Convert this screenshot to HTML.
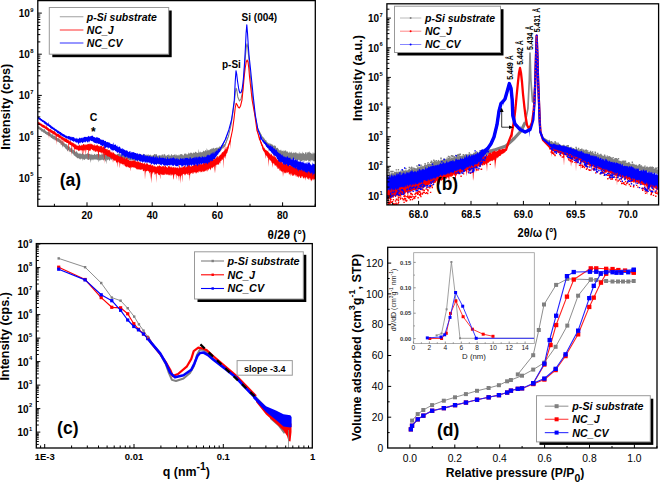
<!DOCTYPE html>
<html><head><meta charset="utf-8"><style>html,body{margin:0;padding:0;background:#fff;width:660px;height:482px;overflow:hidden}svg{display:block}text{font-family:"Liberation Sans",sans-serif}</style></head>
<body><svg width="660" height="482" viewBox="0 0 660 482">
<rect width="660" height="482" fill="#fff"/>
<clipPath id="ca"><rect x="37.8" y="0.6" width="277.5" height="205.70000000000002"/></clipPath>
<g clip-path="url(#ca)">
<polyline points="38.0,127.5 58.0,140.0 78.0,156.0 91.0,157.0 103.0,157.0 128.0,157.0 156.0,158.0 181.0,158.0 206.0,154.0 219.0,150.0 225.0,145.0 228.5,136.0 231.0,125.0 233.0,112.0 234.6,100.0 235.4,92.0 236.1,88.2 236.8,90.0 237.8,97.0 239.5,101.0 241.0,99.0 242.5,92.0 243.5,80.0 244.5,68.0 245.5,55.0 246.3,47.0 247.0,43.8 247.7,47.0 248.6,56.0 249.6,68.0 251.0,82.0 252.5,97.0 255.0,115.0 257.5,128.0 262.0,137.0 268.0,145.0 281.0,154.0 298.5,157.0 315.5,157.0" fill="none" stroke="#808080" stroke-width="1.1" stroke-linejoin="round"/>
<polygon points="37.8,126.0 38.3,125.7 38.8,126.8 39.3,126.3 39.8,127.3 40.3,127.5 40.8,127.4 41.3,128.1 41.8,128.3 42.3,129.1 42.8,128.7 43.3,129.2 43.8,129.7 44.3,129.5 44.8,128.5 45.3,130.5 45.8,131.1 46.3,131.2 46.8,131.7 47.3,131.9 47.8,131.7 48.3,132.5 48.8,130.9 49.3,132.3 49.8,132.7 50.3,133.2 50.8,133.7 51.3,134.3 51.8,134.8 52.3,134.1 52.8,134.6 53.3,135.8 53.8,135.5 54.3,135.6 54.8,136.1 55.3,136.0 55.8,137.4 56.3,137.1 56.8,137.5 57.3,138.3 57.8,137.9 58.3,138.0 58.8,138.7 59.3,139.5 59.8,139.1 60.3,139.9 60.8,140.3 61.3,140.4 61.8,141.6 62.3,141.1 62.8,141.6 63.3,141.9 63.8,143.0 64.3,142.6 64.8,143.8 65.3,144.3 65.8,143.7 66.3,144.0 66.8,144.4 67.3,145.3 67.8,146.0 68.3,146.8 68.8,146.2 69.3,146.5 69.8,146.7 70.3,147.9 70.8,148.4 71.3,148.1 71.8,148.3 72.3,148.4 72.8,150.0 73.3,149.9 73.8,149.6 74.3,150.8 74.8,150.9 75.3,152.2 75.8,151.5 76.3,150.6 76.8,152.0 77.3,152.3 77.8,153.0 78.3,153.9 78.8,153.0 79.3,154.0 79.8,152.9 80.3,154.3 80.8,153.0 81.3,154.2 81.8,153.9 82.3,152.0 82.8,153.4 83.3,154.3 83.8,154.0 84.3,154.7 84.8,154.3 85.3,154.0 85.8,154.6 86.3,153.7 86.8,154.2 87.3,153.6 87.8,152.4 88.3,154.2 88.8,153.5 89.3,153.9 89.8,153.7 90.3,154.5 90.8,154.2 91.3,154.9 91.8,153.4 92.3,154.8 92.8,154.7 93.3,155.1 93.8,154.7 94.3,153.8 94.8,153.9 95.3,155.0 95.8,154.5 96.3,154.4 96.8,154.0 97.3,154.3 97.8,154.1 98.3,153.6 98.8,153.8 99.3,154.5 99.8,154.3 100.3,154.5 100.8,155.0 101.3,154.8 101.8,153.0 102.3,154.6 102.8,154.6 103.3,154.1 103.8,153.4 104.3,153.7 104.8,153.7 105.3,153.7 105.8,154.0 106.3,153.4 106.8,153.9 107.3,154.2 107.8,155.0 108.3,154.2 108.8,154.7 109.3,154.7 109.8,154.2 110.3,153.7 110.8,154.6 111.3,153.7 111.8,154.1 112.3,154.8 112.8,153.3 113.3,154.4 113.8,154.6 114.3,153.5 114.8,154.9 115.3,153.7 115.8,154.7 116.3,154.4 116.8,154.7 117.3,153.5 117.8,154.3 118.3,153.2 118.8,153.9 119.3,153.8 119.8,154.1 120.3,154.5 120.8,154.3 121.3,153.3 121.8,154.7 122.3,151.3 122.8,153.6 123.3,154.4 123.8,153.8 124.3,154.3 124.8,153.2 125.3,154.1 125.8,155.0 126.3,154.1 126.8,153.2 127.3,154.5 127.8,153.6 128.3,154.2 128.8,154.7 129.3,153.3 129.8,155.1 130.3,154.5 130.8,153.2 131.3,154.6 131.8,153.5 132.3,154.0 132.8,153.6 133.3,154.0 133.8,154.5 134.3,153.7 134.8,155.2 135.3,154.4 135.8,154.6 136.3,154.4 136.8,155.1 137.3,154.9 137.8,154.2 138.3,154.6 138.8,153.8 139.3,154.2 139.8,153.7 140.3,154.0 140.8,154.2 141.3,154.9 141.8,153.9 142.3,155.0 142.8,155.4 143.3,153.6 143.8,154.5 144.3,154.0 144.8,154.5 145.3,154.4 145.8,155.5 146.3,155.3 146.8,154.3 147.3,154.5 147.8,155.4 148.3,153.8 148.8,155.4 149.3,154.7 149.8,155.5 150.3,154.3 150.8,155.2 151.3,155.5 151.8,155.7 152.3,155.5 152.8,155.5 153.3,154.8 153.8,155.0 154.3,153.9 154.8,154.0 155.3,154.3 155.8,154.6 156.3,154.2 156.8,154.0 157.3,155.9 157.8,155.7 158.3,155.2 158.8,155.7 159.3,154.7 159.8,155.4 160.3,155.4 160.8,155.3 161.3,155.7 161.8,154.4 162.3,154.3 162.8,154.7 163.3,155.9 163.8,153.9 164.3,154.5 164.8,153.8 165.3,155.1 165.8,155.9 166.3,155.7 166.8,155.5 167.3,155.0 167.8,154.9 168.3,154.1 168.8,155.2 169.3,155.9 169.8,154.2 170.3,155.8 170.8,155.7 171.3,153.9 171.8,154.3 172.3,155.2 172.8,155.6 173.3,155.1 173.8,155.2 174.3,154.0 174.8,155.0 175.3,155.7 175.8,153.9 176.3,154.6 176.8,155.6 177.3,155.6 177.8,154.9 178.3,155.7 178.8,154.5 179.3,154.6 179.8,155.8 180.3,154.1 180.8,154.2 181.3,153.9 181.8,154.3 182.3,154.2 182.8,155.2 183.3,155.4 183.8,155.3 184.3,153.3 184.8,153.9 185.3,153.1 185.8,154.3 186.3,153.4 186.8,154.8 187.3,154.5 187.8,154.2 188.3,153.5 188.8,152.3 189.3,153.4 189.8,153.5 190.3,153.1 190.8,152.2 191.3,153.2 191.8,152.3 192.3,153.9 192.8,153.1 193.3,152.6 193.8,152.4 194.3,153.1 194.8,152.7 195.3,151.5 195.8,152.0 196.3,152.1 196.8,153.1 197.3,153.1 197.8,152.7 198.3,152.7 198.8,148.8 199.3,152.9 199.8,152.0 200.3,152.6 200.8,151.2 201.3,152.4 201.8,152.3 202.3,152.2 202.8,151.7 203.3,150.9 203.8,150.4 204.3,151.5 204.8,151.3 205.3,150.1 205.8,150.2 206.3,151.4 206.8,147.9 207.3,149.5 207.8,150.8 208.3,149.7 208.8,150.5 209.3,150.2 209.8,149.5 210.3,149.3 210.8,149.2 211.3,147.9 211.8,149.5 212.3,148.1 212.8,149.0 213.3,147.5 213.8,148.2 214.3,148.5 214.8,148.7 215.3,147.9 215.8,148.0 216.3,147.5 216.8,147.7 217.3,148.5 217.8,147.0 218.3,148.3 218.8,146.9 219.3,146.8 219.8,146.3 220.3,146.4 220.8,146.8 221.3,146.1 221.8,145.8 222.3,145.2 222.8,145.2 223.3,144.6 223.8,144.8 224.3,144.3 224.8,143.9 225.3,143.2 225.8,142.2 226.3,140.6 226.8,139.6 227.3,138.5 227.8,137.5 228.3,136.2 228.8,134.6 229.3,132.5 229.8,130.3 230.3,128.1 230.8,125.9 231.3,123.0 231.8,119.8 232.3,116.5 232.8,113.3 233.3,109.7 233.8,106.0 234.3,102.2 234.8,98.0 235.3,93.0 235.8,89.8 236.3,88.7 236.8,90.0 237.3,93.5 237.8,97.0 238.3,98.2 238.8,99.4 239.3,100.5 239.8,100.6 240.3,99.9 240.8,99.3 241.3,97.6 241.8,95.3 242.3,92.9 242.8,88.4 243.3,82.4 243.8,76.4 244.3,70.4 244.8,64.1 245.3,57.6 245.8,52.0 246.3,47.0 246.8,44.7 247.3,45.2 247.8,48.0 248.3,53.0 248.8,58.4 249.3,64.4 249.8,70.0 250.3,75.0 250.8,80.0 251.3,85.0 251.8,90.0 252.3,95.0 252.8,99.2 253.3,102.8 253.8,106.4 254.3,110.0 254.8,113.6 255.3,116.6 255.8,119.2 256.3,121.8 256.8,124.4 257.3,127.0 257.8,128.6 258.3,129.5 258.8,130.4 259.3,131.3 259.8,132.0 260.3,132.9 260.8,133.9 261.3,134.4 261.8,135.3 262.3,136.4 262.8,137.1 263.3,137.0 263.8,138.3 264.3,138.3 264.8,139.3 265.3,139.9 265.8,140.2 266.3,140.3 266.8,142.1 267.3,142.5 267.8,142.3 268.3,143.1 268.8,143.6 269.3,142.8 269.8,144.2 270.3,143.7 270.8,143.5 271.3,144.1 271.8,144.4 272.3,144.6 272.8,144.7 273.3,146.1 273.8,145.6 274.3,145.5 274.8,145.5 275.3,145.8 275.8,146.1 276.3,148.3 276.8,148.0 277.3,148.1 277.8,147.5 278.3,148.9 278.8,149.6 279.3,150.5 279.8,150.2 280.3,149.5 280.8,150.5 281.3,151.4 281.8,149.6 282.3,150.7 282.8,151.2 283.3,150.1 283.8,151.7 284.3,151.0 284.8,150.5 285.3,150.3 285.8,150.5 286.3,152.3 286.8,150.8 287.3,151.2 287.8,151.9 288.3,152.9 288.8,152.6 289.3,151.3 289.8,153.0 290.3,152.3 290.8,152.7 291.3,151.3 291.8,152.7 292.3,153.4 292.8,152.8 293.3,153.0 293.8,152.1 294.3,153.2 294.8,152.4 295.3,152.8 295.8,152.1 296.3,152.5 296.8,153.4 297.3,153.3 297.8,153.4 298.3,152.5 298.8,154.3 299.3,153.6 299.8,151.4 300.3,153.5 300.8,153.2 301.3,153.4 301.8,153.6 302.3,151.3 302.8,153.8 303.3,153.1 303.8,152.8 304.3,154.3 304.8,153.8 305.3,152.3 305.8,152.2 306.3,152.1 306.8,154.5 307.3,152.5 307.8,152.3 308.3,151.7 308.8,152.8 309.3,151.0 309.8,152.8 310.3,153.1 310.8,152.6 311.3,153.3 311.8,154.0 312.3,154.3 312.8,152.3 313.3,152.6 313.8,154.1 314.3,152.5 314.8,153.8 315.3,152.9 315.3,161.9 314.8,161.5 314.3,160.9 313.8,161.1 313.3,161.5 312.8,161.2 312.3,159.9 311.8,159.7 311.3,161.0 310.8,160.0 310.3,161.9 309.8,161.2 309.3,161.1 308.8,162.3 308.3,160.5 307.8,160.4 307.3,159.8 306.8,161.3 306.3,160.4 305.8,160.8 305.3,160.8 304.8,160.0 304.3,161.8 303.8,161.2 303.3,160.0 302.8,160.1 302.3,161.4 301.8,161.1 301.3,161.2 300.8,160.7 300.3,161.5 299.8,161.5 299.3,159.8 298.8,160.5 298.3,159.5 297.8,160.8 297.3,161.1 296.8,160.2 296.3,159.7 295.8,159.4 295.3,159.8 294.8,160.1 294.3,159.2 293.8,158.7 293.3,158.6 292.8,158.7 292.3,158.9 291.8,159.6 291.3,159.7 290.8,159.9 290.3,159.3 289.8,158.3 289.3,159.4 288.8,158.2 288.3,158.0 287.8,158.7 287.3,159.1 286.8,159.2 286.3,160.8 285.8,159.0 285.3,159.3 284.8,158.9 284.3,157.7 283.8,157.7 283.3,157.5 282.8,158.7 282.3,158.0 281.8,158.5 281.3,158.1 280.8,158.4 280.3,156.6 279.8,156.7 279.3,156.1 278.8,156.5 278.3,156.6 277.8,155.1 277.3,154.8 276.8,153.8 276.3,153.7 275.8,154.6 275.3,152.5 274.8,153.9 274.3,152.1 273.8,151.9 273.3,152.5 272.8,151.0 272.3,150.2 271.8,150.9 271.3,149.7 270.8,148.7 270.3,149.8 269.8,148.5 269.3,148.4 268.8,151.8 268.3,147.6 267.8,147.0 267.3,145.5 266.8,145.1 266.3,144.5 265.8,143.5 265.3,143.6 264.8,142.5 264.3,141.6 263.8,141.0 263.3,139.8 262.8,139.5 262.3,138.6 261.8,137.6 261.3,136.6 260.8,135.5 260.3,134.4 259.8,133.1 259.3,132.1 258.8,130.9 258.3,130.5 257.8,128.6 257.3,127.0 256.8,124.4 256.3,121.8 255.8,119.2 255.3,116.6 254.8,113.6 254.3,110.0 253.8,106.4 253.3,102.8 252.8,99.2 252.3,95.0 251.8,90.0 251.3,85.0 250.8,80.0 250.3,75.0 249.8,70.0 249.3,64.4 248.8,58.4 248.3,53.0 247.8,48.0 247.3,45.2 246.8,44.7 246.3,47.0 245.8,52.0 245.3,57.6 244.8,64.1 244.3,70.4 243.8,76.4 243.3,82.4 242.8,88.4 242.3,92.9 241.8,95.3 241.3,97.6 240.8,99.3 240.3,99.9 239.8,100.6 239.3,100.5 238.8,99.4 238.3,98.2 237.8,97.0 237.3,93.5 236.8,90.0 236.3,88.7 235.8,89.8 235.3,93.0 234.8,98.0 234.3,102.2 233.8,106.0 233.3,109.7 232.8,113.3 232.3,116.5 231.8,119.8 231.3,123.0 230.8,125.9 230.3,128.1 229.8,130.3 229.3,132.5 228.8,134.8 228.3,136.7 227.8,138.2 227.3,139.5 226.8,141.1 226.3,142.7 225.8,144.2 225.3,145.6 224.8,146.8 224.3,147.1 223.8,147.6 223.3,148.6 222.8,148.5 222.3,148.6 221.8,149.5 221.3,150.2 220.8,150.8 220.3,151.7 219.8,151.3 219.3,151.5 218.8,153.1 218.3,152.6 217.8,153.1 217.3,153.3 216.8,153.3 216.3,154.7 215.8,154.0 215.3,153.8 214.8,153.8 214.3,155.5 213.8,155.9 213.3,155.2 212.8,156.4 212.3,155.0 211.8,154.9 211.3,156.7 210.8,156.2 210.3,156.3 209.8,155.1 209.3,155.5 208.8,156.3 208.3,157.4 207.8,156.4 207.3,157.3 206.8,159.4 206.3,157.6 205.8,159.8 205.3,157.2 204.8,158.5 204.3,158.6 203.8,158.4 203.3,158.5 202.8,158.9 202.3,157.1 201.8,157.1 201.3,158.4 200.8,158.2 200.3,158.4 199.8,157.7 199.3,158.8 198.8,158.7 198.3,158.5 197.8,158.2 197.3,159.8 196.8,158.9 196.3,158.5 195.8,158.3 195.3,159.6 194.8,158.1 194.3,158.7 193.8,160.0 193.3,160.2 192.8,159.0 192.3,159.9 191.8,159.5 191.3,158.8 190.8,159.3 190.3,159.2 189.8,159.3 189.3,158.9 188.8,159.9 188.3,159.0 187.8,159.9 187.3,159.6 186.8,159.8 186.3,160.7 185.8,159.8 185.3,159.8 184.8,161.4 184.3,161.1 183.8,160.5 183.3,161.6 182.8,161.7 182.3,161.5 181.8,160.6 181.3,160.6 180.8,161.2 180.3,160.4 179.8,162.4 179.3,160.7 178.8,160.5 178.3,160.2 177.8,161.0 177.3,162.1 176.8,161.7 176.3,162.0 175.8,161.6 175.3,161.7 174.8,161.7 174.3,161.2 173.8,160.1 173.3,161.5 172.8,161.5 172.3,160.4 171.8,161.6 171.3,160.6 170.8,161.4 170.3,161.8 169.8,160.4 169.3,161.5 168.8,160.8 168.3,161.6 167.8,160.3 167.3,160.7 166.8,161.0 166.3,160.1 165.8,162.1 165.3,161.6 164.8,161.8 164.3,160.2 163.8,161.1 163.3,162.1 162.8,162.0 162.3,160.2 161.8,161.1 161.3,161.9 160.8,161.3 160.3,161.0 159.8,160.1 159.3,164.1 158.8,162.1 158.3,161.8 157.8,160.2 157.3,161.4 156.8,162.0 156.3,160.3 155.8,161.6 155.3,161.5 154.8,160.9 154.3,160.4 153.8,160.8 153.3,161.9 152.8,160.5 152.3,160.9 151.8,161.5 151.3,161.8 150.8,160.2 150.3,163.8 149.8,160.4 149.3,161.5 148.8,160.6 148.3,161.4 147.8,161.6 147.3,160.4 146.8,159.7 146.3,160.9 145.8,161.5 145.3,161.4 144.8,160.2 144.3,161.6 143.8,159.9 143.3,161.4 142.8,161.5 142.3,159.8 141.8,159.6 141.3,161.3 140.8,160.4 140.3,160.2 139.8,161.0 139.3,160.7 138.8,161.0 138.3,159.8 137.8,161.0 137.3,159.4 136.8,161.1 136.3,160.6 135.8,159.8 135.3,161.0 134.8,160.6 134.3,161.1 133.8,161.0 133.3,159.5 132.8,160.8 132.3,160.3 131.8,159.4 131.3,160.6 130.8,160.3 130.3,160.5 129.8,160.2 129.3,160.2 128.8,160.0 128.3,159.2 127.8,159.8 127.3,159.2 126.8,159.6 126.3,159.6 125.8,160.5 125.3,160.5 124.8,159.3 124.3,160.3 123.8,160.4 123.3,160.0 122.8,159.1 122.3,160.4 121.8,160.3 121.3,159.7 120.8,160.6 120.3,160.2 119.8,159.8 119.3,160.6 118.8,160.6 118.3,159.1 117.8,161.8 117.3,159.6 116.8,159.5 116.3,160.2 115.8,160.3 115.3,159.5 114.8,160.4 114.3,159.5 113.8,159.5 113.3,160.5 112.8,159.0 112.3,159.0 111.8,158.9 111.3,160.2 110.8,159.5 110.3,159.0 109.8,160.7 109.3,160.7 108.8,159.5 108.3,159.4 107.8,159.7 107.3,160.5 106.8,159.1 106.3,164.4 105.8,160.2 105.3,162.0 104.8,159.3 104.3,159.4 103.8,160.3 103.3,160.6 102.8,160.0 102.3,159.4 101.8,159.6 101.3,160.2 100.8,159.7 100.3,160.5 99.8,160.4 99.3,160.5 98.8,159.6 98.3,162.6 97.8,159.9 97.3,159.8 96.8,159.5 96.3,159.7 95.8,159.1 95.3,160.1 94.8,159.3 94.3,159.5 93.8,160.5 93.3,159.3 92.8,159.2 92.3,160.2 91.8,160.3 91.3,159.1 90.8,162.9 90.3,160.2 89.8,159.8 89.3,159.0 88.8,159.9 88.3,160.1 87.8,159.0 87.3,159.9 86.8,159.2 86.3,158.6 85.8,158.8 85.3,159.0 84.8,160.0 84.3,159.8 83.8,159.6 83.3,159.1 82.8,161.1 82.3,158.7 81.8,159.1 81.3,158.5 80.8,158.8 80.3,159.7 79.8,159.3 79.3,158.7 78.8,157.9 78.3,158.6 77.8,157.9 77.3,158.5 76.8,157.7 76.3,157.0 75.8,156.8 75.3,156.5 74.8,155.4 74.3,156.0 73.8,155.2 73.3,154.3 72.8,153.7 72.3,153.2 71.8,153.8 71.3,152.5 70.8,151.8 70.3,152.0 69.8,152.2 69.3,151.3 68.8,150.3 68.3,149.8 67.8,151.5 67.3,151.0 66.8,149.8 66.3,149.3 65.8,148.8 65.3,148.5 64.8,147.6 64.3,146.9 63.8,146.9 63.3,145.7 62.8,145.6 62.3,148.1 61.8,144.6 61.3,145.1 60.8,144.5 60.3,143.1 59.8,143.0 59.3,142.8 58.8,142.3 58.3,141.7 57.8,141.9 57.3,141.2 56.8,141.5 56.3,140.4 55.8,140.4 55.3,140.0 54.8,140.4 54.3,139.2 53.8,139.6 53.3,139.2 52.8,138.8 52.3,138.7 51.8,138.0 51.3,138.0 50.8,137.6 50.3,136.7 49.8,136.6 49.3,136.1 48.8,136.3 48.3,135.6 47.8,135.5 47.3,134.7 46.8,135.1 46.3,134.3 45.8,133.9 45.3,134.1 44.8,133.3 44.3,132.7 43.8,132.7 43.3,132.4 42.8,132.1 42.3,131.4 41.8,131.5 41.3,131.5 40.8,130.4 40.3,130.0 39.8,129.7 39.3,129.4 38.8,129.2 38.3,128.9 37.8,128.9" fill="#808080"/>
<polyline points="38.0,123.0 58.0,135.5 78.0,148.0 91.0,147.0 103.0,150.0 116.0,158.0 128.0,163.0 141.0,166.0 156.0,170.0 181.0,171.5 206.0,166.5 219.0,160.0 227.2,150.0 230.4,140.0 232.5,130.0 234.1,118.0 235.2,108.0 236.2,103.2 237.3,105.0 238.4,107.5 239.4,108.0 240.5,106.0 242.0,99.8 243.2,88.0 244.2,76.5 245.2,68.0 246.2,62.0 247.1,60.0 248.0,62.0 248.8,68.0 249.5,76.5 250.8,88.0 252.1,99.8 254.8,115.0 256.9,130.0 260.0,140.0 263.8,150.0 268.5,155.5 281.0,166.5 298.5,172.5 315.5,176.0" fill="none" stroke="#ff0000" stroke-width="1.1" stroke-linejoin="round"/>
<polygon points="37.8,121.9 38.2,122.0 38.6,121.7 39.0,122.6 39.4,122.4 39.8,122.5 40.2,122.7 40.6,123.7 41.0,123.7 41.4,123.6 41.8,123.9 42.2,124.6 42.6,124.5 43.0,124.6 43.4,125.0 43.8,125.1 44.2,125.0 44.6,125.5 45.0,126.1 45.4,126.5 45.8,126.6 46.2,122.5 46.6,126.6 47.0,126.9 47.4,127.6 47.8,127.3 48.2,127.9 48.6,128.0 49.0,128.8 49.4,129.0 49.8,129.2 50.2,128.8 50.6,129.2 51.0,129.3 51.4,129.7 51.8,130.2 52.2,130.4 52.6,130.5 53.0,130.5 53.4,131.2 53.8,131.0 54.2,131.5 54.6,130.0 55.0,132.1 55.4,132.1 55.8,132.7 56.2,132.8 56.6,133.4 57.0,133.7 57.4,134.0 57.8,133.6 58.2,134.1 58.6,133.9 59.0,134.2 59.4,134.9 59.8,134.5 60.2,135.2 60.6,135.2 61.0,135.9 61.4,136.3 61.8,136.6 62.2,136.9 62.6,136.6 63.0,137.4 63.4,137.8 63.8,137.1 64.2,138.2 64.6,138.0 65.0,138.2 65.4,138.3 65.8,138.7 66.2,138.4 66.6,138.8 67.0,139.3 67.4,139.4 67.8,139.8 68.2,139.5 68.6,140.6 69.0,140.2 69.4,140.6 69.8,141.5 70.2,141.4 70.6,140.8 71.0,141.2 71.4,142.5 71.8,142.3 72.2,143.0 72.6,142.1 73.0,143.3 73.4,143.6 73.8,142.5 74.2,143.5 74.6,143.9 75.0,144.6 75.4,144.3 75.8,144.5 76.2,144.5 76.6,145.6 77.0,145.6 77.4,145.7 77.8,145.6 78.2,145.9 78.6,145.3 79.0,145.8 79.4,144.7 79.8,144.5 80.2,146.0 80.6,145.7 81.0,145.0 81.4,144.6 81.8,145.8 82.2,145.6 82.6,145.0 83.0,144.6 83.4,144.1 83.8,144.1 84.2,144.2 84.6,145.5 85.0,143.7 85.4,144.4 85.8,145.3 86.2,145.0 86.6,144.2 87.0,144.6 87.4,144.5 87.8,143.8 88.2,143.7 88.6,144.2 89.0,143.7 89.4,144.4 89.8,143.2 90.2,143.9 90.6,143.2 91.0,144.9 91.4,143.4 91.8,144.1 92.2,143.9 92.6,145.0 93.0,144.4 93.4,145.0 93.8,145.5 94.2,145.8 94.6,144.1 95.0,144.6 95.4,145.7 95.8,145.7 96.2,145.3 96.6,144.7 97.0,146.2 97.4,144.6 97.8,144.7 98.2,146.3 98.6,145.5 99.0,146.2 99.4,145.6 99.8,147.0 100.2,146.3 100.6,146.1 101.0,146.1 101.4,146.1 101.8,145.8 102.2,147.2 102.6,147.5 103.0,147.1 103.4,147.0 103.8,142.3 104.2,147.1 104.6,147.3 105.0,147.1 105.4,148.8 105.8,149.0 106.2,148.9 106.6,149.4 107.0,148.9 107.4,148.5 107.8,150.5 108.2,149.9 108.6,149.8 109.0,150.5 109.4,149.8 109.8,150.4 110.2,150.3 110.6,152.3 111.0,152.3 111.4,152.8 111.8,151.4 112.2,151.3 112.6,153.7 113.0,152.2 113.4,152.6 113.8,152.4 114.2,154.1 114.6,153.3 115.0,154.6 115.4,155.2 115.8,154.0 116.2,155.7 116.6,154.4 117.0,155.5 117.4,155.2 117.8,154.5 118.2,156.1 118.6,155.8 119.0,156.2 119.4,156.7 119.8,156.2 120.2,157.1 120.6,155.8 121.0,156.4 121.4,157.3 121.8,155.9 122.2,157.5 122.6,156.9 123.0,156.9 123.4,157.9 123.8,158.9 124.2,157.0 124.6,157.0 125.0,159.0 125.4,159.2 125.8,158.7 126.2,158.5 126.6,157.7 127.0,158.0 127.4,158.1 127.8,160.0 128.2,159.3 128.6,159.7 129.0,160.3 129.4,160.8 129.8,160.6 130.2,160.3 130.6,161.0 131.0,160.9 131.4,161.3 131.8,160.0 132.2,160.4 132.6,161.1 133.0,160.5 133.4,160.8 133.8,160.3 134.2,159.7 134.6,161.2 135.0,160.6 135.4,161.7 135.8,160.0 136.2,160.9 136.6,162.1 137.0,162.0 137.4,158.1 137.8,162.3 138.2,162.1 138.6,160.9 139.0,161.9 139.4,162.4 139.8,162.2 140.2,162.6 140.6,161.6 141.0,163.3 141.4,162.9 141.8,162.9 142.2,163.4 142.6,162.1 143.0,163.6 143.4,163.4 143.8,164.1 144.2,162.4 144.6,163.5 145.0,162.9 145.4,164.1 145.8,164.7 146.2,164.1 146.6,163.0 147.0,163.0 147.4,164.3 147.8,163.1 148.2,165.3 148.6,164.2 149.0,165.0 149.4,164.6 149.8,165.3 150.2,163.7 150.6,165.3 151.0,163.7 151.4,166.0 151.8,165.2 152.2,165.3 152.6,164.7 153.0,165.8 153.4,165.5 153.8,166.7 154.2,166.2 154.6,165.2 155.0,166.9 155.4,166.1 155.8,166.8 156.2,167.0 156.6,167.2 157.0,165.4 157.4,165.8 157.8,166.6 158.2,166.6 158.6,165.7 159.0,166.1 159.4,165.3 159.8,165.3 160.2,166.4 160.6,166.0 161.0,166.3 161.4,167.0 161.8,166.6 162.2,165.9 162.6,166.4 163.0,166.2 163.4,166.6 163.8,165.4 164.2,165.9 164.6,167.6 165.0,165.9 165.4,165.6 165.8,165.9 166.2,167.1 166.6,167.1 167.0,167.4 167.4,167.9 167.8,166.9 168.2,165.9 168.6,166.2 169.0,166.5 169.4,166.0 169.8,166.5 170.2,167.7 170.6,166.2 171.0,167.3 171.4,166.0 171.8,167.5 172.2,168.1 172.6,166.5 173.0,168.1 173.4,166.2 173.8,167.4 174.2,166.4 174.6,168.4 175.0,167.1 175.4,166.8 175.8,168.2 176.2,167.0 176.6,168.2 177.0,167.8 177.4,167.7 177.8,167.1 178.2,168.4 178.6,168.2 179.0,166.7 179.4,163.7 179.8,167.6 180.2,168.1 180.6,167.0 181.0,167.6 181.4,168.0 181.8,166.4 182.2,168.1 182.6,166.4 183.0,166.8 183.4,166.7 183.8,166.5 184.2,166.2 184.6,165.8 185.0,165.6 185.4,167.3 185.8,167.5 186.2,165.4 186.6,167.2 187.0,167.1 187.4,165.4 187.8,164.9 188.2,165.2 188.6,161.3 189.0,166.2 189.4,164.5 189.8,165.1 190.2,165.3 190.6,166.9 191.0,166.3 191.4,166.7 191.8,164.2 192.2,166.0 192.6,166.0 193.0,164.9 193.4,165.8 193.8,164.8 194.2,163.6 194.6,163.8 195.0,165.4 195.4,163.5 195.8,164.8 196.2,164.4 196.6,164.8 197.0,162.9 197.4,164.7 197.8,163.5 198.2,163.7 198.6,163.4 199.0,164.9 199.4,163.7 199.8,162.3 200.2,163.4 200.6,164.3 201.0,164.7 201.4,163.8 201.8,162.6 202.2,164.5 202.6,164.3 203.0,162.6 203.4,161.9 203.8,163.0 204.2,162.5 204.6,163.4 205.0,163.2 205.4,162.6 205.8,163.2 206.2,162.4 206.6,163.1 207.0,160.8 207.4,161.3 207.8,162.6 208.2,159.1 208.6,160.2 209.0,161.3 209.4,161.4 209.8,161.8 210.2,159.8 210.6,159.9 211.0,159.0 211.4,160.6 211.8,158.8 212.2,158.4 212.6,158.2 213.0,158.2 213.4,158.8 213.8,159.7 214.2,157.9 214.6,159.4 215.0,159.0 215.4,158.0 215.8,158.6 216.2,157.5 216.6,156.3 217.0,157.9 217.4,156.1 217.8,155.5 218.2,157.8 218.6,156.6 219.0,155.8 219.4,155.3 219.8,155.9 220.2,154.2 220.6,154.8 221.0,154.8 221.4,153.6 221.8,152.9 222.2,151.9 222.6,151.9 223.0,152.7 223.4,151.2 223.8,151.3 224.2,150.0 224.6,151.0 225.0,144.8 225.4,148.5 225.8,149.6 226.2,149.3 226.6,147.3 227.0,147.1 227.4,147.6 227.8,145.4 228.2,145.1 228.6,143.9 229.0,142.9 229.4,142.0 229.8,140.5 230.2,139.7 230.6,138.1 231.0,136.6 231.4,134.9 231.8,133.2 232.2,131.4 232.6,129.3 233.0,126.3 233.4,123.3 233.8,120.3 234.2,117.1 234.6,113.5 235.0,109.8 235.4,107.0 235.8,105.1 236.2,103.2 236.6,103.9 237.0,104.5 237.4,105.2 237.8,106.1 238.2,107.0 238.6,107.6 239.0,107.8 239.4,108.0 239.8,107.3 240.2,106.5 240.6,105.6 241.0,103.9 241.4,102.3 241.8,100.6 242.2,97.8 242.6,93.9 243.0,90.0 243.4,85.7 243.8,81.1 244.2,76.5 244.6,73.1 245.0,69.7 245.4,66.8 245.8,64.4 246.2,62.0 246.6,61.1 247.0,60.2 247.4,60.7 247.8,61.6 248.2,63.5 248.6,66.5 249.0,70.4 249.4,75.3 249.8,79.2 250.2,82.7 250.6,86.2 251.0,89.8 251.4,93.4 251.8,97.1 252.2,100.4 252.6,102.6 253.0,104.9 253.4,107.1 253.8,109.4 254.2,111.6 254.6,113.9 255.0,116.4 255.4,119.3 255.8,122.1 256.2,124.9 256.6,127.7 257.0,129.9 257.4,131.1 257.8,132.5 258.2,133.6 258.6,134.9 259.0,135.6 259.4,137.2 259.8,137.9 260.2,139.2 260.6,140.6 261.0,141.4 261.4,142.3 261.8,142.6 262.2,144.0 262.6,145.3 263.0,145.2 263.4,146.8 263.8,148.4 264.2,147.5 264.6,148.3 265.0,149.1 265.4,150.0 265.8,149.5 266.2,150.9 266.6,149.8 267.0,150.5 267.4,151.0 267.8,151.3 268.2,151.5 268.6,152.6 269.0,152.2 269.4,154.0 269.8,153.0 270.2,153.2 270.6,154.6 271.0,155.2 271.4,153.6 271.8,153.9 272.2,156.1 272.6,155.2 273.0,156.5 273.4,156.7 273.8,155.1 274.2,151.4 274.6,156.1 275.0,157.7 275.4,156.7 275.8,157.3 276.2,158.6 276.6,158.5 277.0,159.5 277.4,158.9 277.8,160.4 278.2,160.1 278.6,159.3 279.0,160.2 279.4,160.7 279.8,162.4 280.2,160.8 280.6,161.7 281.0,161.1 281.4,161.3 281.8,161.5 282.2,162.7 282.6,162.2 283.0,164.2 283.4,164.4 283.8,162.5 284.2,163.0 284.6,162.4 285.0,164.3 285.4,163.9 285.8,163.2 286.2,163.9 286.6,163.3 287.0,164.7 287.4,163.6 287.8,163.7 288.2,163.7 288.6,165.3 289.0,164.0 289.4,165.8 289.8,165.1 290.2,164.2 290.6,165.3 291.0,165.5 291.4,166.3 291.8,166.0 292.2,166.2 292.6,165.9 293.0,166.4 293.4,167.1 293.8,167.6 294.2,165.6 294.6,166.7 295.0,168.1 295.4,167.8 295.8,167.0 296.2,168.3 296.6,166.6 297.0,162.7 297.4,167.5 297.8,167.7 298.2,169.2 298.6,167.2 299.0,167.5 299.4,169.5 299.8,168.5 300.2,168.6 300.6,169.3 301.0,169.2 301.4,169.6 301.8,168.7 302.2,169.3 302.6,170.3 303.0,170.1 303.4,170.3 303.8,169.1 304.2,169.4 304.6,169.9 305.0,169.6 305.4,169.2 305.8,170.7 306.2,171.2 306.6,168.8 307.0,171.0 307.4,170.9 307.8,169.7 308.2,169.0 308.6,171.5 309.0,170.8 309.4,169.6 309.8,171.8 310.2,171.5 310.6,170.6 311.0,170.0 311.4,172.1 311.8,171.3 312.2,170.9 312.6,171.1 313.0,171.3 313.4,170.1 313.8,166.4 314.2,172.4 314.6,172.4 315.0,172.0 315.4,173.0 315.4,181.4 315.0,179.6 314.6,179.3 314.2,179.4 313.8,178.5 313.4,180.0 313.0,180.6 312.6,179.5 312.2,178.4 311.8,180.5 311.4,180.5 311.0,181.8 310.6,178.1 310.2,179.9 309.8,179.5 309.4,177.8 309.0,178.0 308.6,179.1 308.2,180.0 307.8,178.5 307.4,178.9 307.0,177.3 306.6,177.4 306.2,176.9 305.8,180.7 305.4,177.8 305.0,177.8 304.6,177.1 304.2,178.7 303.8,177.6 303.4,178.7 303.0,178.3 302.6,176.3 302.2,176.6 301.8,176.1 301.4,177.2 301.0,178.3 300.6,177.7 300.2,178.2 299.8,175.8 299.4,177.3 299.0,175.4 298.6,177.6 298.2,177.8 297.8,176.7 297.4,175.9 297.0,177.2 296.6,176.3 296.2,174.9 295.8,174.6 295.4,176.8 295.0,174.8 294.6,174.0 294.2,175.6 293.8,175.8 293.4,175.1 293.0,176.0 292.6,175.9 292.2,175.1 291.8,173.0 291.4,175.5 291.0,174.2 290.6,173.3 290.2,176.4 289.8,173.3 289.4,174.4 289.0,174.7 288.6,172.3 288.2,172.0 287.8,173.0 287.4,172.8 287.0,171.6 286.6,172.4 286.2,173.2 285.8,173.4 285.4,172.6 285.0,173.0 284.6,173.4 284.2,172.3 283.8,171.0 283.4,173.5 283.0,177.1 282.6,171.1 282.2,172.5 281.8,171.5 281.4,171.5 281.0,170.7 280.6,171.2 280.2,169.4 279.8,170.9 279.4,169.8 279.0,167.6 278.6,168.8 278.2,169.0 277.8,169.0 277.4,168.0 277.0,166.3 276.6,167.4 276.2,165.2 275.8,165.4 275.4,165.5 275.0,165.8 274.6,165.3 274.2,163.8 273.8,163.1 273.4,163.7 273.0,163.7 272.6,168.1 272.2,162.9 271.8,163.1 271.4,161.8 271.0,161.0 270.6,159.9 270.2,161.1 269.8,160.3 269.4,158.9 269.0,159.9 268.6,167.0 268.2,158.3 267.8,157.9 267.4,157.2 267.0,156.1 266.6,155.4 266.2,155.9 265.8,159.0 265.4,155.0 265.0,154.4 264.6,152.5 264.2,152.3 263.8,151.6 263.4,150.9 263.0,150.0 262.6,149.4 262.2,147.2 261.8,145.9 261.4,145.6 261.0,144.6 260.6,142.8 260.2,141.6 259.8,140.3 259.4,139.5 259.0,140.1 258.6,136.3 258.2,134.7 257.8,133.3 257.4,132.1 257.0,131.9 256.6,128.0 256.2,125.1 255.8,122.1 255.4,119.3 255.0,116.4 254.6,113.9 254.2,111.6 253.8,109.4 253.4,107.1 253.0,104.9 252.6,102.6 252.2,100.4 251.8,97.1 251.4,93.4 251.0,89.8 250.6,86.2 250.2,82.7 249.8,79.2 249.4,75.3 249.0,70.4 248.6,66.5 248.2,63.5 247.8,61.6 247.4,60.7 247.0,60.2 246.6,61.1 246.2,62.0 245.8,64.4 245.4,66.8 245.0,69.7 244.6,73.1 244.2,76.5 243.8,81.1 243.4,85.7 243.0,90.0 242.6,93.9 242.2,97.8 241.8,100.6 241.4,102.3 241.0,103.9 240.6,105.6 240.2,106.5 239.8,107.3 239.4,108.0 239.0,107.8 238.6,107.6 238.2,107.0 237.8,106.1 237.4,105.2 237.0,104.5 236.6,103.9 236.2,103.2 235.8,105.1 235.4,107.0 235.0,109.8 234.6,113.5 234.2,117.1 233.8,120.3 233.4,123.3 233.0,126.3 232.6,129.3 232.2,131.4 231.8,133.4 231.4,135.5 231.0,137.5 230.6,149.2 230.2,141.3 229.8,142.9 229.4,144.1 229.0,145.4 228.6,147.2 228.2,149.4 227.8,150.8 227.4,152.4 227.0,153.2 226.6,153.6 226.2,154.2 225.8,159.5 225.4,156.2 225.0,155.6 224.6,157.3 224.2,157.9 223.8,157.2 223.4,169.1 223.0,158.4 222.6,159.5 222.2,160.2 221.8,159.3 221.4,161.1 221.0,161.1 220.6,161.1 220.2,163.7 219.8,162.6 219.4,162.4 219.0,164.9 218.6,164.3 218.2,164.4 217.8,165.2 217.4,163.8 217.0,165.1 216.6,164.6 216.2,165.3 215.8,173.3 215.4,164.6 215.0,167.2 214.6,173.4 214.2,165.8 213.8,166.8 213.4,167.6 213.0,166.5 212.6,168.7 212.2,167.8 211.8,168.5 211.4,167.0 211.0,168.8 210.6,169.5 210.2,170.4 209.8,168.6 209.4,168.6 209.0,168.9 208.6,169.6 208.2,170.6 207.8,169.0 207.4,171.2 207.0,171.4 206.6,170.7 206.2,169.4 205.8,171.3 205.4,170.2 205.0,171.5 204.6,171.2 204.2,171.5 203.8,171.6 203.4,172.2 203.0,170.7 202.6,172.4 202.2,170.6 201.8,172.4 201.4,171.7 201.0,171.9 200.6,172.4 200.2,171.1 199.8,170.8 199.4,172.3 199.0,171.6 198.6,171.2 198.2,173.3 197.8,172.2 197.4,172.5 197.0,171.8 196.6,173.5 196.2,173.3 195.8,171.7 195.4,173.8 195.0,172.2 194.6,172.0 194.2,172.8 193.8,174.1 193.4,171.7 193.0,174.3 192.6,171.9 192.2,174.2 191.8,172.9 191.4,173.2 191.0,172.5 190.6,174.2 190.2,173.7 189.8,181.5 189.4,175.1 189.0,175.2 188.6,175.1 188.2,172.8 187.8,174.2 187.4,175.2 187.0,173.6 186.6,174.1 186.2,173.5 185.8,174.3 185.4,174.8 185.0,175.8 184.6,173.6 184.2,175.4 183.8,173.7 183.4,174.1 183.0,173.9 182.6,175.2 182.2,182.6 181.8,174.6 181.4,176.0 181.0,175.4 180.6,183.7 180.2,176.7 179.8,176.1 179.4,175.4 179.0,181.6 178.6,176.2 178.2,176.5 177.8,175.6 177.4,176.0 177.0,175.0 176.6,174.8 176.2,179.7 175.8,174.8 175.4,173.9 175.0,174.1 174.6,174.6 174.2,175.3 173.8,178.8 173.4,179.7 173.0,174.8 172.6,175.5 172.2,174.0 171.8,175.1 171.4,175.9 171.0,173.5 170.6,174.8 170.2,175.7 169.8,175.4 169.4,174.5 169.0,174.9 168.6,174.2 168.2,175.4 167.8,175.1 167.4,173.8 167.0,175.2 166.6,174.5 166.2,174.6 165.8,173.5 165.4,175.2 165.0,173.2 164.6,175.0 164.2,175.0 163.8,174.5 163.4,174.9 163.0,175.3 162.6,174.2 162.2,175.2 161.8,174.2 161.4,175.0 161.0,174.1 160.6,173.8 160.2,179.6 159.8,174.9 159.4,175.2 159.0,174.4 158.6,174.9 158.2,174.5 157.8,173.2 157.4,173.0 157.0,174.1 156.6,172.9 156.2,182.9 155.8,173.3 155.4,174.0 155.0,174.8 154.6,174.5 154.2,172.1 153.8,173.1 153.4,171.9 153.0,171.8 152.6,173.5 152.2,173.7 151.8,178.2 151.4,183.4 151.0,171.7 150.6,172.3 150.2,179.4 149.8,173.1 149.4,173.3 149.0,170.9 148.6,171.1 148.2,172.0 147.8,170.5 147.4,170.8 147.0,171.0 146.6,171.1 146.2,171.4 145.8,171.2 145.4,173.8 145.0,179.7 144.6,170.9 144.2,170.2 143.8,171.6 143.4,170.8 143.0,171.3 142.6,169.1 142.2,169.4 141.8,169.2 141.4,169.8 141.0,170.1 140.6,169.7 140.2,169.5 139.8,170.1 139.4,168.8 139.0,170.1 138.6,169.3 138.2,169.3 137.8,168.8 137.4,169.9 137.0,169.0 136.6,168.5 136.2,169.7 135.8,168.2 135.4,168.0 135.0,167.5 134.6,167.9 134.2,167.3 133.8,167.3 133.4,167.8 133.0,167.3 132.6,167.4 132.2,167.0 131.8,166.8 131.4,168.3 131.0,167.2 130.6,171.5 130.2,167.0 129.8,167.6 129.4,168.0 129.0,167.9 128.6,167.0 128.2,167.3 127.8,167.3 127.4,166.0 127.0,167.3 126.6,167.2 126.2,166.5 125.8,166.4 125.4,166.5 125.0,165.9 124.6,163.9 124.2,165.9 123.8,165.5 123.4,163.8 123.0,164.4 122.6,164.0 122.2,164.7 121.8,164.0 121.4,163.8 121.0,163.0 120.6,163.5 120.2,164.1 119.8,168.4 119.4,162.5 119.0,163.1 118.6,161.7 118.2,161.7 117.8,167.7 117.4,163.1 117.0,161.7 116.6,162.3 116.2,163.6 115.8,160.7 115.4,160.8 115.0,160.0 114.6,160.8 114.2,161.1 113.8,159.1 113.4,160.7 113.0,162.7 112.6,159.4 112.2,158.1 111.8,159.8 111.4,158.3 111.0,158.2 110.6,157.2 110.2,158.3 109.8,156.9 109.4,157.0 109.0,156.7 108.6,157.1 108.2,156.1 107.8,156.2 107.4,156.6 107.0,156.4 106.6,154.8 106.2,155.9 105.8,154.7 105.4,155.0 105.0,154.9 104.6,164.1 104.2,153.4 103.8,153.4 103.4,154.2 103.0,157.8 102.6,153.0 102.2,152.2 101.8,153.1 101.4,153.5 101.0,151.7 100.6,152.6 100.2,152.7 99.8,152.2 99.4,152.1 99.0,151.7 98.6,159.3 98.2,154.9 97.8,151.7 97.4,151.4 97.0,151.2 96.6,151.9 96.2,150.6 95.8,152.1 95.4,151.6 95.0,152.0 94.6,150.9 94.2,150.2 93.8,150.6 93.4,151.4 93.0,149.8 92.6,150.0 92.2,150.3 91.8,149.5 91.4,149.1 91.0,149.0 90.6,150.5 90.2,150.8 89.8,150.9 89.4,150.7 89.0,150.1 88.6,160.6 88.2,150.0 87.8,150.1 87.4,150.1 87.0,150.2 86.6,149.4 86.2,150.5 85.8,155.6 85.4,150.2 85.0,149.6 84.6,150.6 84.2,150.7 83.8,154.9 83.4,150.1 83.0,150.8 82.6,149.9 82.2,155.5 81.8,150.5 81.4,149.7 81.0,150.9 80.6,150.3 80.2,149.8 79.8,150.7 79.4,150.8 79.0,150.2 78.6,150.7 78.2,151.2 77.8,150.1 77.4,149.4 77.0,149.9 76.6,149.9 76.2,148.9 75.8,149.3 75.4,149.4 75.0,148.7 74.6,148.8 74.2,154.2 73.8,147.0 73.4,147.3 73.0,147.3 72.6,146.3 72.2,145.9 71.8,156.2 71.4,145.9 71.0,145.3 70.6,144.9 70.2,145.0 69.8,144.3 69.4,144.9 69.0,144.2 68.6,152.5 68.2,143.3 67.8,143.0 67.4,143.0 67.0,142.9 66.6,143.1 66.2,142.2 65.8,141.9 65.4,141.9 65.0,142.0 64.6,141.4 64.2,141.5 63.8,140.3 63.4,140.8 63.0,147.0 62.6,140.0 62.2,139.7 61.8,139.6 61.4,138.9 61.0,145.9 60.6,138.4 60.2,138.0 59.8,138.0 59.4,137.8 59.0,141.8 58.6,137.0 58.2,137.3 57.8,137.1 57.4,136.5 57.0,136.8 56.6,136.1 56.2,145.3 55.8,137.9 55.4,135.1 55.0,135.3 54.6,135.1 54.2,134.3 53.8,134.5 53.4,134.4 53.0,134.1 52.6,133.8 52.2,133.6 51.8,133.2 51.4,132.8 51.0,133.0 50.6,132.8 50.2,131.9 49.8,131.5 49.4,131.4 49.0,139.2 48.6,130.9 48.2,131.3 47.8,131.0 47.4,130.3 47.0,129.7 46.6,129.8 46.2,129.7 45.8,129.1 45.4,128.8 45.0,128.5 44.6,128.3 44.2,128.0 43.8,127.8 43.4,127.8 43.0,127.8 42.6,127.2 42.2,127.2 41.8,126.4 41.4,126.9 41.0,125.9 40.6,125.6 40.2,125.6 39.8,125.6 39.4,125.0 39.0,124.8 38.6,125.2 38.2,124.5 37.8,124.0" fill="#ff0000"/>
<polyline points="38.0,117.5 58.0,132.0 66.0,137.0 78.0,141.0 91.0,138.5 103.0,142.8 116.0,148.5 128.0,154.6 141.0,158.0 156.0,161.0 181.0,162.5 206.0,160.0 214.0,156.0 219.8,150.0 225.1,140.0 228.8,130.0 231.5,120.0 233.0,110.0 234.3,100.0 235.2,82.0 236.0,70.7 236.7,74.0 237.5,81.0 238.9,90.0 239.9,93.0 241.0,92.5 242.0,89.5 243.0,83.0 243.8,74.0 244.6,62.0 245.4,48.0 246.1,33.0 246.8,24.9 247.5,33.0 248.3,46.0 249.0,55.0 250.4,68.0 251.8,82.0 253.2,96.0 255.3,115.0 258.0,130.0 262.2,140.0 267.5,146.0 273.9,151.5 281.0,159.0 298.5,165.0 315.5,169.5" fill="none" stroke="#0000ff" stroke-width="1.1" stroke-linejoin="round"/>
<polygon points="37.8,116.7 38.3,116.8 38.8,116.7 39.3,117.2 39.8,118.0 40.3,118.1 40.8,118.4 41.3,119.0 41.8,118.9 42.3,119.8 42.8,119.9 43.3,120.2 43.8,120.6 44.3,120.8 44.8,121.1 45.3,121.2 45.8,122.1 46.3,122.2 46.8,122.5 47.3,123.2 47.8,123.8 48.3,122.1 48.8,124.3 49.3,124.6 49.8,124.5 50.3,125.1 50.8,125.6 51.3,125.7 51.8,126.7 52.3,126.5 52.8,127.1 53.3,127.7 53.8,127.6 54.3,127.7 54.8,128.7 55.3,128.7 55.8,129.3 56.3,129.3 56.8,129.7 57.3,130.4 57.8,130.3 58.3,130.8 58.8,131.0 59.3,131.2 59.8,131.9 60.3,131.9 60.8,132.1 61.3,133.1 61.8,132.7 62.3,133.5 62.8,133.7 63.3,134.3 63.8,134.1 64.3,134.8 64.8,134.6 65.3,135.4 65.8,135.4 66.3,135.8 66.8,135.7 67.3,136.2 67.8,136.4 68.3,135.9 68.8,136.1 69.3,136.4 69.8,136.1 70.3,137.1 70.8,136.5 71.3,137.4 71.8,136.6 72.3,137.1 72.8,137.3 73.3,137.0 73.8,137.3 74.3,137.4 74.8,138.5 75.3,138.3 75.8,138.8 76.3,137.5 76.8,138.9 77.3,138.1 77.8,139.3 78.3,139.0 78.8,138.6 79.3,138.0 79.8,137.6 80.3,137.9 80.8,138.6 81.3,137.9 81.8,137.5 82.3,138.5 82.8,137.3 83.3,137.7 83.8,137.2 84.3,136.9 84.8,136.8 85.3,136.9 85.8,136.8 86.3,137.3 86.8,136.7 87.3,137.2 87.8,136.5 88.3,136.3 88.8,135.8 89.3,136.3 89.8,136.9 90.3,135.9 90.8,136.4 91.3,135.5 91.8,136.3 92.3,135.4 92.8,135.7 93.3,136.8 93.8,137.0 94.3,137.2 94.8,137.1 95.3,138.0 95.8,137.4 96.3,136.8 96.8,137.7 97.3,137.5 97.8,137.3 98.3,137.7 98.8,138.0 99.3,138.1 99.8,138.2 100.3,139.5 100.8,139.2 101.3,139.6 101.8,140.0 102.3,139.6 102.8,140.2 103.3,139.8 103.8,140.1 104.3,141.2 104.8,140.8 105.3,141.1 105.8,140.7 106.3,142.1 106.8,142.2 107.3,141.7 107.8,142.2 108.3,141.9 108.8,142.7 109.3,143.2 109.8,142.0 110.3,143.5 110.8,143.9 111.3,143.9 111.8,144.0 112.3,144.4 112.8,144.0 113.3,142.2 113.8,145.3 114.3,144.9 114.8,144.6 115.3,144.4 115.8,144.4 116.3,146.3 116.8,145.8 117.3,145.3 117.8,147.3 118.3,146.4 118.8,147.5 119.3,146.5 119.8,146.4 120.3,147.5 120.8,148.8 121.3,149.0 121.8,148.5 122.3,147.8 122.8,149.4 123.3,148.7 123.8,149.5 124.3,150.1 124.8,149.4 125.3,150.5 125.8,150.6 126.3,150.0 126.8,150.8 127.3,150.4 127.8,151.3 128.3,152.2 128.8,151.7 129.3,150.9 129.8,151.7 130.3,150.7 130.8,153.2 131.3,152.6 131.8,151.7 132.3,152.0 132.8,152.4 133.3,152.3 133.8,152.0 134.3,152.5 134.8,153.0 135.3,153.1 135.8,153.0 136.3,153.8 136.8,153.2 137.3,153.4 137.8,153.2 138.3,154.0 138.8,155.1 139.3,154.1 139.8,153.5 140.3,154.1 140.8,154.2 141.3,154.9 141.8,155.1 142.3,154.4 142.8,155.9 143.3,154.2 143.8,154.3 144.3,154.2 144.8,156.2 145.3,156.3 145.8,154.7 146.3,155.9 146.8,156.3 147.3,156.1 147.8,155.6 148.3,156.8 148.8,156.2 149.3,155.9 149.8,155.8 150.3,157.5 150.8,155.8 151.3,156.8 151.8,156.9 152.3,156.7 152.8,157.4 153.3,156.1 153.8,156.0 154.3,157.1 154.8,158.1 155.3,157.1 155.8,156.6 156.3,155.0 156.8,158.4 157.3,157.3 157.8,156.7 158.3,158.4 158.8,157.9 159.3,155.4 159.8,157.2 160.3,157.9 160.8,157.5 161.3,157.4 161.8,158.2 162.3,157.5 162.8,157.7 163.3,157.5 163.8,157.9 164.3,158.4 164.8,158.2 165.3,157.1 165.8,158.8 166.3,158.9 166.8,159.3 167.3,157.3 167.8,157.0 168.3,158.8 168.8,158.8 169.3,159.0 169.8,158.1 170.3,158.4 170.8,157.6 171.3,159.1 171.8,157.5 172.3,158.3 172.8,157.7 173.3,157.2 173.8,157.5 174.3,158.5 174.8,158.3 175.3,158.5 175.8,159.4 176.3,158.7 176.8,157.7 177.3,157.7 177.8,159.9 178.3,158.4 178.8,159.2 179.3,159.7 179.8,159.7 180.3,158.2 180.8,157.8 181.3,158.8 181.8,159.1 182.3,158.8 182.8,157.9 183.3,158.1 183.8,159.7 184.3,159.3 184.8,157.6 185.3,158.1 185.8,158.0 186.3,157.7 186.8,158.0 187.3,157.7 187.8,158.1 188.3,158.8 188.8,158.8 189.3,156.8 189.8,159.2 190.3,157.5 190.8,157.0 191.3,158.5 191.8,158.9 192.3,158.0 192.8,158.1 193.3,157.7 193.8,157.7 194.3,156.4 194.8,158.4 195.3,156.3 195.8,158.5 196.3,156.2 196.8,157.7 197.3,156.6 197.8,158.4 198.3,157.2 198.8,156.6 199.3,156.7 199.8,156.2 200.3,157.7 200.8,157.1 201.3,156.5 201.8,157.9 202.3,155.8 202.8,156.8 203.3,157.2 203.8,157.2 204.3,156.1 204.8,157.5 205.3,157.0 205.8,156.8 206.3,156.7 206.8,155.3 207.3,155.4 207.8,154.4 208.3,154.6 208.8,155.4 209.3,155.1 209.8,155.3 210.3,154.8 210.8,153.6 211.3,153.0 211.8,153.9 212.3,153.6 212.8,152.3 213.3,151.9 213.8,153.7 214.3,153.4 214.8,151.6 215.3,151.8 215.8,151.5 216.3,150.8 216.8,150.2 217.3,150.9 217.8,149.2 218.3,148.2 218.8,149.2 219.3,148.7 219.8,148.6 220.3,147.4 220.8,147.0 221.3,145.8 221.8,144.7 222.3,144.2 222.8,143.2 223.3,142.7 223.8,141.5 224.3,141.0 224.8,140.1 225.3,138.6 225.8,137.8 226.3,136.5 226.8,135.2 227.3,133.9 227.8,132.7 228.3,131.4 228.8,130.0 229.3,128.1 229.8,126.3 230.3,124.4 230.8,122.6 231.3,120.7 231.8,118.0 232.3,114.7 232.8,111.3 233.3,107.7 233.8,103.8 234.3,100.0 234.8,90.0 235.3,80.6 235.8,73.5 236.3,72.1 236.8,74.9 237.3,79.3 237.8,82.9 238.3,86.1 238.8,89.4 239.3,91.2 239.8,92.7 240.3,92.8 240.8,92.6 241.3,91.6 241.8,90.1 242.3,87.5 242.8,84.3 243.3,79.6 243.8,74.0 244.3,66.5 244.8,58.5 245.3,49.7 245.8,39.4 246.3,30.7 246.8,24.9 247.3,30.7 247.8,37.9 248.3,46.0 248.8,52.4 249.3,57.8 249.8,62.4 250.3,67.1 250.8,72.0 251.3,77.0 251.8,82.0 252.3,87.0 252.8,92.0 253.3,96.9 253.8,101.4 254.3,106.0 254.8,110.5 255.3,115.0 255.8,117.8 256.3,120.6 256.8,123.3 257.3,126.1 257.8,128.7 258.3,130.5 258.8,131.6 259.3,132.7 259.8,133.8 260.3,134.7 260.8,135.8 261.3,137.3 261.8,138.3 262.3,139.4 262.8,139.7 263.3,139.8 263.8,140.4 264.3,140.9 264.8,141.8 265.3,141.5 265.8,142.2 266.3,143.0 266.8,142.9 267.3,144.3 267.8,144.5 268.3,144.0 268.8,145.5 269.3,145.7 269.8,145.4 270.3,145.3 270.8,145.8 271.3,147.2 271.8,145.5 272.3,146.5 272.8,146.7 273.3,148.3 273.8,148.4 274.3,148.9 274.8,147.7 275.3,150.4 275.8,149.6 276.3,149.2 276.8,150.3 277.3,151.9 277.8,151.4 278.3,153.3 278.8,152.2 279.3,154.0 279.8,152.9 280.3,153.5 280.8,154.3 281.3,155.6 281.8,154.6 282.3,154.3 282.8,156.1 283.3,155.8 283.8,156.9 284.3,157.2 284.8,155.8 285.3,157.7 285.8,156.4 286.3,157.9 286.8,156.6 287.3,156.5 287.8,156.2 288.3,157.8 288.8,158.0 289.3,158.1 289.8,157.4 290.3,157.4 290.8,159.4 291.3,159.0 291.8,159.8 292.3,159.5 292.8,158.3 293.3,157.9 293.8,156.7 294.3,160.6 294.8,159.9 295.3,158.8 295.8,159.9 296.3,160.5 296.8,159.5 297.3,159.4 297.8,161.6 298.3,160.7 298.8,161.9 299.3,161.9 299.8,161.1 300.3,162.0 300.8,160.5 301.3,161.9 301.8,162.5 302.3,161.4 302.8,162.6 303.3,163.2 303.8,160.7 304.3,163.2 304.8,163.4 305.3,162.6 305.8,164.0 306.3,161.9 306.8,164.1 307.3,164.3 307.8,161.8 308.3,163.2 308.8,162.1 309.3,162.3 309.8,162.9 310.3,165.1 310.8,163.4 311.3,165.3 311.8,165.5 312.3,161.9 312.8,164.9 313.3,163.7 313.8,163.8 314.3,163.9 314.8,164.4 315.3,163.5 315.3,173.3 314.8,173.3 314.3,174.0 313.8,174.8 313.3,173.5 312.8,176.6 312.3,172.7 311.8,172.2 311.3,173.4 310.8,173.9 310.3,172.8 309.8,173.0 309.3,171.4 308.8,171.9 308.3,170.7 307.8,174.2 307.3,171.6 306.8,172.8 306.3,172.6 305.8,172.0 305.3,172.4 304.8,172.1 304.3,170.4 303.8,170.5 303.3,171.8 302.8,171.6 302.3,170.1 301.8,170.7 301.3,169.0 300.8,170.9 300.3,170.0 299.8,170.1 299.3,169.9 298.8,169.2 298.3,171.8 297.8,170.3 297.3,169.0 296.8,169.8 296.3,167.1 295.8,169.3 295.3,168.6 294.8,167.2 294.3,168.4 293.8,167.6 293.3,168.1 292.8,166.6 292.3,167.3 291.8,165.8 291.3,166.7 290.8,165.8 290.3,165.0 289.8,164.9 289.3,165.0 288.8,166.0 288.3,166.4 287.8,166.1 287.3,165.2 286.8,163.9 286.3,164.1 285.8,164.8 285.3,165.3 284.8,164.5 284.3,163.7 283.8,165.2 283.3,164.3 282.8,163.0 282.3,162.2 281.8,161.9 281.3,161.8 280.8,163.3 280.3,161.6 279.8,162.3 279.3,161.7 278.8,161.6 278.3,161.1 277.8,159.1 277.3,159.2 276.8,158.2 276.3,156.8 275.8,156.6 275.3,156.1 274.8,155.4 274.3,155.4 273.8,155.6 273.3,154.8 272.8,153.5 272.3,153.9 271.8,152.2 271.3,152.9 270.8,151.5 270.3,151.0 269.8,150.8 269.3,150.4 268.8,149.2 268.3,148.4 267.8,147.7 267.3,148.4 266.8,146.9 266.3,147.0 265.8,145.7 265.3,145.1 264.8,144.1 264.3,143.7 263.8,143.5 263.3,142.3 262.8,141.9 262.3,141.0 261.8,140.0 261.3,138.7 260.8,140.0 260.3,140.0 259.8,134.7 259.3,133.5 258.8,132.2 258.3,131.0 257.8,129.0 257.3,126.2 256.8,123.3 256.3,120.6 255.8,117.8 255.3,115.0 254.8,110.5 254.3,106.0 253.8,101.4 253.3,96.9 252.8,92.0 252.3,87.0 251.8,82.0 251.3,77.0 250.8,72.0 250.3,67.1 249.8,62.4 249.3,57.8 248.8,52.4 248.3,46.0 247.8,37.9 247.3,30.7 246.8,24.9 246.3,30.7 245.8,39.4 245.3,49.7 244.8,58.5 244.3,66.5 243.8,74.0 243.3,79.6 242.8,84.3 242.3,87.5 241.8,90.1 241.3,91.6 240.8,92.6 240.3,92.8 239.8,92.7 239.3,91.2 238.8,89.4 238.3,86.1 237.8,82.9 237.3,79.3 236.8,74.9 236.3,72.1 235.8,73.5 235.3,80.6 234.8,90.0 234.3,100.0 233.8,103.8 233.3,107.7 232.8,111.3 232.3,114.7 231.8,118.0 231.3,120.7 230.8,122.6 230.3,124.4 229.8,126.3 229.3,128.1 228.8,130.0 228.3,131.4 227.8,136.1 227.3,134.2 226.8,135.7 226.3,138.9 225.8,138.4 225.3,139.9 224.8,141.2 224.3,142.4 223.8,143.3 223.3,144.4 222.8,145.3 222.3,146.1 221.8,147.2 221.3,148.1 220.8,149.1 220.3,150.8 219.8,152.0 219.3,152.5 218.8,152.7 218.3,154.2 217.8,154.9 217.3,154.4 216.8,156.1 216.3,156.4 215.8,156.9 215.3,158.2 214.8,158.9 214.3,159.0 213.8,159.0 213.3,159.1 212.8,161.0 212.3,161.1 211.8,160.0 211.3,161.9 210.8,160.3 210.3,161.2 209.8,163.0 209.3,161.8 208.8,163.6 208.3,161.8 207.8,163.8 207.3,164.4 206.8,163.2 206.3,163.1 205.8,163.3 205.3,162.9 204.8,165.1 204.3,162.7 203.8,163.6 203.3,163.0 202.8,163.6 202.3,163.4 201.8,163.9 201.3,164.8 200.8,163.1 200.3,164.4 199.8,164.9 199.3,164.2 198.8,163.4 198.3,165.0 197.8,166.6 197.3,165.7 196.8,163.9 196.3,165.5 195.8,165.5 195.3,163.6 194.8,165.9 194.3,165.2 193.8,165.8 193.3,164.7 192.8,164.7 192.3,164.6 191.8,165.5 191.3,166.2 190.8,164.6 190.3,164.9 189.8,164.9 189.3,166.3 188.8,164.4 188.3,165.5 187.8,166.6 187.3,166.4 186.8,164.5 186.3,165.4 185.8,167.8 185.3,165.2 184.8,165.5 184.3,165.3 183.8,165.2 183.3,165.8 182.8,166.8 182.3,165.9 181.8,165.2 181.3,167.2 180.8,164.9 180.3,165.3 179.8,165.0 179.3,165.1 178.8,164.8 178.3,167.1 177.8,166.3 177.3,166.0 176.8,165.9 176.3,166.6 175.8,165.6 175.3,166.3 174.8,165.3 174.3,164.5 173.8,165.9 173.3,165.8 172.8,165.7 172.3,165.4 171.8,165.6 171.3,164.4 170.8,165.8 170.3,164.4 169.8,165.7 169.3,165.3 168.8,165.1 168.3,164.9 167.8,166.4 167.3,165.2 166.8,165.2 166.3,165.5 165.8,165.8 165.3,165.1 164.8,166.0 164.3,165.6 163.8,165.1 163.3,165.4 162.8,163.9 162.3,163.9 161.8,165.9 161.3,164.4 160.8,165.1 160.3,164.8 159.8,163.9 159.3,164.4 158.8,164.6 158.3,163.8 157.8,164.1 157.3,163.6 156.8,164.8 156.3,165.0 155.8,164.0 155.3,164.2 154.8,164.4 154.3,165.1 153.8,164.4 153.3,164.1 152.8,163.3 152.3,163.5 151.8,164.7 151.3,164.1 150.8,163.7 150.3,162.6 149.8,163.5 149.3,162.5 148.8,162.9 148.3,162.1 147.8,161.9 147.3,163.5 146.8,161.5 146.3,163.1 145.8,162.9 145.3,162.1 144.8,163.0 144.3,160.9 143.8,162.4 143.3,161.3 142.8,162.6 142.3,162.6 141.8,160.6 141.3,162.3 140.8,161.6 140.3,161.8 139.8,160.6 139.3,161.9 138.8,160.0 138.3,159.7 137.8,161.2 137.3,161.0 136.8,160.6 136.3,159.7 135.8,160.5 135.3,160.7 134.8,159.3 134.3,158.7 133.8,159.4 133.3,159.2 132.8,158.9 132.3,159.6 131.8,158.6 131.3,157.8 130.8,159.5 130.3,158.2 129.8,158.6 129.3,157.3 128.8,158.4 128.3,157.6 127.8,158.2 127.3,157.1 126.8,156.1 126.3,157.1 125.8,157.6 125.3,156.9 124.8,157.1 124.3,156.2 123.8,155.9 123.3,154.9 122.8,155.9 122.3,154.4 121.8,158.3 121.3,153.6 120.8,153.6 120.3,153.0 119.8,154.0 119.3,153.6 118.8,152.3 118.3,152.3 117.8,153.2 117.3,152.4 116.8,152.3 116.3,151.5 115.8,150.9 115.3,151.5 114.8,150.2 114.3,149.9 113.8,150.6 113.3,150.5 112.8,150.4 112.3,150.2 111.8,150.4 111.3,149.5 110.8,149.4 110.3,149.0 109.8,147.8 109.3,147.8 108.8,147.5 108.3,148.9 107.8,147.6 107.3,147.4 106.8,147.4 106.3,147.1 105.8,147.8 105.3,147.9 104.8,149.2 104.3,146.9 103.8,145.3 103.3,145.5 102.8,146.5 102.3,146.3 101.8,145.1 101.3,145.7 100.8,145.5 100.3,144.7 99.8,143.7 99.3,143.9 98.8,143.8 98.3,143.9 97.8,143.8 97.3,143.1 96.8,142.8 96.3,144.0 95.8,143.0 95.3,143.2 94.8,142.5 94.3,143.2 93.8,141.4 93.3,142.8 92.8,141.5 92.3,141.1 91.8,141.0 91.3,141.2 90.8,140.6 90.3,140.5 89.8,141.1 89.3,142.2 88.8,142.5 88.3,141.1 87.8,142.5 87.3,142.4 86.8,141.3 86.3,141.3 85.8,141.8 85.3,142.8 84.8,141.5 84.3,142.5 83.8,141.8 83.3,142.5 82.8,143.3 82.3,142.9 81.8,142.5 81.3,142.0 80.8,142.2 80.3,143.5 79.8,142.6 79.3,143.3 78.8,143.4 78.3,145.1 77.8,142.8 77.3,142.3 76.8,142.8 76.3,142.5 75.8,142.4 75.3,141.8 74.8,141.5 74.3,141.1 73.8,141.9 73.3,141.6 72.8,140.9 72.3,141.1 71.8,140.6 71.3,140.0 70.8,141.5 70.3,140.1 69.8,139.5 69.3,139.8 68.8,139.4 68.3,139.2 67.8,138.6 67.3,138.6 66.8,138.7 66.3,138.2 65.8,138.2 65.3,137.5 64.8,137.7 64.3,137.0 63.8,136.9 63.3,136.5 62.8,136.6 62.3,136.3 61.8,136.0 61.3,135.3 60.8,135.4 60.3,134.9 59.8,134.4 59.3,133.8 58.8,133.5 58.3,133.4 57.8,133.3 57.3,133.2 56.8,132.3 56.3,131.6 55.8,131.3 55.3,131.2 54.8,130.7 54.3,130.4 53.8,130.0 53.3,129.5 52.8,129.5 52.3,128.9 51.8,128.9 51.3,128.4 50.8,128.2 50.3,128.0 49.8,127.0 49.3,127.1 48.8,126.2 48.3,126.3 47.8,125.8 47.3,125.8 46.8,124.7 46.3,124.8 45.8,124.5 45.3,124.2 44.8,123.9 44.3,123.5 43.8,122.6 43.3,122.3 42.8,122.0 42.3,121.9 41.8,121.4 41.3,120.8 40.8,120.8 40.3,120.3 39.8,119.9 39.3,119.6 38.8,119.5 38.3,119.1 37.8,118.6" fill="#0000ff"/>
</g>
<rect x="37.8" y="0.6" width="277.5" height="205.7" fill="none" stroke="#000" stroke-width="1.3"/>
<line x1="37.8" y1="199.2" x2="40.3" y2="199.2" stroke="#000" stroke-width="1"/>
<line x1="37.8" y1="194.1" x2="40.3" y2="194.1" stroke="#000" stroke-width="1"/>
<line x1="37.8" y1="190.1" x2="40.3" y2="190.1" stroke="#000" stroke-width="1"/>
<line x1="37.8" y1="186.8" x2="40.3" y2="186.8" stroke="#000" stroke-width="1"/>
<line x1="37.8" y1="184.1" x2="40.3" y2="184.1" stroke="#000" stroke-width="1"/>
<line x1="37.8" y1="181.7" x2="40.3" y2="181.7" stroke="#000" stroke-width="1"/>
<line x1="37.8" y1="179.6" x2="40.3" y2="179.6" stroke="#000" stroke-width="1"/>
<line x1="37.8" y1="177.7" x2="41.8" y2="177.7" stroke="#000" stroke-width="1"/>
<line x1="37.8" y1="165.3" x2="40.3" y2="165.3" stroke="#000" stroke-width="1"/>
<line x1="37.8" y1="158.1" x2="40.3" y2="158.1" stroke="#000" stroke-width="1"/>
<line x1="37.8" y1="152.9" x2="40.3" y2="152.9" stroke="#000" stroke-width="1"/>
<line x1="37.8" y1="148.9" x2="40.3" y2="148.9" stroke="#000" stroke-width="1"/>
<line x1="37.8" y1="145.7" x2="40.3" y2="145.7" stroke="#000" stroke-width="1"/>
<line x1="37.8" y1="142.9" x2="40.3" y2="142.9" stroke="#000" stroke-width="1"/>
<line x1="37.8" y1="140.5" x2="40.3" y2="140.5" stroke="#000" stroke-width="1"/>
<line x1="37.8" y1="138.4" x2="40.3" y2="138.4" stroke="#000" stroke-width="1"/>
<line x1="37.8" y1="136.5" x2="41.8" y2="136.5" stroke="#000" stroke-width="1"/>
<line x1="37.8" y1="124.2" x2="40.3" y2="124.2" stroke="#000" stroke-width="1"/>
<line x1="37.8" y1="116.9" x2="40.3" y2="116.9" stroke="#000" stroke-width="1"/>
<line x1="37.8" y1="111.8" x2="40.3" y2="111.8" stroke="#000" stroke-width="1"/>
<line x1="37.8" y1="107.8" x2="40.3" y2="107.8" stroke="#000" stroke-width="1"/>
<line x1="37.8" y1="104.5" x2="40.3" y2="104.5" stroke="#000" stroke-width="1"/>
<line x1="37.8" y1="101.8" x2="40.3" y2="101.8" stroke="#000" stroke-width="1"/>
<line x1="37.8" y1="99.4" x2="40.3" y2="99.4" stroke="#000" stroke-width="1"/>
<line x1="37.8" y1="97.3" x2="40.3" y2="97.3" stroke="#000" stroke-width="1"/>
<line x1="37.8" y1="95.4" x2="41.8" y2="95.4" stroke="#000" stroke-width="1"/>
<line x1="37.8" y1="83" x2="40.3" y2="83" stroke="#000" stroke-width="1"/>
<line x1="37.8" y1="75.8" x2="40.3" y2="75.8" stroke="#000" stroke-width="1"/>
<line x1="37.8" y1="70.6" x2="40.3" y2="70.6" stroke="#000" stroke-width="1"/>
<line x1="37.8" y1="66.6" x2="40.3" y2="66.6" stroke="#000" stroke-width="1"/>
<line x1="37.8" y1="63.4" x2="40.3" y2="63.4" stroke="#000" stroke-width="1"/>
<line x1="37.8" y1="60.6" x2="40.3" y2="60.6" stroke="#000" stroke-width="1"/>
<line x1="37.8" y1="58.2" x2="40.3" y2="58.2" stroke="#000" stroke-width="1"/>
<line x1="37.8" y1="56.1" x2="40.3" y2="56.1" stroke="#000" stroke-width="1"/>
<line x1="37.8" y1="54.2" x2="41.8" y2="54.2" stroke="#000" stroke-width="1"/>
<line x1="37.8" y1="41.9" x2="40.3" y2="41.9" stroke="#000" stroke-width="1"/>
<line x1="37.8" y1="34.6" x2="40.3" y2="34.6" stroke="#000" stroke-width="1"/>
<line x1="37.8" y1="29.5" x2="40.3" y2="29.5" stroke="#000" stroke-width="1"/>
<line x1="37.8" y1="25.5" x2="40.3" y2="25.5" stroke="#000" stroke-width="1"/>
<line x1="37.8" y1="22.2" x2="40.3" y2="22.2" stroke="#000" stroke-width="1"/>
<line x1="37.8" y1="19.5" x2="40.3" y2="19.5" stroke="#000" stroke-width="1"/>
<line x1="37.8" y1="17.1" x2="40.3" y2="17.1" stroke="#000" stroke-width="1"/>
<line x1="37.8" y1="15" x2="40.3" y2="15" stroke="#000" stroke-width="1"/>
<line x1="37.8" y1="13.1" x2="41.8" y2="13.1" stroke="#000" stroke-width="1"/>
<text x="29.9" y="181.7" font-size="10" font-weight="bold" font-style="normal" text-anchor="end" fill="#000">10</text>
<text x="30.3" y="176.3" font-size="5.8" font-weight="bold" font-style="normal" text-anchor="start" fill="#000">5</text>
<text x="29.9" y="140.5" font-size="10" font-weight="bold" font-style="normal" text-anchor="end" fill="#000">10</text>
<text x="30.3" y="135.1" font-size="5.8" font-weight="bold" font-style="normal" text-anchor="start" fill="#000">6</text>
<text x="29.9" y="99.4" font-size="10" font-weight="bold" font-style="normal" text-anchor="end" fill="#000">10</text>
<text x="30.3" y="94" font-size="5.8" font-weight="bold" font-style="normal" text-anchor="start" fill="#000">7</text>
<text x="29.9" y="58.2" font-size="10" font-weight="bold" font-style="normal" text-anchor="end" fill="#000">10</text>
<text x="30.3" y="52.9" font-size="5.8" font-weight="bold" font-style="normal" text-anchor="start" fill="#000">8</text>
<text x="29.9" y="17.1" font-size="10" font-weight="bold" font-style="normal" text-anchor="end" fill="#000">10</text>
<text x="30.3" y="11.7" font-size="5.8" font-weight="bold" font-style="normal" text-anchor="start" fill="#000">9</text>
<line x1="54.4" y1="206.3" x2="54.4" y2="203.8" stroke="#000" stroke-width="1"/>
<line x1="87" y1="206.3" x2="87" y2="202.3" stroke="#000" stroke-width="1"/>
<text x="87" y="219" font-size="10" font-weight="bold" font-style="normal" text-anchor="middle" fill="#000">20</text>
<line x1="119.6" y1="206.3" x2="119.6" y2="203.8" stroke="#000" stroke-width="1"/>
<line x1="152.2" y1="206.3" x2="152.2" y2="202.3" stroke="#000" stroke-width="1"/>
<text x="152.2" y="219" font-size="10" font-weight="bold" font-style="normal" text-anchor="middle" fill="#000">40</text>
<line x1="184.8" y1="206.3" x2="184.8" y2="203.8" stroke="#000" stroke-width="1"/>
<line x1="217.4" y1="206.3" x2="217.4" y2="202.3" stroke="#000" stroke-width="1"/>
<text x="217.4" y="219" font-size="10" font-weight="bold" font-style="normal" text-anchor="middle" fill="#000">60</text>
<line x1="250" y1="206.3" x2="250" y2="203.8" stroke="#000" stroke-width="1"/>
<line x1="282.6" y1="206.3" x2="282.6" y2="202.3" stroke="#000" stroke-width="1"/>
<text x="282.6" y="219" font-size="10" font-weight="bold" font-style="normal" text-anchor="middle" fill="#000">80</text>
<line x1="315.2" y1="206.3" x2="315.2" y2="203.8" stroke="#000" stroke-width="1"/>
<text x="267.6" y="239.4" font-size="12" font-weight="bold" font-style="normal" text-anchor="start" fill="#000" textLength="38.2" lengthAdjust="spacingAndGlyphs">θ/2θ (°)</text>
<text x="10.3" y="106.8" font-size="12.7" font-weight="bold" font-style="normal" text-anchor="middle" fill="#000" transform="rotate(-90 10.3 106.8)">Intensity (cps)</text>
<text x="70.5" y="186" font-size="17.5" font-weight="bold" font-style="normal" text-anchor="middle" fill="#000">(a)</text>
<text x="93.6" y="121.4" font-size="10.5" font-weight="bold" font-style="normal" text-anchor="middle" fill="#000">C</text>
<text x="93.4" y="135.5" font-size="12" font-weight="bold" font-style="normal" text-anchor="middle" fill="#000">*</text>
<text x="231.4" y="68.3" font-size="10" font-weight="bold" font-style="normal" text-anchor="middle" fill="#000">p-Si</text>
<text x="259.4" y="21" font-size="10" font-weight="bold" font-style="normal" text-anchor="middle" fill="#000">Si (004)</text>
<rect x="52.3" y="10.5" width="119.4" height="46.7" fill="#000" stroke="none" stroke-width="1"/>
<rect x="49.3" y="7.5" width="119.4" height="46.7" fill="#fff" stroke="#999" stroke-width="1"/>
<line x1="59.8" y1="16.7" x2="83.4" y2="16.7" stroke="#b0b0b0" stroke-width="1.2"/>
<text x="86.8" y="20.5" font-size="10.5" font-weight="bold" font-style="italic" text-anchor="start" fill="#000">p-Si substrate</text>
<line x1="59.8" y1="30" x2="83.4" y2="30" stroke="#ff5050" stroke-width="1.2"/>
<text x="86.8" y="33.8" font-size="10.5" font-weight="bold" font-style="italic" text-anchor="start" fill="#000">NC_J</text>
<line x1="59.8" y1="43" x2="83.4" y2="43" stroke="#5050ff" stroke-width="1.2"/>
<text x="86.8" y="46.8" font-size="10.5" font-weight="bold" font-style="italic" text-anchor="start" fill="#000">NC_CV</text>
<clipPath id="cb"><rect x="386.9" y="3.8" width="271.70000000000005" height="201.1"/></clipPath>
<g clip-path="url(#cb)">
<polyline points="387.0,178.0 416.0,171.0 444.0,162.0 476.0,155.5 486.0,153.0 506.0,146.0 514.2,138.5 521.0,131.0 525.2,122.4 527.9,108.7 529.3,80.0 530.0,53.0 530.9,80.0 532.5,101.8 534.0,98.0 535.3,80.0 536.0,55.0 536.7,36.0 537.4,55.0 538.1,80.0 538.9,100.0 539.6,120.0 540.3,132.0 543.0,138.0 551.2,143.0 560.0,146.5 600.0,157.0 640.0,168.5 659.0,172.0" fill="none" stroke="#8a8a8a" stroke-width="1.7" stroke-linejoin="round"/>
<polyline points="486.0,153.0 506.0,146.0 514.2,138.5 521.0,131.0 525.2,122.4" fill="none" stroke="#808080" stroke-width="3.2" stroke-linejoin="round"/>
<polygon points="387.0,175.2 387.5,174.1 388.0,173.8 388.5,175.1 389.0,174.7 389.5,172.6 390.0,174.6 390.5,174.4 391.0,172.2 391.5,172.9 392.0,173.4 392.5,173.0 393.0,172.5 393.5,173.3 394.0,173.5 394.5,171.8 395.0,172.0 395.5,172.3 396.0,171.4 396.5,171.9 397.0,170.8 397.5,172.6 398.0,171.6 398.5,171.6 399.0,171.8 399.5,171.2 400.0,171.9 400.5,170.4 401.0,170.2 401.5,171.8 402.0,170.9 402.5,171.2 403.0,171.6 403.5,169.5 404.0,170.5 404.5,171.1 405.0,169.7 405.5,170.7 406.0,168.9 406.5,170.4 407.0,170.7 407.5,170.2 408.0,169.8 408.5,169.4 409.0,168.2 409.5,168.6 410.0,169.3 410.5,170.0 411.0,168.5 411.5,165.8 412.0,168.6 412.5,167.9 413.0,169.3 413.5,169.2 414.0,167.2 414.5,167.7 415.0,168.2 415.5,168.1 416.0,168.5 416.5,168.2 417.0,168.3 417.5,166.3 418.0,167.0 418.5,167.6 419.0,166.1 419.5,167.2 420.0,167.3 420.5,166.0 421.0,165.1 421.5,166.9 422.0,165.0 422.5,166.3 423.0,166.3 423.5,166.3 424.0,165.6 424.5,164.4 425.0,164.8 425.5,163.9 426.0,165.1 426.5,164.7 427.0,164.7 427.5,163.0 428.0,162.9 428.5,164.1 429.0,163.7 429.5,163.8 430.0,162.7 430.5,164.1 431.0,163.9 431.5,163.0 432.0,163.2 432.5,161.7 433.0,161.8 433.5,162.1 434.0,160.5 434.5,161.5 435.0,161.1 435.5,160.6 436.0,162.1 436.5,161.0 437.0,161.8 437.5,161.1 438.0,160.2 438.5,159.8 439.0,159.9 439.5,161.3 440.0,160.5 440.5,160.7 441.0,157.1 441.5,160.4 442.0,160.1 442.5,159.7 443.0,160.1 443.5,158.3 444.0,158.6 444.5,158.4 445.0,158.7 445.5,159.5 446.0,158.3 446.5,159.0 447.0,159.3 447.5,159.0 448.0,158.1 448.5,157.8 449.0,158.3 449.5,157.6 450.0,158.1 450.5,158.4 451.0,158.0 451.5,157.7 452.0,156.6 452.5,158.1 453.0,158.0 453.5,157.0 454.0,156.1 454.5,156.1 455.0,156.4 455.5,157.6 456.0,156.0 456.5,156.2 457.0,157.1 457.5,156.4 458.0,157.1 458.5,155.6 459.0,155.6 459.5,155.4 460.0,155.4 460.5,156.2 461.0,155.1 461.5,156.1 462.0,156.2 462.5,155.6 463.0,155.3 463.5,155.6 464.0,154.9 464.5,154.8 465.0,155.4 465.5,154.6 466.0,155.0 466.5,153.4 467.0,154.9 467.5,153.9 468.0,154.5 468.5,154.2 469.0,153.8 469.5,154.0 470.0,154.4 470.5,153.0 471.0,154.5 471.5,154.0 472.0,153.5 472.5,154.3 473.0,154.0 473.5,152.8 474.0,152.7 474.5,152.9 475.0,152.3 475.5,152.5 476.0,153.2 476.5,152.4 477.0,152.9 477.5,152.0 478.0,152.6 478.5,152.8 479.0,151.5 479.5,151.7 480.0,151.4 480.5,151.7 481.0,151.2 481.5,151.7 482.0,151.4 482.5,152.1 483.0,151.3 483.5,150.8 484.0,150.9 484.5,150.6 485.0,151.0 485.5,150.4 486.0,151.4 486.5,150.2 487.0,150.7 487.5,151.0 488.0,150.1 488.5,150.2 489.0,150.1 489.5,149.4 490.0,150.2 490.5,149.4 491.0,149.6 491.5,149.3 492.0,149.2 492.5,148.5 493.0,148.9 493.5,148.4 494.0,149.0 494.5,149.0 495.0,148.8 495.5,148.3 496.0,147.9 496.5,148.5 497.0,147.8 497.5,148.1 498.0,148.3 498.5,148.1 499.0,148.1 499.5,147.9 500.0,147.9 500.5,147.7 501.0,147.6 501.5,147.3 502.0,147.1 502.5,147.0 503.0,146.8 503.5,146.6 504.0,146.4 504.5,146.4 505.0,146.2 505.5,146.0 506.0,145.8 506.5,145.4 507.0,144.9 507.5,144.4 508.0,144.0 508.5,143.5 509.0,143.0 509.5,142.6 510.0,142.2 510.5,141.7 511.0,141.1 511.5,140.7 512.0,140.3 512.5,139.8 513.0,139.3 513.5,138.9 514.0,138.4 514.5,138.0 515.0,137.4 515.5,136.8 516.0,136.4 516.5,135.7 517.0,135.1 517.5,134.6 518.0,134.1 518.5,133.6 519.0,132.9 519.5,132.4 520.0,131.8 520.5,131.3 521.0,129.7 521.5,129.8 522.0,128.8 522.5,127.7 523.0,126.6 523.5,125.7 524.0,124.6 524.5,123.6 525.0,122.6 525.5,120.6 526.0,118.2 526.5,115.6 527.0,113.1 527.5,110.4 528.0,106.4 528.5,96.2 529.0,86.0 529.5,72.0 530.0,52.8 530.5,67.8 531.0,81.2 531.5,88.0 532.0,93.5 532.5,101.6 533.0,100.2 533.5,99.0 534.0,97.7 534.5,90.8 535.0,83.8 535.5,72.6 536.0,54.8 536.5,41.2 537.0,44.0 537.5,58.3 538.0,76.2 538.5,89.8 539.0,102.6 539.5,116.9 540.0,126.6 540.5,132.2 541.0,133.3 541.5,134.5 542.0,135.6 542.5,136.7 543.0,137.8 543.5,138.0 544.0,138.4 544.5,138.6 545.0,139.1 545.5,139.3 546.0,139.4 546.5,139.7 547.0,140.0 547.5,140.3 548.0,140.4 548.5,140.6 549.0,140.7 549.5,139.2 550.0,141.3 550.5,141.7 551.0,141.6 551.5,142.3 552.0,142.0 552.5,142.2 553.0,142.3 553.5,142.8 554.0,142.3 554.5,142.4 555.0,142.3 555.5,142.3 556.0,143.2 556.5,143.0 557.0,143.5 557.5,144.0 558.0,143.3 558.5,143.7 559.0,143.6 559.5,144.0 560.0,144.0 560.5,145.2 561.0,145.5 561.5,145.4 562.0,145.2 562.5,145.0 563.0,145.4 563.5,145.5 564.0,145.3 564.5,146.3 565.0,145.6 565.5,146.6 566.0,146.4 566.5,145.9 567.0,146.1 567.5,146.6 568.0,146.9 568.5,146.3 569.0,147.2 569.5,147.6 570.0,147.5 570.5,147.9 571.0,145.9 571.5,148.0 572.0,147.0 572.5,148.1 573.0,148.1 573.5,147.9 574.0,148.4 574.5,148.4 575.0,148.9 575.5,148.7 576.0,148.7 576.5,147.3 577.0,148.3 577.5,149.3 578.0,149.5 578.5,149.0 579.0,148.9 579.5,149.8 580.0,149.8 580.5,149.5 581.0,149.5 581.5,149.9 582.0,150.6 582.5,150.7 583.0,150.1 583.5,150.3 584.0,149.3 584.5,150.4 585.0,151.0 585.5,151.6 586.0,150.6 586.5,151.0 587.0,151.3 587.5,151.3 588.0,151.9 588.5,152.1 589.0,151.8 589.5,152.1 590.0,151.9 590.5,151.7 591.0,152.0 591.5,152.8 592.0,152.9 592.5,152.2 593.0,153.1 593.5,152.7 594.0,153.8 594.5,153.4 595.0,153.5 595.5,153.2 596.0,153.2 596.5,154.4 597.0,153.8 597.5,153.9 598.0,154.8 598.5,153.9 599.0,154.4 599.5,153.9 600.0,155.2 600.5,154.9 601.0,153.7 601.5,155.0 602.0,155.1 602.5,155.4 603.0,155.9 603.5,155.7 604.0,156.1 604.5,155.4 605.0,156.2 605.5,156.3 606.0,156.8 606.5,157.0 607.0,156.0 607.5,157.1 608.0,156.4 608.5,157.0 609.0,156.5 609.5,157.9 610.0,156.9 610.5,157.3 611.0,157.7 611.5,157.7 612.0,157.8 612.5,158.3 613.0,158.2 613.5,159.0 614.0,159.4 614.5,158.6 615.0,159.0 615.5,158.5 616.0,159.6 616.5,158.9 617.0,158.8 617.5,159.0 618.0,159.1 618.5,160.5 619.0,160.6 619.5,160.7 620.0,160.6 620.5,161.1 621.0,161.2 621.5,161.6 622.0,160.2 622.5,161.3 623.0,161.0 623.5,161.4 624.0,161.1 624.5,161.1 625.0,162.0 625.5,161.9 626.0,162.7 626.5,162.5 627.0,162.8 627.5,162.8 628.0,162.9 628.5,162.6 629.0,163.2 629.5,163.3 630.0,162.6 630.5,164.1 631.0,164.3 631.5,164.3 632.0,163.1 632.5,163.7 633.0,163.7 633.5,163.4 634.0,164.8 634.5,163.8 635.0,165.0 635.5,164.7 636.0,164.6 636.5,164.5 637.0,165.6 637.5,165.3 638.0,166.2 638.5,165.9 639.0,164.9 639.5,165.2 640.0,165.9 640.5,165.6 641.0,165.5 641.5,166.5 642.0,165.5 642.5,166.5 643.0,167.1 643.5,166.6 644.0,166.5 644.5,166.5 645.0,166.6 645.5,167.8 646.0,166.8 646.5,166.4 647.0,167.0 647.5,165.9 648.0,167.4 648.5,167.0 649.0,168.2 649.5,167.0 650.0,167.9 650.5,167.2 651.0,168.3 651.5,167.8 652.0,167.5 652.5,167.9 653.0,168.1 653.5,167.6 654.0,169.2 654.5,168.2 655.0,168.6 655.5,168.0 656.0,168.5 656.5,169.3 657.0,169.7 657.5,169.2 658.0,169.2 658.5,169.3 659.0,169.2 659.0,174.9 658.5,174.7 658.0,174.6 657.5,174.5 657.0,173.9 656.5,173.3 656.0,173.9 655.5,173.5 655.0,173.0 654.5,174.5 654.0,173.2 653.5,172.8 653.0,174.1 652.5,173.2 652.0,173.2 651.5,172.4 651.0,172.5 650.5,172.2 650.0,173.7 649.5,172.8 649.0,171.9 648.5,172.9 648.0,172.7 647.5,171.6 647.0,171.9 646.5,172.1 646.0,172.7 645.5,172.5 645.0,171.5 644.5,172.2 644.0,171.9 643.5,172.3 643.0,171.9 642.5,171.2 642.0,171.1 641.5,171.8 641.0,171.8 640.5,170.7 640.0,170.5 639.5,170.5 639.0,170.3 638.5,170.7 638.0,170.2 637.5,169.9 637.0,174.6 636.5,170.0 636.0,170.5 635.5,170.1 635.0,169.3 634.5,169.3 634.0,170.0 633.5,168.6 633.0,168.3 632.5,168.5 632.0,169.2 631.5,168.3 631.0,168.1 630.5,168.0 630.0,167.5 629.5,167.5 629.0,168.4 628.5,166.9 628.0,166.9 627.5,168.1 627.0,167.0 626.5,167.1 626.0,167.5 625.5,167.0 625.0,166.6 624.5,166.3 624.0,166.4 623.5,166.1 623.0,165.6 622.5,165.7 622.0,165.6 621.5,165.9 621.0,164.9 620.5,166.1 620.0,165.3 619.5,164.8 619.0,164.5 618.5,165.5 618.0,164.5 617.5,164.0 617.0,164.8 616.5,164.1 616.0,164.1 615.5,163.1 615.0,162.9 614.5,164.0 614.0,163.3 613.5,163.8 613.0,163.8 612.5,163.3 612.0,162.1 611.5,162.0 611.0,163.0 610.5,162.7 610.0,162.0 609.5,162.4 609.0,161.3 608.5,162.0 608.0,161.8 607.5,162.0 607.0,161.1 606.5,161.5 606.0,160.6 605.5,161.4 605.0,160.5 604.5,161.0 604.0,160.0 603.5,160.0 603.0,160.2 602.5,159.7 602.0,159.3 601.5,159.1 601.0,159.2 600.5,159.8 600.0,158.6 599.5,159.4 599.0,159.4 598.5,158.8 598.0,159.0 597.5,158.6 597.0,158.7 596.5,158.4 596.0,157.7 595.5,158.2 595.0,158.0 594.5,158.0 594.0,157.9 593.5,157.8 593.0,157.9 592.5,157.8 592.0,156.7 591.5,157.6 591.0,156.9 590.5,156.5 590.0,157.0 589.5,157.0 589.0,155.9 588.5,156.0 588.0,156.3 587.5,155.6 587.0,155.3 586.5,156.0 586.0,155.9 585.5,155.3 585.0,155.1 584.5,154.4 584.0,155.5 583.5,154.7 583.0,155.0 582.5,153.9 582.0,154.5 581.5,154.7 581.0,154.1 580.5,153.3 580.0,154.3 579.5,154.2 579.0,153.8 578.5,153.1 578.0,153.3 577.5,153.0 577.0,152.9 576.5,152.4 576.0,153.0 575.5,152.4 575.0,152.8 574.5,152.1 574.0,151.7 573.5,151.9 573.0,151.4 572.5,152.0 572.0,151.5 571.5,152.0 571.0,151.0 570.5,151.1 570.0,151.2 569.5,151.2 569.0,151.2 568.5,151.1 568.0,151.0 567.5,150.6 567.0,150.0 566.5,149.8 566.0,149.6 565.5,150.2 565.0,149.3 564.5,149.7 564.0,148.9 563.5,149.4 563.0,148.8 562.5,148.5 562.0,148.7 561.5,148.5 561.0,149.2 560.5,148.3 560.0,148.9 559.5,150.3 559.0,150.2 558.5,148.2 558.0,148.2 557.5,147.1 557.0,146.6 556.5,146.5 556.0,147.0 555.5,147.2 555.0,147.0 554.5,145.9 554.0,145.3 553.5,146.1 553.0,145.7 552.5,144.7 552.0,145.0 551.5,145.0 551.0,144.5 550.5,143.8 550.0,143.5 549.5,142.7 549.0,142.5 548.5,142.3 548.0,141.9 547.5,141.6 547.0,141.1 546.5,140.7 546.0,140.3 545.5,139.8 545.0,142.1 544.5,139.1 544.0,138.9 543.5,138.5 543.0,138.2 542.5,137.1 542.0,136.0 541.5,134.9 541.0,133.8 540.5,132.7 540.0,127.0 539.5,117.4 539.0,103.1 538.5,90.2 538.0,76.6 537.5,58.8 537.0,44.4 536.5,41.6 536.0,55.2 535.5,73.0 535.0,84.5 534.5,91.3 534.0,98.2 533.5,99.5 533.0,100.8 532.5,102.1 532.0,95.1 531.5,88.4 531.0,81.5 530.5,68.2 530.0,53.2 529.5,72.5 529.0,86.4 528.5,96.6 528.0,109.7 527.5,110.9 527.0,113.4 526.5,116.0 526.0,118.6 525.5,121.1 525.0,123.0 524.5,124.1 524.0,125.0 523.5,126.1 523.0,127.1 522.5,128.2 522.0,129.2 521.5,130.2 521.0,131.2 520.5,131.7 520.0,132.4 519.5,132.9 519.0,133.4 518.5,134.0 518.0,134.5 517.5,135.1 517.0,135.7 516.5,136.1 516.0,136.8 515.5,137.3 515.0,137.9 514.5,138.3 514.0,138.9 513.5,139.4 513.0,139.8 512.5,140.2 512.0,140.8 511.5,141.1 511.0,141.6 510.5,143.8 510.0,142.6 509.5,143.0 509.0,143.4 508.5,143.9 508.0,144.4 507.5,144.8 507.0,145.3 506.5,145.7 506.0,146.2 505.5,146.4 505.0,146.6 504.5,146.8 504.0,146.9 503.5,147.1 503.0,147.3 502.5,147.5 502.0,147.7 501.5,147.8 501.0,148.0 500.5,148.1 500.0,148.4 499.5,152.2 499.0,149.0 498.5,149.3 498.0,149.7 497.5,149.6 497.0,150.4 496.5,150.5 496.0,150.7 495.5,150.7 495.0,151.3 494.5,151.3 494.0,151.5 493.5,152.2 493.0,152.0 492.5,152.7 492.0,152.5 491.5,152.4 491.0,152.5 490.5,152.7 490.0,153.4 489.5,153.2 489.0,153.8 488.5,153.6 488.0,154.8 487.5,154.7 487.0,154.9 486.5,155.2 486.0,154.8 485.5,154.9 485.0,154.8 484.5,155.1 484.0,155.2 483.5,155.8 483.0,156.3 482.5,156.0 482.0,156.6 481.5,157.1 481.0,157.5 480.5,156.3 480.0,157.2 479.5,157.8 479.0,157.5 478.5,157.0 478.0,158.1 477.5,157.4 477.0,157.1 476.5,158.4 476.0,158.5 475.5,157.5 475.0,158.2 474.5,158.0 474.0,158.7 473.5,159.3 473.0,158.4 472.5,159.6 472.0,158.9 471.5,158.6 471.0,159.8 470.5,159.8 470.0,160.2 469.5,159.1 469.0,159.6 468.5,160.0 468.0,160.7 467.5,160.5 467.0,160.1 466.5,160.8 466.0,160.1 465.5,160.6 465.0,160.7 464.5,161.3 464.0,160.6 463.5,160.6 463.0,160.9 462.5,160.4 462.0,160.7 461.5,160.4 461.0,162.1 460.5,161.1 460.0,162.3 459.5,161.3 459.0,162.1 458.5,161.9 458.0,161.2 457.5,161.4 457.0,161.9 456.5,163.1 456.0,161.9 455.5,163.0 455.0,163.2 454.5,162.5 454.0,163.8 453.5,162.6 453.0,163.5 452.5,162.8 452.0,162.8 451.5,164.2 451.0,164.3 450.5,163.4 450.0,164.7 449.5,164.6 449.0,163.6 448.5,163.3 448.0,164.0 447.5,164.3 447.0,164.9 446.5,164.2 446.0,164.3 445.5,164.8 445.0,164.9 444.5,164.2 444.0,165.1 443.5,164.5 443.0,165.8 442.5,165.1 442.0,166.6 441.5,166.5 441.0,166.8 440.5,166.5 440.0,165.7 439.5,166.4 439.0,166.3 438.5,167.4 438.0,167.5 437.5,168.0 437.0,166.4 436.5,166.9 436.0,167.4 435.5,167.5 435.0,168.3 434.5,167.5 434.0,168.8 433.5,169.1 433.0,171.0 432.5,169.9 432.0,170.1 431.5,169.4 431.0,169.6 430.5,168.9 430.0,168.9 429.5,170.8 429.0,170.1 428.5,170.4 428.0,170.8 427.5,171.9 427.0,169.8 426.5,171.3 426.0,170.8 425.5,171.1 425.0,170.5 424.5,170.6 424.0,171.1 423.5,172.4 423.0,172.9 422.5,172.2 422.0,171.7 421.5,172.1 421.0,171.8 420.5,172.2 420.0,172.8 419.5,173.6 419.0,173.4 418.5,173.0 418.0,173.1 417.5,173.0 417.0,173.3 416.5,173.6 416.0,173.7 415.5,173.6 415.0,173.8 414.5,175.8 414.0,175.2 413.5,174.9 413.0,174.4 412.5,175.8 412.0,175.1 411.5,175.1 411.0,175.1 410.5,174.8 410.0,175.8 409.5,176.2 409.0,175.0 408.5,176.2 408.0,177.1 407.5,175.9 407.0,177.3 406.5,175.8 406.0,176.0 405.5,177.3 405.0,177.8 404.5,177.6 404.0,178.5 403.5,178.3 403.0,178.8 402.5,178.4 402.0,178.2 401.5,177.5 401.0,177.1 400.5,177.2 400.0,178.5 399.5,178.1 399.0,178.5 398.5,179.7 398.0,178.1 397.5,179.6 397.0,180.4 396.5,180.4 396.0,180.1 395.5,180.7 395.0,180.9 394.5,180.4 394.0,179.2 393.5,179.5 393.0,181.2 392.5,179.2 392.0,181.3 391.5,180.2 391.0,181.8 390.5,180.3 390.0,180.1 389.5,182.2 389.0,180.9 388.5,180.4 388.0,181.0 387.5,182.6 387.0,181.2" fill="#808080"/>
<path d="M480.0 150.1h1.4v1.4h-1.4zM394.0 171.8h1.4v1.4h-1.4zM456.3 155.7h1.4v1.4h-1.4zM435.7 160.0h1.4v1.4h-1.4zM456.8 155.1h1.4v1.4h-1.4zM391.1 170.9h1.4v1.4h-1.4zM392.3 170.8h1.4v1.4h-1.4zM405.2 167.9h1.4v1.4h-1.4zM487.8 149.6h1.4v1.4h-1.4zM418.1 164.0h1.4v1.4h-1.4zM447.8 155.8h1.4v1.4h-1.4zM488.3 149.4h1.4v1.4h-1.4zM459.6 153.6h1.4v1.4h-1.4zM408.6 166.7h1.4v1.4h-1.4zM430.7 161.7h1.4v1.4h-1.4zM397.7 169.0h1.4v1.4h-1.4zM416.3 165.3h1.4v1.4h-1.4zM418.1 164.9h1.4v1.4h-1.4zM389.0 172.2h1.4v1.4h-1.4zM473.8 152.7h1.4v1.4h-1.4zM479.4 149.9h1.4v1.4h-1.4zM440.3 157.6h1.4v1.4h-1.4zM452.4 155.6h1.4v1.4h-1.4zM448.3 156.2h1.4v1.4h-1.4zM455.1 154.7h1.4v1.4h-1.4zM489.4 149.5h1.4v1.4h-1.4zM446.5 157.4h1.4v1.4h-1.4zM401.6 170.0h1.4v1.4h-1.4zM458.4 153.7h1.4v1.4h-1.4zM458.1 154.7h1.4v1.4h-1.4zM475.0 151.8h1.4v1.4h-1.4zM457.0 154.3h1.4v1.4h-1.4zM420.3 164.5h1.4v1.4h-1.4zM391.2 171.2h1.4v1.4h-1.4zM433.1 159.6h1.4v1.4h-1.4zM451.7 155.6h1.4v1.4h-1.4zM462.6 154.1h1.4v1.4h-1.4zM456.1 155.2h1.4v1.4h-1.4zM448.6 156.2h1.4v1.4h-1.4zM449.3 156.5h1.4v1.4h-1.4zM411.0 166.8h1.4v1.4h-1.4zM427.4 161.9h1.4v1.4h-1.4zM430.0 161.7h1.4v1.4h-1.4zM391.3 170.7h1.4v1.4h-1.4zM485.1 149.1h1.4v1.4h-1.4zM395.6 169.2h1.4v1.4h-1.4zM486.9 150.0h1.4v1.4h-1.4zM468.6 152.3h1.4v1.4h-1.4zM409.9 167.4h1.4v1.4h-1.4zM424.4 163.1h1.4v1.4h-1.4zM412.5 167.5h1.4v1.4h-1.4zM450.8 155.1h1.4v1.4h-1.4zM390.2 170.7h1.4v1.4h-1.4zM430.8 160.4h1.4v1.4h-1.4zM464.6 154.2h1.4v1.4h-1.4zM433.9 160.6h1.4v1.4h-1.4zM451.7 155.9h1.4v1.4h-1.4zM431.1 161.3h1.4v1.4h-1.4zM451.7 155.2h1.4v1.4h-1.4zM476.0 151.2h1.4v1.4h-1.4z" fill="#808080"/>
<path d="M567.5 145.0h1.4v1.4h-1.4zM612.4 156.9h1.4v1.4h-1.4zM591.1 152.0h1.4v1.4h-1.4zM585.2 150.1h1.4v1.4h-1.4zM624.8 160.5h1.4v1.4h-1.4zM656.0 167.6h1.4v1.4h-1.4zM655.4 168.2h1.4v1.4h-1.4zM623.2 160.5h1.4v1.4h-1.4zM640.5 165.2h1.4v1.4h-1.4zM600.1 153.8h1.4v1.4h-1.4zM584.6 149.7h1.4v1.4h-1.4zM609.1 156.6h1.4v1.4h-1.4zM615.5 158.0h1.4v1.4h-1.4zM649.5 166.5h1.4v1.4h-1.4zM594.5 151.5h1.4v1.4h-1.4zM610.0 156.9h1.4v1.4h-1.4zM594.7 151.9h1.4v1.4h-1.4zM566.6 145.1h1.4v1.4h-1.4zM554.4 141.0h1.4v1.4h-1.4zM575.4 146.8h1.4v1.4h-1.4zM616.2 158.7h1.4v1.4h-1.4zM648.6 166.9h1.4v1.4h-1.4zM550.9 140.9h1.4v1.4h-1.4zM600.1 153.9h1.4v1.4h-1.4zM638.6 164.5h1.4v1.4h-1.4zM654.8 167.4h1.4v1.4h-1.4zM567.6 145.3h1.4v1.4h-1.4zM557.3 142.6h1.4v1.4h-1.4zM566.3 145.6h1.4v1.4h-1.4zM585.6 149.6h1.4v1.4h-1.4zM589.8 150.7h1.4v1.4h-1.4zM614.5 157.9h1.4v1.4h-1.4zM555.1 142.1h1.4v1.4h-1.4zM650.8 166.9h1.4v1.4h-1.4zM622.4 160.5h1.4v1.4h-1.4zM608.4 156.1h1.4v1.4h-1.4zM657.6 166.9h1.4v1.4h-1.4zM597.0 152.7h1.4v1.4h-1.4zM582.5 149.6h1.4v1.4h-1.4zM631.6 161.6h1.4v1.4h-1.4zM638.2 164.9h1.4v1.4h-1.4zM628.2 162.1h1.4v1.4h-1.4zM644.3 165.4h1.4v1.4h-1.4zM563.0 144.7h1.4v1.4h-1.4zM651.5 166.6h1.4v1.4h-1.4zM579.7 149.0h1.4v1.4h-1.4zM617.8 158.0h1.4v1.4h-1.4zM577.9 147.7h1.4v1.4h-1.4zM606.6 155.4h1.4v1.4h-1.4zM652.5 166.9h1.4v1.4h-1.4zM587.0 150.3h1.4v1.4h-1.4zM658.0 167.1h1.4v1.4h-1.4zM604.2 155.4h1.4v1.4h-1.4zM651.4 166.6h1.4v1.4h-1.4zM603.9 154.5h1.4v1.4h-1.4zM591.9 151.3h1.4v1.4h-1.4zM638.9 164.1h1.4v1.4h-1.4zM581.1 148.4h1.4v1.4h-1.4zM638.3 164.8h1.4v1.4h-1.4zM580.9 149.4h1.4v1.4h-1.4z" fill="#808080"/>
<polyline points="387.0,194.0 416.0,185.0 444.0,174.0 476.0,163.0 486.0,160.0 506.0,149.8 508.7,141.6 511.5,134.7 514.0,121.0 515.5,108.0 516.8,94.0 518.0,82.0 519.0,73.0 520.0,68.0 521.0,73.0 522.0,82.0 523.0,94.0 524.3,106.0 525.5,116.0 527.0,125.0 528.5,128.0 530.0,127.0 532.0,122.4 533.5,112.0 534.5,100.0 535.3,80.0 536.0,55.0 536.7,35.7 537.4,55.0 538.1,80.0 538.9,100.0 539.8,122.0 540.5,132.0 543.0,140.0 551.2,148.5 566.0,152.0 600.0,166.0 640.0,179.0 659.0,184.0" fill="none" stroke="#ff0000" stroke-width="2.3" stroke-linejoin="round"/>
<polygon points="387.0,189.4 387.5,187.5 388.0,189.3 388.5,189.2 389.0,188.6 389.5,188.7 390.0,187.4 390.5,188.7 391.0,186.5 391.5,186.5 392.0,188.5 392.5,187.0 393.0,188.0 393.5,187.4 394.0,186.8 394.5,186.6 395.0,186.4 395.5,185.1 396.0,186.6 396.5,186.7 397.0,185.3 397.5,184.4 398.0,184.3 398.5,184.2 399.0,186.2 399.5,183.8 400.0,184.4 400.5,183.6 401.0,184.7 401.5,185.0 402.0,183.4 402.5,183.6 403.0,183.1 403.5,184.5 404.0,184.5 404.5,182.7 405.0,184.5 405.5,181.9 406.0,183.9 406.5,182.5 407.0,182.8 407.5,182.9 408.0,183.1 408.5,181.4 409.0,180.9 409.5,181.2 410.0,181.4 410.5,181.0 411.0,181.3 411.5,181.0 412.0,180.0 412.5,181.5 413.0,181.5 413.5,179.4 414.0,179.3 414.5,180.3 415.0,179.3 415.5,179.3 416.0,178.6 416.5,180.7 417.0,178.4 417.5,179.2 418.0,179.1 418.5,178.3 419.0,178.3 419.5,178.6 420.0,178.8 420.5,177.0 421.0,177.0 421.5,178.7 422.0,177.7 422.5,176.6 423.0,176.1 423.5,175.7 424.0,177.4 424.5,175.5 425.0,175.8 425.5,177.2 426.0,176.7 426.5,176.6 427.0,176.7 427.5,174.9 428.0,175.7 428.5,174.5 429.0,175.9 429.5,173.7 430.0,173.9 430.5,173.5 431.0,173.8 431.5,174.0 432.0,174.4 432.5,172.4 433.0,174.2 433.5,173.1 434.0,173.9 434.5,173.7 435.0,172.0 435.5,171.4 436.0,171.3 436.5,171.2 437.0,170.9 437.5,171.5 438.0,170.7 438.5,171.7 439.0,170.8 439.5,171.6 440.0,171.9 440.5,171.5 441.0,169.6 441.5,169.1 442.0,171.0 442.5,169.1 443.0,168.8 443.5,168.9 444.0,169.1 444.5,169.0 445.0,168.3 445.5,169.2 446.0,167.8 446.5,169.0 447.0,169.3 447.5,166.9 448.0,168.8 448.5,168.4 449.0,168.5 449.5,168.5 450.0,168.0 450.5,166.0 451.0,166.3 451.5,166.9 452.0,167.7 452.5,165.5 453.0,166.2 453.5,165.1 454.0,165.8 454.5,166.6 455.0,166.5 455.5,164.6 456.0,165.8 456.5,165.8 457.0,165.0 457.5,165.2 458.0,165.0 458.5,163.6 459.0,164.2 459.5,162.8 460.0,164.8 460.5,164.1 461.0,162.6 461.5,160.4 462.0,162.5 462.5,163.2 463.0,163.1 463.5,161.8 464.0,162.9 464.5,162.2 465.0,162.0 465.5,163.1 466.0,162.8 466.5,162.3 467.0,162.7 467.5,160.9 468.0,161.0 468.5,161.4 469.0,161.0 469.5,161.7 470.0,160.8 470.5,159.6 471.0,161.2 471.5,159.7 472.0,159.4 472.5,160.3 473.0,160.0 473.5,160.1 474.0,159.1 474.5,159.3 475.0,159.7 475.5,159.2 476.0,159.1 476.5,157.3 477.0,158.0 477.5,158.2 478.0,158.0 478.5,157.7 479.0,156.6 479.5,157.8 480.0,158.4 480.5,158.0 481.0,158.2 481.5,157.6 482.0,156.6 482.5,157.2 483.0,155.8 483.5,155.5 484.0,157.1 484.5,155.5 485.0,155.7 485.5,154.8 486.0,156.4 486.5,154.9 487.0,155.6 487.5,155.7 488.0,155.3 488.5,153.6 489.0,154.3 489.5,154.2 490.0,153.0 490.5,152.8 491.0,152.5 491.5,154.1 492.0,151.8 492.5,152.2 493.0,151.5 493.5,151.5 494.0,151.1 494.5,150.8 495.0,151.1 495.5,151.9 496.0,150.5 496.5,151.7 497.0,150.9 497.5,150.9 498.0,150.7 498.5,149.7 499.0,149.4 499.5,149.3 500.0,149.6 500.5,149.2 501.0,150.0 501.5,149.6 502.0,148.8 502.5,149.1 503.0,148.9 503.5,148.5 504.0,149.1 504.5,148.4 505.0,148.4 505.5,148.9 506.0,148.5 506.5,146.9 507.0,145.9 507.5,144.7 508.0,143.2 508.5,141.8 509.0,140.7 509.5,139.4 510.0,138.2 510.5,136.9 511.0,135.6 511.5,134.5 512.0,131.7 512.5,129.0 513.0,126.3 513.5,123.5 514.0,120.7 514.5,116.4 515.0,112.1 515.5,107.7 516.0,102.3 516.5,97.0 517.0,91.8 517.5,86.7 518.0,81.8 518.5,77.3 519.0,72.7 519.5,70.2 520.0,67.7 520.5,70.2 521.0,72.7 521.5,77.2 522.0,81.7 522.5,87.7 523.0,93.7 523.5,98.3 524.0,101.3 524.5,107.4 525.0,111.6 525.5,115.8 526.0,118.7 526.5,121.7 527.0,124.8 527.5,125.8 528.0,126.8 528.5,127.8 529.0,127.4 529.5,127.1 530.0,126.7 530.5,125.6 531.0,124.4 531.5,123.3 532.0,122.1 532.5,118.7 533.0,115.3 533.5,111.8 534.0,105.8 534.5,99.8 535.0,87.3 535.5,72.7 536.0,54.7 536.5,40.9 537.0,43.7 537.5,58.4 538.0,76.2 538.5,89.7 539.0,102.2 539.5,114.5 540.0,124.6 540.5,131.7 541.0,133.4 541.5,134.9 542.0,136.5 542.5,138.2 543.0,139.8 543.5,140.3 544.0,140.8 544.5,141.3 545.0,141.9 545.5,142.2 546.0,142.7 546.5,142.9 547.0,143.5 547.5,143.6 548.0,144.0 548.5,144.5 549.0,145.1 549.5,145.4 550.0,146.0 550.5,146.3 551.0,146.5 551.5,146.6 552.0,146.7 552.5,146.2 553.0,147.0 553.5,146.3 554.0,146.2 554.5,146.8 555.0,147.2 555.5,146.3 556.0,146.5 556.5,146.9 557.0,146.4 557.5,147.5 558.0,146.9 558.5,147.1 559.0,147.6 559.5,147.1 560.0,148.2 560.5,148.0 561.0,147.9 561.5,147.3 562.0,147.7 562.5,148.8 563.0,148.1 563.5,148.9 564.0,148.7 564.5,147.9 565.0,146.5 565.5,149.4 566.0,148.2 566.5,149.5 567.0,149.2 567.5,149.9 568.0,149.0 568.5,149.5 569.0,149.6 569.5,150.9 570.0,150.7 570.5,150.1 571.0,151.2 571.5,151.7 572.0,150.6 572.5,151.8 573.0,151.5 573.5,152.3 574.0,152.6 574.5,152.2 575.0,152.1 575.5,152.1 576.0,152.0 576.5,152.9 577.0,152.8 577.5,153.7 578.0,152.9 578.5,154.0 579.0,151.7 579.5,154.6 580.0,154.9 580.5,154.2 581.0,155.3 581.5,155.0 582.0,155.4 582.5,154.7 583.0,155.8 583.5,156.1 584.0,156.2 584.5,156.6 585.0,155.9 585.5,156.4 586.0,156.3 586.5,157.5 587.0,156.4 587.5,157.1 588.0,156.5 588.5,156.7 589.0,158.7 589.5,157.8 590.0,158.6 590.5,158.0 591.0,159.2 591.5,158.6 592.0,158.4 592.5,159.0 593.0,159.7 593.5,159.0 594.0,158.9 594.5,160.3 595.0,160.8 595.5,160.5 596.0,157.2 596.5,160.9 597.0,160.0 597.5,161.5 598.0,162.1 598.5,162.4 599.0,161.7 599.5,162.3 600.0,162.0 600.5,161.8 601.0,162.7 601.5,163.2 602.0,161.8 602.5,163.4 603.0,163.3 603.5,164.0 604.0,163.0 604.5,163.9 605.0,163.0 605.5,163.8 606.0,163.1 606.5,159.3 607.0,163.5 607.5,165.1 608.0,164.7 608.5,164.9 609.0,164.9 609.5,165.4 610.0,165.4 610.5,164.1 611.0,166.2 611.5,165.4 612.0,164.7 612.5,165.8 613.0,166.0 613.5,166.0 614.0,167.0 614.5,167.0 615.0,166.0 615.5,166.4 616.0,167.4 616.5,167.0 617.0,166.0 617.5,167.9 618.0,166.7 618.5,166.5 619.0,167.6 619.5,168.6 620.0,168.0 620.5,167.5 621.0,167.9 621.5,167.6 622.0,168.5 622.5,169.8 623.0,169.9 623.5,168.3 624.0,169.1 624.5,168.3 625.0,168.6 625.5,169.3 626.0,169.5 626.5,169.2 627.0,170.8 627.5,170.5 628.0,170.0 628.5,170.4 629.0,171.4 629.5,171.2 630.0,171.8 630.5,170.3 631.0,172.0 631.5,167.2 632.0,172.3 632.5,172.6 633.0,173.0 633.5,172.3 634.0,171.3 634.5,171.3 635.0,172.3 635.5,171.7 636.0,172.3 636.5,171.7 637.0,173.7 637.5,173.8 638.0,173.9 638.5,172.7 639.0,172.5 639.5,173.1 640.0,172.7 640.5,175.3 641.0,175.0 641.5,175.2 642.0,174.8 642.5,174.8 643.0,174.9 643.5,175.6 644.0,174.8 644.5,174.6 645.0,174.3 645.5,176.1 646.0,174.1 646.5,176.1 647.0,175.8 647.5,174.6 648.0,176.7 648.5,176.1 649.0,176.4 649.5,177.3 650.0,177.5 650.5,177.2 651.0,176.5 651.5,177.9 652.0,177.6 652.5,175.7 653.0,177.0 653.5,177.7 654.0,175.9 654.5,176.7 655.0,177.9 655.5,176.6 656.0,179.0 656.5,178.3 657.0,176.7 657.5,178.0 658.0,179.3 658.5,179.4 659.0,177.2 659.0,189.8 658.5,188.1 658.0,189.9 657.5,189.3 657.0,189.8 656.5,189.4 656.0,189.2 655.5,188.7 655.0,187.6 654.5,188.9 654.0,186.9 653.5,188.4 653.0,189.1 652.5,187.3 652.0,187.8 651.5,186.8 651.0,188.4 650.5,186.7 650.0,187.0 649.5,188.0 649.0,186.2 648.5,187.1 648.0,186.4 647.5,195.3 647.0,189.5 646.5,186.4 646.0,185.5 645.5,184.5 645.0,195.3 644.5,185.3 644.0,185.4 643.5,185.1 643.0,184.6 642.5,185.1 642.0,184.8 641.5,183.4 641.0,184.3 640.5,184.5 640.0,183.1 639.5,184.0 639.0,183.2 638.5,183.9 638.0,183.3 637.5,182.3 637.0,182.4 636.5,182.3 636.0,183.4 635.5,181.5 635.0,183.2 634.5,182.2 634.0,181.5 633.5,183.0 633.0,182.2 632.5,181.5 632.0,182.0 631.5,181.7 631.0,184.5 630.5,180.4 630.0,179.4 629.5,181.5 629.0,179.8 628.5,179.1 628.0,179.7 627.5,180.7 627.0,180.2 626.5,178.2 626.0,178.9 625.5,179.6 625.0,179.2 624.5,179.7 624.0,177.3 623.5,177.6 623.0,179.2 622.5,177.4 622.0,178.7 621.5,176.5 621.0,177.1 620.5,177.0 620.0,177.2 619.5,176.2 619.0,176.4 618.5,176.3 618.0,176.7 617.5,175.8 617.0,186.1 616.5,176.7 616.0,175.3 615.5,176.4 615.0,175.3 614.5,175.6 614.0,174.0 613.5,175.3 613.0,173.7 612.5,174.0 612.0,174.7 611.5,174.6 611.0,172.9 610.5,173.4 610.0,174.6 609.5,172.4 609.0,172.8 608.5,173.6 608.0,172.3 607.5,171.8 607.0,171.6 606.5,172.7 606.0,172.8 605.5,172.9 605.0,172.2 604.5,176.6 604.0,170.9 603.5,170.7 603.0,171.7 602.5,170.7 602.0,170.2 601.5,171.0 601.0,170.2 600.5,169.8 600.0,169.1 599.5,168.9 599.0,170.5 598.5,169.0 598.0,168.2 597.5,168.1 597.0,169.6 596.5,167.7 596.0,171.1 595.5,167.9 595.0,168.4 594.5,168.2 594.0,166.4 593.5,167.0 593.0,166.7 592.5,165.9 592.0,166.8 591.5,166.2 591.0,166.6 590.5,166.6 590.0,166.2 589.5,165.6 589.0,166.1 588.5,164.2 588.0,165.6 587.5,165.2 587.0,163.5 586.5,164.1 586.0,164.3 585.5,163.9 585.0,163.8 584.5,162.7 584.0,163.6 583.5,162.0 583.0,162.3 582.5,162.0 582.0,165.0 581.5,162.2 581.0,162.3 580.5,170.2 580.0,161.5 579.5,160.3 579.0,160.1 578.5,160.9 578.0,161.0 577.5,160.6 577.0,160.5 576.5,159.3 576.0,171.7 575.5,158.8 575.0,159.8 574.5,158.7 574.0,159.4 573.5,157.6 573.0,158.7 572.5,157.6 572.0,158.0 571.5,162.3 571.0,166.9 570.5,159.1 570.0,156.2 569.5,157.2 569.0,156.9 568.5,155.5 568.0,155.9 567.5,155.1 567.0,155.6 566.5,155.8 566.0,155.1 565.5,155.5 565.0,154.7 564.5,155.1 564.0,166.1 563.5,156.9 563.0,154.7 562.5,154.2 562.0,154.4 561.5,153.6 561.0,154.0 560.5,153.4 560.0,156.9 559.5,152.8 559.0,153.4 558.5,153.0 558.0,152.9 557.5,152.2 557.0,152.4 556.5,152.2 556.0,152.8 555.5,152.6 555.0,152.0 554.5,152.4 554.0,151.2 553.5,151.8 553.0,150.9 552.5,151.1 552.0,150.5 551.5,156.9 551.0,149.9 550.5,149.2 550.0,149.1 549.5,150.3 549.0,147.6 548.5,146.6 548.0,146.0 547.5,145.4 547.0,144.9 546.5,144.2 546.0,143.6 545.5,142.9 545.0,142.3 544.5,141.8 544.0,141.3 543.5,140.7 543.0,140.2 542.5,138.7 542.0,137.0 541.5,135.5 541.0,133.9 540.5,132.2 540.0,125.0 539.5,114.9 539.0,102.7 538.5,90.2 538.0,76.7 537.5,58.8 537.0,44.2 536.5,41.4 536.0,55.2 535.5,73.1 535.0,96.4 534.5,100.2 534.0,106.2 533.5,112.2 533.0,115.7 532.5,119.2 532.0,122.6 531.5,123.8 531.0,124.9 530.5,126.1 530.0,127.3 529.5,127.6 529.0,127.9 528.5,128.3 528.0,127.2 527.5,126.3 527.0,125.3 526.5,122.3 526.0,119.3 525.5,116.3 525.0,112.1 524.5,107.9 524.0,109.6 523.5,98.8 523.0,94.3 522.5,88.3 522.0,82.3 521.5,77.8 521.0,73.2 520.5,70.7 520.0,68.3 519.5,70.8 519.0,73.2 518.5,77.7 518.0,82.2 517.5,87.3 517.0,92.2 516.5,97.5 516.0,102.8 515.5,108.2 515.0,112.6 514.5,116.9 514.0,121.3 513.5,124.0 513.0,126.7 512.5,140.6 512.0,132.2 511.5,134.9 511.0,136.2 510.5,137.4 510.0,138.7 509.5,139.9 509.0,141.1 508.5,142.5 508.0,144.4 507.5,145.9 507.0,147.7 506.5,149.3 506.0,150.9 505.5,151.5 505.0,152.4 504.5,152.4 504.0,153.3 503.5,153.1 503.0,154.3 502.5,153.5 502.0,154.2 501.5,154.3 501.0,154.9 500.5,155.9 500.0,155.7 499.5,156.3 499.0,156.0 498.5,157.4 498.0,157.0 497.5,158.5 497.0,157.2 496.5,158.6 496.0,160.8 495.5,164.5 495.0,169.2 494.5,160.6 494.0,159.3 493.5,160.5 493.0,159.9 492.5,161.6 492.0,160.5 491.5,160.8 491.0,161.0 490.5,160.8 490.0,162.3 489.5,161.5 489.0,161.7 488.5,162.9 488.0,163.0 487.5,162.8 487.0,172.1 486.5,164.9 486.0,164.0 485.5,163.4 485.0,164.9 484.5,164.7 484.0,165.5 483.5,164.1 483.0,166.0 482.5,165.6 482.0,164.7 481.5,164.7 481.0,166.0 480.5,166.6 480.0,166.7 479.5,166.4 479.0,166.5 478.5,165.8 478.0,167.2 477.5,166.5 477.0,167.6 476.5,167.9 476.0,173.0 475.5,168.3 475.0,168.3 474.5,167.4 474.0,168.1 473.5,177.7 473.0,181.0 472.5,168.1 472.0,169.5 471.5,169.7 471.0,174.5 470.5,169.1 470.0,169.2 469.5,170.7 469.0,170.6 468.5,169.7 468.0,173.5 467.5,169.4 467.0,170.2 466.5,176.6 466.0,171.2 465.5,171.0 465.0,171.2 464.5,171.9 464.0,172.6 463.5,171.6 463.0,172.7 462.5,171.8 462.0,171.8 461.5,172.4 461.0,172.3 460.5,172.9 460.0,174.2 459.5,172.6 459.0,174.5 458.5,174.1 458.0,174.2 457.5,173.7 457.0,174.0 456.5,175.6 456.0,175.7 455.5,185.6 455.0,175.8 454.5,175.4 454.0,174.6 453.5,174.4 453.0,176.2 452.5,176.0 452.0,175.5 451.5,177.1 451.0,176.7 450.5,177.0 450.0,175.7 449.5,177.3 449.0,187.6 448.5,177.5 448.0,177.8 447.5,176.8 447.0,178.6 446.5,179.2 446.0,177.6 445.5,178.6 445.0,179.3 444.5,179.4 444.0,178.4 443.5,179.0 443.0,180.1 442.5,179.6 442.0,180.3 441.5,181.1 441.0,180.1 440.5,180.3 440.0,181.4 439.5,185.5 439.0,181.7 438.5,190.2 438.0,182.1 437.5,182.1 437.0,180.5 436.5,180.9 436.0,182.0 435.5,182.8 435.0,182.9 434.5,182.7 434.0,183.8 433.5,184.2 433.0,182.2 432.5,182.6 432.0,183.8 431.5,183.8 431.0,184.8 430.5,183.8 430.0,183.7 429.5,184.5 429.0,185.1 428.5,184.7 428.0,185.3 427.5,186.2 427.0,186.6 426.5,185.9 426.0,185.1 425.5,187.5 425.0,185.9 424.5,187.5 424.0,187.8 423.5,187.9 423.0,188.6 422.5,188.1 422.0,186.6 421.5,188.0 421.0,190.7 420.5,189.2 420.0,188.6 419.5,189.0 419.0,187.8 418.5,189.7 418.0,189.6 417.5,188.7 417.0,191.1 416.5,189.5 416.0,191.2 415.5,189.5 415.0,191.7 414.5,189.7 414.0,190.2 413.5,189.9 413.0,190.0 412.5,191.4 412.0,191.1 411.5,191.4 411.0,191.3 410.5,191.6 410.0,193.1 409.5,191.3 409.0,191.9 408.5,191.4 408.0,199.0 407.5,194.1 407.0,193.0 406.5,192.0 406.0,192.1 405.5,194.0 405.0,193.1 404.5,194.4 404.0,195.4 403.5,193.8 403.0,194.8 402.5,194.1 402.0,195.8 401.5,193.5 401.0,199.5 400.5,196.2 400.0,196.4 399.5,195.9 399.0,195.8 398.5,196.1 398.0,198.0 397.5,195.2 397.0,195.8 396.5,195.4 396.0,196.5 395.5,197.2 395.0,197.0 394.5,195.6 394.0,196.4 393.5,197.8 393.0,198.0 392.5,197.8 392.0,196.6 391.5,198.5 391.0,198.7 390.5,206.0 390.0,199.0 389.5,199.3 389.0,197.9 388.5,209.5 388.0,198.3 387.5,200.1 387.0,198.9" fill="#ff0000"/>
<path d="M406.1 199.8h1.4v1.4h-1.4zM411.4 193.8h1.4v1.4h-1.4zM426.0 192.0h1.4v1.4h-1.4zM397.9 201.6h1.4v1.4h-1.4zM412.3 195.9h1.4v1.4h-1.4zM402.4 198.4h1.4v1.4h-1.4zM419.5 194.5h1.4v1.4h-1.4zM410.4 192.7h1.4v1.4h-1.4zM395.7 198.5h1.4v1.4h-1.4zM409.2 195.5h1.4v1.4h-1.4zM397.4 203.0h1.4v1.4h-1.4zM389.1 202.9h1.4v1.4h-1.4zM391.9 200.9h1.4v1.4h-1.4zM401.7 197.7h1.4v1.4h-1.4zM387.7 202.2h1.4v1.4h-1.4zM420.2 195.8h1.4v1.4h-1.4zM421.6 189.0h1.4v1.4h-1.4zM387.9 202.4h1.4v1.4h-1.4zM409.6 199.0h1.4v1.4h-1.4zM405.6 200.4h1.4v1.4h-1.4zM404.2 194.8h1.4v1.4h-1.4zM390.1 201.2h1.4v1.4h-1.4zM427.4 186.5h1.4v1.4h-1.4zM399.8 198.2h1.4v1.4h-1.4zM427.1 188.9h1.4v1.4h-1.4zM404.4 195.7h1.4v1.4h-1.4zM396.0 204.0h1.4v1.4h-1.4zM397.8 196.7h1.4v1.4h-1.4zM397.6 198.2h1.4v1.4h-1.4zM421.6 193.3h1.4v1.4h-1.4zM422.7 191.8h1.4v1.4h-1.4zM421.8 192.8h1.4v1.4h-1.4zM398.5 196.4h1.4v1.4h-1.4zM399.7 198.4h1.4v1.4h-1.4zM410.1 196.3h1.4v1.4h-1.4zM417.6 190.8h1.4v1.4h-1.4zM417.4 192.6h1.4v1.4h-1.4zM423.2 191.7h1.4v1.4h-1.4zM419.9 192.6h1.4v1.4h-1.4zM409.1 196.8h1.4v1.4h-1.4zM416.8 191.7h1.4v1.4h-1.4zM419.9 193.4h1.4v1.4h-1.4zM395.3 203.2h1.4v1.4h-1.4zM429.1 187.1h1.4v1.4h-1.4zM410.2 196.1h1.4v1.4h-1.4zM414.3 193.6h1.4v1.4h-1.4zM415.9 192.3h1.4v1.4h-1.4zM417.4 197.0h1.4v1.4h-1.4zM390.8 201.6h1.4v1.4h-1.4zM390.3 198.9h1.4v1.4h-1.4zM399.9 197.6h1.4v1.4h-1.4zM392.7 199.1h1.4v1.4h-1.4zM419.1 190.8h1.4v1.4h-1.4zM407.3 196.6h1.4v1.4h-1.4zM394.8 200.2h1.4v1.4h-1.4zM404.3 199.0h1.4v1.4h-1.4zM395.5 202.4h1.4v1.4h-1.4zM419.2 191.5h1.4v1.4h-1.4zM404.2 195.9h1.4v1.4h-1.4zM423.6 189.8h1.4v1.4h-1.4zM417.5 192.9h1.4v1.4h-1.4zM407.0 195.5h1.4v1.4h-1.4zM411.7 194.1h1.4v1.4h-1.4zM429.9 191.7h1.4v1.4h-1.4zM418.0 190.7h1.4v1.4h-1.4zM405.3 199.9h1.4v1.4h-1.4zM404.0 197.8h1.4v1.4h-1.4zM423.6 191.9h1.4v1.4h-1.4zM414.1 197.3h1.4v1.4h-1.4zM416.9 193.7h1.4v1.4h-1.4zM393.9 203.8h1.4v1.4h-1.4zM406.1 195.9h1.4v1.4h-1.4zM387.7 204.3h1.4v1.4h-1.4zM410.0 193.1h1.4v1.4h-1.4zM387.9 202.7h1.4v1.4h-1.4zM415.0 192.6h1.4v1.4h-1.4zM393.3 203.5h1.4v1.4h-1.4zM390.2 204.7h1.4v1.4h-1.4zM394.1 203.8h1.4v1.4h-1.4zM404.9 198.0h1.4v1.4h-1.4zM408.0 196.2h1.4v1.4h-1.4zM397.8 199.7h1.4v1.4h-1.4zM413.8 196.2h1.4v1.4h-1.4zM413.1 197.8h1.4v1.4h-1.4zM396.2 199.2h1.4v1.4h-1.4zM403.4 201.7h1.4v1.4h-1.4zM427.1 189.8h1.4v1.4h-1.4zM408.3 197.5h1.4v1.4h-1.4zM422.0 188.6h1.4v1.4h-1.4zM416.4 192.3h1.4v1.4h-1.4zM415.0 195.5h1.4v1.4h-1.4zM425.0 192.7h1.4v1.4h-1.4zM388.9 201.5h1.4v1.4h-1.4zM410.7 196.5h1.4v1.4h-1.4zM425.5 188.3h1.4v1.4h-1.4zM410.7 193.2h1.4v1.4h-1.4zM387.7 204.2h1.4v1.4h-1.4zM427.4 190.2h1.4v1.4h-1.4zM418.8 194.1h1.4v1.4h-1.4zM403.3 195.6h1.4v1.4h-1.4zM394.8 200.4h1.4v1.4h-1.4zM387.9 203.9h1.4v1.4h-1.4zM427.0 192.8h1.4v1.4h-1.4zM422.9 189.4h1.4v1.4h-1.4zM392.5 204.1h1.4v1.4h-1.4zM393.9 203.4h1.4v1.4h-1.4zM417.5 190.7h1.4v1.4h-1.4zM393.0 203.0h1.4v1.4h-1.4zM411.6 198.8h1.4v1.4h-1.4zM402.6 199.1h1.4v1.4h-1.4z" fill="#ff0000"/>
<path d="M472.2 159.0h1.4v1.4h-1.4zM469.7 172.5h1.4v1.4h-1.4zM472.2 170.7h1.4v1.4h-1.4zM488.8 153.1h1.4v1.4h-1.4zM433.9 172.0h1.4v1.4h-1.4zM480.9 168.4h1.4v1.4h-1.4zM472.0 171.5h1.4v1.4h-1.4zM472.5 169.9h1.4v1.4h-1.4zM472.4 170.9h1.4v1.4h-1.4zM433.9 170.7h1.4v1.4h-1.4zM460.4 175.5h1.4v1.4h-1.4zM467.8 171.2h1.4v1.4h-1.4zM489.6 163.7h1.4v1.4h-1.4zM476.1 169.3h1.4v1.4h-1.4zM430.3 173.3h1.4v1.4h-1.4zM431.2 184.8h1.4v1.4h-1.4zM480.5 168.6h1.4v1.4h-1.4zM477.7 169.2h1.4v1.4h-1.4zM431.6 186.8h1.4v1.4h-1.4zM464.0 161.5h1.4v1.4h-1.4zM476.0 168.8h1.4v1.4h-1.4zM462.9 173.2h1.4v1.4h-1.4zM431.0 185.2h1.4v1.4h-1.4z" fill="#ff0000"/>
<path d="M550.4 151.4h1.4v1.4h-1.4zM645.1 192.7h1.4v1.4h-1.4zM576.5 161.1h1.4v1.4h-1.4zM621.0 182.8h1.4v1.4h-1.4zM602.8 171.9h1.4v1.4h-1.4zM636.0 184.7h1.4v1.4h-1.4zM646.0 191.2h1.4v1.4h-1.4zM648.1 187.8h1.4v1.4h-1.4zM606.8 174.6h1.4v1.4h-1.4zM655.1 195.6h1.4v1.4h-1.4zM649.3 189.7h1.4v1.4h-1.4zM623.9 183.7h1.4v1.4h-1.4zM632.9 186.1h1.4v1.4h-1.4zM569.5 159.8h1.4v1.4h-1.4zM644.7 190.4h1.4v1.4h-1.4zM658.9 195.2h1.4v1.4h-1.4zM649.3 189.2h1.4v1.4h-1.4zM562.7 156.0h1.4v1.4h-1.4zM592.3 168.3h1.4v1.4h-1.4zM650.8 192.0h1.4v1.4h-1.4zM560.0 154.8h1.4v1.4h-1.4zM584.0 164.2h1.4v1.4h-1.4zM623.2 182.0h1.4v1.4h-1.4zM618.4 179.4h1.4v1.4h-1.4zM581.2 164.6h1.4v1.4h-1.4zM628.6 183.8h1.4v1.4h-1.4zM550.9 150.8h1.4v1.4h-1.4zM643.2 188.0h1.4v1.4h-1.4zM613.5 175.4h1.4v1.4h-1.4zM552.0 152.7h1.4v1.4h-1.4zM621.4 182.5h1.4v1.4h-1.4zM593.3 168.6h1.4v1.4h-1.4zM615.1 179.1h1.4v1.4h-1.4zM601.6 171.1h1.4v1.4h-1.4zM581.7 164.8h1.4v1.4h-1.4zM592.6 167.4h1.4v1.4h-1.4zM608.6 174.3h1.4v1.4h-1.4zM567.7 157.4h1.4v1.4h-1.4zM603.5 174.7h1.4v1.4h-1.4zM652.8 194.7h1.4v1.4h-1.4zM551.8 152.7h1.4v1.4h-1.4zM615.5 176.9h1.4v1.4h-1.4zM652.9 188.9h1.4v1.4h-1.4zM593.1 169.3h1.4v1.4h-1.4zM585.8 168.7h1.4v1.4h-1.4zM610.7 178.4h1.4v1.4h-1.4zM568.1 159.0h1.4v1.4h-1.4zM554.4 154.9h1.4v1.4h-1.4zM637.2 186.4h1.4v1.4h-1.4zM608.2 174.3h1.4v1.4h-1.4zM650.3 193.9h1.4v1.4h-1.4zM587.0 166.0h1.4v1.4h-1.4zM620.6 178.3h1.4v1.4h-1.4zM568.7 157.4h1.4v1.4h-1.4zM609.9 175.2h1.4v1.4h-1.4zM572.1 158.5h1.4v1.4h-1.4zM585.7 165.6h1.4v1.4h-1.4zM590.0 169.4h1.4v1.4h-1.4zM581.9 165.9h1.4v1.4h-1.4zM658.0 192.4h1.4v1.4h-1.4zM599.5 173.1h1.4v1.4h-1.4zM553.1 152.3h1.4v1.4h-1.4zM622.9 182.8h1.4v1.4h-1.4zM583.8 166.8h1.4v1.4h-1.4zM611.6 177.1h1.4v1.4h-1.4zM578.8 164.7h1.4v1.4h-1.4zM562.6 156.3h1.4v1.4h-1.4zM574.3 161.7h1.4v1.4h-1.4zM607.1 178.0h1.4v1.4h-1.4zM652.6 188.4h1.4v1.4h-1.4zM651.7 191.0h1.4v1.4h-1.4zM641.6 188.2h1.4v1.4h-1.4zM576.2 161.8h1.4v1.4h-1.4zM656.5 192.3h1.4v1.4h-1.4zM611.7 178.3h1.4v1.4h-1.4zM620.0 180.7h1.4v1.4h-1.4zM566.3 155.6h1.4v1.4h-1.4zM596.9 170.9h1.4v1.4h-1.4zM579.4 164.5h1.4v1.4h-1.4zM655.9 190.3h1.4v1.4h-1.4zM571.7 161.1h1.4v1.4h-1.4zM588.9 169.7h1.4v1.4h-1.4zM595.0 172.2h1.4v1.4h-1.4zM601.3 171.8h1.4v1.4h-1.4zM586.4 167.7h1.4v1.4h-1.4zM609.0 176.8h1.4v1.4h-1.4zM650.6 193.5h1.4v1.4h-1.4zM645.7 188.9h1.4v1.4h-1.4zM629.9 185.6h1.4v1.4h-1.4zM624.9 180.9h1.4v1.4h-1.4zM571.4 159.0h1.4v1.4h-1.4zM608.7 177.2h1.4v1.4h-1.4zM657.5 193.4h1.4v1.4h-1.4zM569.8 160.3h1.4v1.4h-1.4zM581.6 166.5h1.4v1.4h-1.4zM625.2 184.2h1.4v1.4h-1.4zM601.1 172.1h1.4v1.4h-1.4zM626.8 182.0h1.4v1.4h-1.4zM607.3 174.5h1.4v1.4h-1.4zM551.6 151.4h1.4v1.4h-1.4zM561.6 156.4h1.4v1.4h-1.4zM592.9 167.9h1.4v1.4h-1.4zM642.0 189.7h1.4v1.4h-1.4zM602.6 172.4h1.4v1.4h-1.4zM583.0 165.8h1.4v1.4h-1.4zM633.0 185.2h1.4v1.4h-1.4zM585.5 164.2h1.4v1.4h-1.4zM609.9 174.3h1.4v1.4h-1.4zM626.0 182.7h1.4v1.4h-1.4zM608.9 175.5h1.4v1.4h-1.4zM610.1 178.4h1.4v1.4h-1.4zM654.6 191.6h1.4v1.4h-1.4zM655.3 192.5h1.4v1.4h-1.4zM651.2 190.6h1.4v1.4h-1.4zM617.4 180.3h1.4v1.4h-1.4zM552.9 153.3h1.4v1.4h-1.4zM588.3 169.0h1.4v1.4h-1.4zM650.9 192.2h1.4v1.4h-1.4zM642.1 187.6h1.4v1.4h-1.4zM554.2 154.3h1.4v1.4h-1.4z" fill="#ff0000"/>
<polyline points="387.0,184.0 416.0,177.5 444.0,169.0 476.0,159.5 486.0,151.0 491.0,143.8 494.0,137.0 497.0,124.7 499.0,111.0 501.0,103.4 503.0,101.5 505.0,99.0 507.0,92.0 509.3,83.6 511.0,88.0 512.2,100.0 512.8,115.5 514.9,123.8 519.7,129.2 525.2,132.0 530.7,129.2 533.4,119.7 534.5,104.0 535.3,80.0 536.0,55.0 536.7,35.7 537.4,55.0 538.1,80.0 538.9,100.0 539.6,120.0 540.3,132.0 543.0,138.8 551.2,146.0 566.0,149.5 600.0,163.0 640.0,175.5 659.0,181.0" fill="none" stroke="#0000ff" stroke-width="2.2" stroke-linejoin="round"/>
<polyline points="486.0,151.0 491.0,143.8 494.0,137.0 497.0,124.7 499.0,111.0 501.0,103.4 503.0,101.5 505.0,99.0 507.0,92.0 509.3,83.6 511.0,88.0 512.2,100.0 512.8,115.5 514.9,123.8 519.7,129.2 525.2,132.0 530.7,129.2" fill="none" stroke="#0000ff" stroke-width="3.4" stroke-linejoin="round"/>
<polyline points="533.5,112.0 534.5,100.0 535.3,80.0 536.0,55.0 536.7,35.7 537.4,55.0 538.1,80.0 538.9,100.0 539.8,122.0 540.5,132.0" fill="none" stroke="#ff2020" stroke-width="1.3" stroke-linejoin="round" stroke-dasharray="1.2,2.2"/>
<polygon points="387.0,175.5 387.5,175.4 388.0,175.5 388.5,177.4 389.0,177.9 389.5,174.7 390.0,175.8 390.5,177.9 391.0,174.5 391.5,174.2 392.0,176.6 392.5,174.6 393.0,177.1 393.5,175.7 394.0,174.3 394.5,175.6 395.0,175.1 395.5,176.4 396.0,173.9 396.5,172.9 397.0,175.7 397.5,173.7 398.0,172.9 398.5,174.4 399.0,173.6 399.5,172.6 400.0,175.8 400.5,173.8 401.0,172.4 401.5,175.2 402.0,174.7 402.5,173.5 403.0,172.8 403.5,173.3 404.0,171.0 404.5,174.8 405.0,172.4 405.5,173.7 406.0,174.4 406.5,171.4 407.0,172.3 407.5,172.9 408.0,171.8 408.5,172.6 409.0,173.7 409.5,172.0 410.0,171.4 410.5,171.3 411.0,171.8 411.5,170.5 412.0,170.3 412.5,170.5 413.0,172.0 413.5,172.3 414.0,171.3 414.5,170.8 415.0,172.3 415.5,170.9 416.0,171.2 416.5,172.5 417.0,171.0 417.5,170.9 418.0,169.0 418.5,171.7 419.0,168.8 419.5,168.7 420.0,169.6 420.5,170.7 421.0,168.7 421.5,170.5 422.0,169.9 422.5,168.6 423.0,169.3 423.5,169.0 424.0,169.4 424.5,170.1 425.0,168.9 425.5,167.3 426.0,167.1 426.5,169.4 427.0,167.7 427.5,168.2 428.0,167.9 428.5,166.0 429.0,166.4 429.5,167.2 430.0,167.0 430.5,165.6 431.0,167.2 431.5,165.8 432.0,165.8 432.5,165.6 433.0,166.3 433.5,165.5 434.0,164.9 434.5,166.4 435.0,164.8 435.5,165.5 436.0,165.2 436.5,165.3 437.0,165.4 437.5,164.2 438.0,165.1 438.5,165.6 439.0,163.6 439.5,164.7 440.0,164.0 440.5,162.6 441.0,163.5 441.5,163.7 442.0,164.3 442.5,162.9 443.0,162.0 443.5,162.6 444.0,162.3 444.5,163.5 445.0,163.4 445.5,163.1 446.0,162.6 446.5,161.2 447.0,160.1 447.5,163.1 448.0,161.9 448.5,162.5 449.0,161.3 449.5,162.0 450.0,160.1 450.5,161.5 451.0,160.9 451.5,160.8 452.0,161.1 452.5,159.4 453.0,161.9 453.5,159.8 454.0,161.0 454.5,161.4 455.0,160.9 455.5,159.2 456.0,158.6 456.5,158.8 457.0,160.1 457.5,159.4 458.0,160.3 458.5,159.3 459.0,159.6 459.5,160.1 460.0,159.2 460.5,157.3 461.0,158.3 461.5,158.9 462.0,159.2 462.5,156.9 463.0,159.0 463.5,159.0 464.0,158.6 464.5,156.7 465.0,156.1 465.5,158.2 466.0,156.6 466.5,154.3 467.0,155.2 467.5,157.9 468.0,155.9 468.5,156.5 469.0,155.0 469.5,154.7 470.0,155.5 470.5,156.8 471.0,156.1 471.5,155.1 472.0,154.3 472.5,155.4 473.0,155.4 473.5,154.6 474.0,153.8 474.5,155.4 475.0,154.2 475.5,154.1 476.0,154.3 476.5,154.2 477.0,152.2 477.5,152.1 478.0,153.5 478.5,153.5 479.0,152.4 479.5,151.5 480.0,151.8 480.5,151.1 481.0,150.0 481.5,149.7 482.0,149.3 482.5,149.1 483.0,149.9 483.5,149.3 484.0,148.7 484.5,148.7 485.0,148.5 485.5,148.0 486.0,147.6 486.5,147.2 487.0,147.4 487.5,147.1 488.0,146.5 488.5,145.6 489.0,145.5 489.5,144.8 490.0,144.4 490.5,143.9 491.0,143.6 491.5,142.4 492.0,141.3 492.5,140.1 493.0,139.0 493.5,137.9 494.0,136.8 494.5,134.7 495.0,132.7 495.5,130.7 496.0,128.6 496.5,126.6 497.0,124.5 497.5,121.0 498.0,117.6 498.5,114.2 499.0,110.8 499.5,106.6 500.0,107.0 500.5,105.1 501.0,103.2 501.5,102.6 502.0,102.2 502.5,101.7 503.0,101.3 503.5,100.6 504.0,100.0 504.5,99.4 505.0,98.8 505.5,97.0 506.0,95.2 506.5,93.5 507.0,91.7 507.5,90.0 508.0,88.1 508.5,86.3 509.0,84.4 509.5,83.8 510.0,85.2 510.5,86.4 511.0,87.8 511.5,92.8 512.0,97.8 512.5,107.5 513.0,116.0 513.5,118.1 514.0,120.1 514.5,121.9 515.0,123.7 515.5,124.2 516.0,124.8 516.5,125.4 517.0,125.9 517.5,126.4 518.0,127.1 518.5,127.7 519.0,128.1 519.5,128.8 520.0,129.1 520.5,125.5 521.0,129.6 521.5,129.9 522.0,130.2 522.5,130.4 523.0,130.6 523.5,130.9 524.0,131.2 524.5,131.4 525.0,131.7 525.5,131.7 526.0,131.4 526.5,131.1 527.0,130.9 527.5,130.6 528.0,130.3 528.5,130.1 529.0,129.8 529.5,129.6 530.0,129.3 530.5,129.0 531.0,127.9 531.5,126.2 532.0,124.3 532.5,122.7 533.0,120.8 533.5,118.0 534.0,110.9 534.5,103.7 535.0,88.8 535.5,72.7 536.0,54.8 536.5,40.9 537.0,43.7 537.5,58.4 538.0,76.2 538.5,89.7 539.0,102.7 539.5,116.9 540.0,126.6 540.5,132.3 541.0,133.5 541.5,134.8 542.0,136.1 542.5,137.2 543.0,138.6 543.5,139.0 544.0,139.5 544.5,139.8 545.0,140.3 545.5,140.7 546.0,140.8 546.5,141.1 547.0,141.6 547.5,142.0 548.0,142.0 548.5,142.8 549.0,142.5 549.5,140.3 550.0,143.7 550.5,143.4 551.0,144.2 551.5,143.9 552.0,143.8 552.5,144.5 553.0,144.3 553.5,143.6 554.0,143.8 554.5,143.8 555.0,144.5 555.5,143.9 556.0,144.9 556.5,144.7 557.0,144.8 557.5,145.2 558.0,144.7 558.5,145.5 559.0,144.1 559.5,145.0 560.0,144.6 560.5,145.1 561.0,145.8 561.5,145.4 562.0,146.2 562.5,145.9 563.0,145.4 563.5,146.2 564.0,145.2 564.5,145.7 565.0,146.8 565.5,146.2 566.0,145.6 566.5,146.6 567.0,147.2 567.5,147.1 568.0,146.9 568.5,147.3 569.0,147.7 569.5,147.5 570.0,147.6 570.5,147.5 571.0,147.1 571.5,147.9 572.0,149.1 572.5,149.1 573.0,149.0 573.5,148.1 574.0,149.8 574.5,148.9 575.0,149.6 575.5,150.0 576.0,149.5 576.5,149.4 577.0,149.6 577.5,150.8 578.0,151.0 578.5,151.2 579.0,151.3 579.5,151.5 580.0,151.1 580.5,151.7 581.0,151.3 581.5,150.7 582.0,151.3 582.5,152.9 583.0,151.3 583.5,152.6 584.0,153.2 584.5,153.3 585.0,153.8 585.5,153.5 586.0,153.3 586.5,154.3 587.0,152.6 587.5,153.9 588.0,153.9 588.5,154.5 589.0,153.4 589.5,153.7 590.0,154.7 590.5,155.9 591.0,154.7 591.5,155.6 592.0,156.2 592.5,155.6 593.0,155.2 593.5,155.5 594.0,157.0 594.5,155.3 595.0,156.5 595.5,155.7 596.0,157.0 596.5,156.0 597.0,156.3 597.5,158.4 598.0,156.6 598.5,157.2 599.0,157.7 599.5,159.2 600.0,157.9 600.5,158.0 601.0,157.6 601.5,158.9 602.0,159.8 602.5,158.3 603.0,159.4 603.5,159.6 604.0,158.9 604.5,160.6 605.0,160.8 605.5,158.6 606.0,159.0 606.5,159.3 607.0,160.2 607.5,160.6 608.0,161.3 608.5,161.8 609.0,160.0 609.5,161.5 610.0,160.4 610.5,162.3 611.0,162.0 611.5,161.7 612.0,161.9 612.5,162.5 613.0,161.2 613.5,163.2 614.0,161.9 614.5,162.2 615.0,162.4 615.5,163.5 616.0,162.4 616.5,162.3 617.0,162.9 617.5,163.0 618.0,163.2 618.5,163.7 619.0,163.4 619.5,163.7 620.0,164.5 620.5,163.1 621.0,164.6 621.5,165.4 622.0,164.1 622.5,163.7 623.0,165.8 623.5,166.2 624.0,165.5 624.5,165.8 625.0,166.3 625.5,166.1 626.0,165.8 626.5,166.5 627.0,165.8 627.5,166.3 628.0,166.5 628.5,167.4 629.0,165.8 629.5,166.3 630.0,166.6 630.5,167.4 631.0,165.6 631.5,166.5 632.0,166.4 632.5,167.3 633.0,167.3 633.5,167.2 634.0,168.5 634.5,168.7 635.0,167.4 635.5,168.9 636.0,169.8 636.5,168.7 637.0,167.7 637.5,169.1 638.0,168.9 638.5,168.0 639.0,170.4 639.5,170.4 640.0,171.0 640.5,170.2 641.0,171.0 641.5,169.8 642.0,170.6 642.5,171.5 643.0,169.7 643.5,169.8 644.0,169.4 644.5,171.2 645.0,170.8 645.5,170.6 646.0,170.1 646.5,170.0 647.0,172.0 647.5,172.4 648.0,172.4 648.5,172.6 649.0,171.1 649.5,171.7 650.0,173.4 650.5,172.0 651.0,172.0 651.5,172.7 652.0,171.4 652.5,174.2 653.0,172.4 653.5,174.5 654.0,172.2 654.5,173.3 655.0,172.5 655.5,174.8 656.0,174.8 656.5,172.9 657.0,175.4 657.5,174.8 658.0,173.4 658.5,173.3 659.0,175.8 659.0,187.3 658.5,188.0 658.0,187.6 657.5,188.5 657.0,186.2 656.5,185.1 656.0,186.9 655.5,184.8 655.0,187.7 654.5,187.1 654.0,185.4 653.5,186.7 653.0,184.4 652.5,186.0 652.0,185.4 651.5,185.8 651.0,184.0 650.5,185.3 650.0,185.5 649.5,186.4 649.0,185.1 648.5,184.5 648.0,184.8 647.5,185.0 647.0,182.1 646.5,183.6 646.0,183.3 645.5,184.6 645.0,183.9 644.5,183.9 644.0,181.6 643.5,183.2 643.0,182.5 642.5,180.9 642.0,181.6 641.5,180.6 641.0,181.7 640.5,182.0 640.0,186.4 639.5,180.0 639.0,179.7 638.5,179.7 638.0,181.5 637.5,180.2 637.0,179.9 636.5,179.8 636.0,180.3 635.5,185.4 635.0,178.5 634.5,179.1 634.0,178.6 633.5,180.2 633.0,178.5 632.5,177.8 632.0,179.8 631.5,179.3 631.0,179.5 630.5,177.8 630.0,177.8 629.5,176.7 629.0,177.2 628.5,176.7 628.0,178.1 627.5,177.8 627.0,176.3 626.5,175.6 626.0,176.2 625.5,176.3 625.0,177.6 624.5,176.6 624.0,177.1 623.5,176.3 623.0,175.1 622.5,175.1 622.0,176.1 621.5,175.9 621.0,176.2 620.5,174.8 620.0,173.8 619.5,177.0 619.0,173.9 618.5,179.6 618.0,174.7 617.5,172.5 617.0,172.8 616.5,174.4 616.0,173.1 615.5,172.7 615.0,173.6 614.5,173.3 614.0,171.9 613.5,173.3 613.0,171.5 612.5,173.1 612.0,170.8 611.5,171.0 611.0,172.0 610.5,170.2 610.0,171.6 609.5,171.6 609.0,170.9 608.5,171.8 608.0,169.5 607.5,171.4 607.0,169.0 606.5,170.0 606.0,169.4 605.5,170.6 605.0,168.3 604.5,170.1 604.0,169.7 603.5,168.6 603.0,169.6 602.5,170.2 602.0,168.2 601.5,167.8 601.0,169.0 600.5,167.5 600.0,167.1 599.5,166.8 599.0,168.4 598.5,166.8 598.0,166.2 597.5,166.3 597.0,165.9 596.5,174.8 596.0,165.7 595.5,166.9 595.0,166.6 594.5,166.0 594.0,164.5 593.5,165.2 593.0,165.3 592.5,164.1 592.0,164.8 591.5,171.9 591.0,164.4 590.5,164.0 590.0,164.3 589.5,164.1 589.0,162.1 588.5,162.1 588.0,162.6 587.5,163.1 587.0,161.9 586.5,167.6 586.0,161.8 585.5,162.0 585.0,161.0 584.5,161.2 584.0,160.0 583.5,161.3 583.0,160.4 582.5,160.3 582.0,160.4 581.5,158.7 581.0,159.6 580.5,158.5 580.0,158.1 579.5,158.6 579.0,158.6 578.5,158.3 578.0,165.5 577.5,157.2 577.0,156.8 576.5,157.4 576.0,156.4 575.5,156.8 575.0,157.4 574.5,156.4 574.0,156.0 573.5,156.2 573.0,160.5 572.5,155.9 572.0,154.8 571.5,155.7 571.0,154.5 570.5,154.0 570.0,154.0 569.5,154.7 569.0,153.9 568.5,154.1 568.0,153.9 567.5,153.0 567.0,153.0 566.5,153.5 566.0,152.3 565.5,152.7 565.0,152.6 564.5,152.5 564.0,154.8 563.5,152.1 563.0,152.1 562.5,152.4 562.0,151.3 561.5,151.8 561.0,151.0 560.5,151.3 560.0,150.4 559.5,150.5 559.0,153.6 558.5,150.3 558.0,150.5 557.5,149.8 557.0,150.9 556.5,149.4 556.0,149.8 555.5,149.6 555.0,149.8 554.5,149.5 554.0,148.6 553.5,148.7 553.0,149.1 552.5,151.5 552.0,147.8 551.5,148.2 551.0,147.2 550.5,147.1 550.0,146.7 549.5,145.6 549.0,145.1 548.5,144.8 548.0,144.1 547.5,143.4 547.0,143.0 546.5,142.6 546.0,141.8 545.5,141.4 545.0,141.9 544.5,140.3 544.0,139.9 543.5,139.5 543.0,139.0 542.5,137.8 542.0,136.5 541.5,135.3 541.0,134.0 540.5,132.7 540.0,127.1 539.5,123.2 539.0,103.1 538.5,90.3 538.0,76.6 537.5,58.8 537.0,44.2 536.5,41.5 536.0,55.2 535.5,73.1 535.0,89.3 534.5,104.2 534.0,111.3 533.5,118.5 533.0,121.4 532.5,123.1 532.0,124.9 531.5,126.7 531.0,128.4 530.5,129.5 530.0,129.8 529.5,137.4 529.0,130.3 528.5,130.5 528.0,130.9 527.5,131.1 527.0,131.3 526.5,131.6 526.0,131.9 525.5,132.1 525.0,132.2 524.5,131.9 524.0,131.6 523.5,131.4 523.0,131.1 522.5,130.8 522.0,130.6 521.5,130.4 521.0,130.0 520.5,129.8 520.0,129.6 519.5,129.3 519.0,128.7 518.5,128.1 518.0,127.5 517.5,127.0 517.0,126.4 516.5,125.9 516.0,125.3 515.5,124.8 515.0,124.1 514.5,122.5 514.0,120.4 513.5,118.5 513.0,116.6 512.5,108.0 512.0,98.3 511.5,93.3 511.0,88.2 510.5,86.9 510.0,85.7 509.5,84.3 509.0,85.0 508.5,86.8 508.0,88.5 507.5,90.4 507.0,92.3 506.5,94.0 506.0,95.7 505.5,97.5 505.0,99.2 504.5,99.9 504.0,100.5 503.5,105.9 503.0,101.7 502.5,102.2 502.0,102.7 501.5,103.1 501.0,103.6 500.5,105.5 500.0,107.5 499.5,109.4 499.0,111.2 498.5,114.6 498.0,118.1 497.5,121.5 497.0,124.9 496.5,127.0 496.0,132.2 495.5,131.1 495.0,133.2 494.5,135.2 494.0,137.2 493.5,138.4 493.0,139.5 492.5,140.6 492.0,141.7 491.5,142.9 491.0,144.0 490.5,145.0 490.0,146.2 489.5,147.2 489.0,148.1 488.5,149.1 488.0,150.3 487.5,151.3 487.0,153.5 486.5,152.3 486.0,153.7 485.5,154.8 485.0,154.3 484.5,156.3 484.0,156.1 483.5,157.3 483.0,156.6 482.5,157.8 482.0,162.9 481.5,159.3 481.0,160.5 480.5,161.7 480.0,163.0 479.5,161.4 479.0,163.2 478.5,161.6 478.0,163.7 477.5,163.9 477.0,163.4 476.5,164.4 476.0,164.7 475.5,164.4 475.0,163.8 474.5,165.0 474.0,165.4 473.5,168.4 473.0,165.9 472.5,165.8 472.0,166.7 471.5,164.9 471.0,165.4 470.5,167.6 470.0,166.8 469.5,165.6 469.0,167.6 468.5,166.7 468.0,167.9 467.5,166.8 467.0,167.2 466.5,167.6 466.0,168.4 465.5,168.4 465.0,168.8 464.5,169.5 464.0,169.7 463.5,174.6 463.0,170.8 462.5,169.8 462.0,170.1 461.5,170.7 461.0,168.5 460.5,169.0 460.0,168.9 459.5,169.5 459.0,169.5 458.5,170.9 458.0,169.3 457.5,170.6 457.0,170.4 456.5,171.1 456.0,170.2 455.5,171.5 455.0,170.9 454.5,170.2 454.0,172.6 453.5,172.2 453.0,173.4 452.5,172.5 452.0,172.0 451.5,173.0 451.0,171.6 450.5,172.9 450.0,172.3 449.5,173.9 449.0,174.6 448.5,173.6 448.0,172.4 447.5,173.7 447.0,174.4 446.5,174.0 446.0,174.5 445.5,174.9 445.0,174.6 444.5,175.2 444.0,174.3 443.5,174.4 443.0,175.7 442.5,176.1 442.0,175.2 441.5,177.0 441.0,174.4 440.5,174.8 440.0,175.9 439.5,175.8 439.0,176.5 438.5,177.4 438.0,176.9 437.5,176.3 437.0,177.2 436.5,177.4 436.0,177.6 435.5,178.9 435.0,178.4 434.5,177.4 434.0,179.6 433.5,178.0 433.0,177.5 432.5,179.7 432.0,178.8 431.5,180.2 431.0,177.7 430.5,179.9 430.0,179.6 429.5,180.2 429.0,180.7 428.5,179.7 428.0,178.9 427.5,181.6 427.0,180.4 426.5,181.1 426.0,181.3 425.5,180.6 425.0,180.3 424.5,180.2 424.0,179.8 423.5,181.1 423.0,183.1 422.5,183.3 422.0,182.0 421.5,182.4 421.0,182.5 420.5,182.9 420.0,183.9 419.5,182.5 419.0,182.2 418.5,183.2 418.0,184.6 417.5,184.1 417.0,183.9 416.5,183.8 416.0,185.2 415.5,182.6 415.0,184.9 414.5,185.3 414.0,183.2 413.5,184.7 413.0,185.5 412.5,184.6 412.0,184.2 411.5,186.1 411.0,186.5 410.5,183.9 410.0,185.0 409.5,184.4 409.0,186.2 408.5,186.7 408.0,185.2 407.5,184.6 407.0,187.0 406.5,187.3 406.0,184.9 405.5,186.4 405.0,187.6 404.5,187.4 404.0,185.9 403.5,187.5 403.0,187.9 402.5,186.8 402.0,187.1 401.5,186.7 401.0,187.2 400.5,186.8 400.0,188.4 399.5,186.9 399.0,187.6 398.5,189.4 398.0,189.7 397.5,188.5 397.0,189.8 396.5,189.4 396.0,190.2 395.5,187.8 395.0,189.7 394.5,190.5 394.0,190.5 393.5,190.0 393.0,188.6 392.5,190.3 392.0,191.3 391.5,188.6 391.0,188.5 390.5,190.6 390.0,191.6 389.5,190.1 389.0,189.1 388.5,190.1 388.0,189.9 387.5,191.5 387.0,189.6" fill="#0000ff"/>
<path d="M421.1 188.3h1.4v1.4h-1.4zM433.3 179.8h1.4v1.4h-1.4zM481.4 161.6h1.4v1.4h-1.4zM482.6 158.8h1.4v1.4h-1.4zM396.8 192.0h1.4v1.4h-1.4zM387.1 195.5h1.4v1.4h-1.4zM432.8 183.7h1.4v1.4h-1.4zM478.7 165.4h1.4v1.4h-1.4zM468.9 170.1h1.4v1.4h-1.4zM478.3 167.8h1.4v1.4h-1.4zM469.1 167.7h1.4v1.4h-1.4zM403.4 192.9h1.4v1.4h-1.4zM485.9 154.7h1.4v1.4h-1.4zM423.1 184.2h1.4v1.4h-1.4zM387.1 197.2h1.4v1.4h-1.4zM391.4 195.6h1.4v1.4h-1.4zM389.9 192.6h1.4v1.4h-1.4zM397.3 191.6h1.4v1.4h-1.4zM403.1 191.5h1.4v1.4h-1.4zM428.4 185.3h1.4v1.4h-1.4zM420.7 184.0h1.4v1.4h-1.4zM473.3 169.5h1.4v1.4h-1.4zM413.3 186.5h1.4v1.4h-1.4zM484.5 157.8h1.4v1.4h-1.4zM484.0 159.8h1.4v1.4h-1.4zM408.8 187.4h1.4v1.4h-1.4zM394.9 195.2h1.4v1.4h-1.4zM457.7 171.3h1.4v1.4h-1.4zM401.6 189.1h1.4v1.4h-1.4zM463.1 170.6h1.4v1.4h-1.4zM422.2 186.3h1.4v1.4h-1.4zM398.3 194.6h1.4v1.4h-1.4zM471.0 167.6h1.4v1.4h-1.4zM398.5 194.4h1.4v1.4h-1.4zM393.8 191.2h1.4v1.4h-1.4zM415.0 187.9h1.4v1.4h-1.4zM472.2 169.6h1.4v1.4h-1.4zM407.4 191.4h1.4v1.4h-1.4zM399.2 172.3h1.4v1.4h-1.4zM441.1 161.0h1.4v1.4h-1.4zM472.9 170.9h1.4v1.4h-1.4zM406.7 188.5h1.4v1.4h-1.4zM422.0 183.4h1.4v1.4h-1.4zM402.6 193.7h1.4v1.4h-1.4zM402.1 189.8h1.4v1.4h-1.4zM468.7 168.3h1.4v1.4h-1.4zM426.1 185.3h1.4v1.4h-1.4zM404.0 167.3h1.4v1.4h-1.4zM483.5 159.6h1.4v1.4h-1.4zM392.3 191.8h1.4v1.4h-1.4zM469.8 169.0h1.4v1.4h-1.4zM473.5 166.9h1.4v1.4h-1.4zM420.4 186.1h1.4v1.4h-1.4zM481.8 159.6h1.4v1.4h-1.4zM468.1 169.0h1.4v1.4h-1.4zM408.7 188.3h1.4v1.4h-1.4zM398.8 190.4h1.4v1.4h-1.4zM415.5 190.1h1.4v1.4h-1.4zM416.0 190.2h1.4v1.4h-1.4zM416.3 190.2h1.4v1.4h-1.4zM470.3 171.9h1.4v1.4h-1.4zM402.4 190.2h1.4v1.4h-1.4zM461.2 171.5h1.4v1.4h-1.4zM390.1 196.6h1.4v1.4h-1.4zM416.0 186.3h1.4v1.4h-1.4zM426.6 185.0h1.4v1.4h-1.4zM415.1 186.7h1.4v1.4h-1.4zM409.2 191.2h1.4v1.4h-1.4zM457.3 171.8h1.4v1.4h-1.4zM479.6 165.3h1.4v1.4h-1.4zM430.6 182.7h1.4v1.4h-1.4zM418.7 164.5h1.4v1.4h-1.4zM432.2 181.3h1.4v1.4h-1.4zM443.5 158.8h1.4v1.4h-1.4zM418.9 185.2h1.4v1.4h-1.4zM423.2 185.6h1.4v1.4h-1.4zM411.2 187.8h1.4v1.4h-1.4zM431.8 163.5h1.4v1.4h-1.4zM487.6 151.0h1.4v1.4h-1.4zM420.0 185.2h1.4v1.4h-1.4zM480.4 163.3h1.4v1.4h-1.4zM412.5 190.6h1.4v1.4h-1.4zM458.4 172.3h1.4v1.4h-1.4zM484.9 156.8h1.4v1.4h-1.4zM455.4 155.1h1.4v1.4h-1.4zM459.1 172.8h1.4v1.4h-1.4zM473.3 168.2h1.4v1.4h-1.4zM472.4 168.0h1.4v1.4h-1.4zM479.2 163.2h1.4v1.4h-1.4zM420.2 184.8h1.4v1.4h-1.4zM468.2 172.0h1.4v1.4h-1.4zM395.9 193.6h1.4v1.4h-1.4zM417.0 189.5h1.4v1.4h-1.4zM397.3 193.6h1.4v1.4h-1.4zM401.5 169.1h1.4v1.4h-1.4zM391.6 191.4h1.4v1.4h-1.4zM426.2 186.9h1.4v1.4h-1.4zM400.9 189.3h1.4v1.4h-1.4zM480.1 162.0h1.4v1.4h-1.4zM431.8 180.9h1.4v1.4h-1.4zM412.1 187.0h1.4v1.4h-1.4zM409.4 188.6h1.4v1.4h-1.4zM432.4 183.9h1.4v1.4h-1.4zM410.2 186.7h1.4v1.4h-1.4zM413.2 186.2h1.4v1.4h-1.4zM419.8 188.6h1.4v1.4h-1.4zM461.5 172.6h1.4v1.4h-1.4zM455.3 172.3h1.4v1.4h-1.4zM471.8 171.0h1.4v1.4h-1.4zM401.0 193.7h1.4v1.4h-1.4zM475.6 165.9h1.4v1.4h-1.4zM409.8 186.5h1.4v1.4h-1.4zM400.3 192.3h1.4v1.4h-1.4zM476.8 167.2h1.4v1.4h-1.4zM474.4 150.2h1.4v1.4h-1.4zM406.2 189.0h1.4v1.4h-1.4zM397.4 189.8h1.4v1.4h-1.4zM424.1 185.0h1.4v1.4h-1.4zM391.3 194.7h1.4v1.4h-1.4zM430.0 181.5h1.4v1.4h-1.4zM484.7 156.6h1.4v1.4h-1.4zM484.3 157.0h1.4v1.4h-1.4zM419.2 187.9h1.4v1.4h-1.4zM420.3 186.2h1.4v1.4h-1.4zM416.1 185.7h1.4v1.4h-1.4zM419.3 185.4h1.4v1.4h-1.4zM389.9 193.8h1.4v1.4h-1.4zM417.9 187.8h1.4v1.4h-1.4zM464.0 170.1h1.4v1.4h-1.4zM431.8 180.7h1.4v1.4h-1.4zM475.4 166.8h1.4v1.4h-1.4zM429.6 184.4h1.4v1.4h-1.4zM393.0 194.4h1.4v1.4h-1.4zM429.6 185.6h1.4v1.4h-1.4z" fill="#0000ff"/>
<path d="M569.7 156.5h1.4v1.4h-1.4zM593.4 168.4h1.4v1.4h-1.4zM647.4 190.5h1.4v1.4h-1.4zM594.0 165.9h1.4v1.4h-1.4zM624.4 177.4h1.4v1.4h-1.4zM605.7 174.1h1.4v1.4h-1.4zM608.4 172.8h1.4v1.4h-1.4zM645.4 189.8h1.4v1.4h-1.4zM576.8 161.7h1.4v1.4h-1.4zM565.5 153.9h1.4v1.4h-1.4zM585.8 163.0h1.4v1.4h-1.4zM594.5 169.2h1.4v1.4h-1.4zM621.6 180.5h1.4v1.4h-1.4zM651.9 191.1h1.4v1.4h-1.4zM573.6 159.6h1.4v1.4h-1.4zM580.5 160.0h1.4v1.4h-1.4zM571.6 157.9h1.4v1.4h-1.4zM602.8 170.0h1.4v1.4h-1.4zM579.3 162.8h1.4v1.4h-1.4zM633.0 184.4h1.4v1.4h-1.4zM650.3 190.5h1.4v1.4h-1.4zM619.0 178.4h1.4v1.4h-1.4zM552.3 149.6h1.4v1.4h-1.4zM600.2 172.9h1.4v1.4h-1.4zM611.1 174.7h1.4v1.4h-1.4zM579.9 162.3h1.4v1.4h-1.4zM593.5 169.2h1.4v1.4h-1.4zM596.3 166.8h1.4v1.4h-1.4zM568.0 156.4h1.4v1.4h-1.4zM559.3 153.5h1.4v1.4h-1.4zM601.8 172.1h1.4v1.4h-1.4zM636.5 182.5h1.4v1.4h-1.4zM580.9 160.1h1.4v1.4h-1.4zM617.0 176.6h1.4v1.4h-1.4zM554.1 150.9h1.4v1.4h-1.4zM646.0 188.7h1.4v1.4h-1.4zM647.9 185.1h1.4v1.4h-1.4zM651.1 190.5h1.4v1.4h-1.4zM587.0 163.1h1.4v1.4h-1.4zM593.9 168.0h1.4v1.4h-1.4zM571.6 157.3h1.4v1.4h-1.4zM567.6 154.3h1.4v1.4h-1.4zM576.2 158.2h1.4v1.4h-1.4zM611.9 174.8h1.4v1.4h-1.4zM651.3 185.8h1.4v1.4h-1.4zM609.2 176.6h1.4v1.4h-1.4zM569.7 154.9h1.4v1.4h-1.4zM598.2 169.8h1.4v1.4h-1.4zM628.7 180.6h1.4v1.4h-1.4zM585.1 165.3h1.4v1.4h-1.4zM593.1 168.7h1.4v1.4h-1.4zM603.9 170.4h1.4v1.4h-1.4zM609.8 176.8h1.4v1.4h-1.4zM643.9 186.7h1.4v1.4h-1.4zM645.1 189.4h1.4v1.4h-1.4zM584.3 163.1h1.4v1.4h-1.4zM565.0 153.6h1.4v1.4h-1.4zM564.5 153.4h1.4v1.4h-1.4zM555.7 151.0h1.4v1.4h-1.4zM583.3 161.6h1.4v1.4h-1.4zM575.7 159.3h1.4v1.4h-1.4zM550.5 147.9h1.4v1.4h-1.4zM627.8 179.7h1.4v1.4h-1.4zM651.3 187.2h1.4v1.4h-1.4zM624.2 178.8h1.4v1.4h-1.4zM648.0 188.2h1.4v1.4h-1.4zM606.9 172.8h1.4v1.4h-1.4zM569.7 156.5h1.4v1.4h-1.4zM596.1 169.0h1.4v1.4h-1.4zM564.4 152.9h1.4v1.4h-1.4zM555.9 151.0h1.4v1.4h-1.4zM627.1 181.0h1.4v1.4h-1.4zM616.9 174.4h1.4v1.4h-1.4zM581.4 160.3h1.4v1.4h-1.4zM600.6 171.5h1.4v1.4h-1.4zM620.5 177.9h1.4v1.4h-1.4zM644.3 188.6h1.4v1.4h-1.4zM652.1 187.7h1.4v1.4h-1.4zM613.4 176.6h1.4v1.4h-1.4zM631.4 179.5h1.4v1.4h-1.4zM638.8 186.9h1.4v1.4h-1.4zM646.4 189.9h1.4v1.4h-1.4zM604.1 173.4h1.4v1.4h-1.4zM585.9 165.8h1.4v1.4h-1.4zM647.5 186.4h1.4v1.4h-1.4zM570.6 157.9h1.4v1.4h-1.4zM595.9 170.9h1.4v1.4h-1.4zM654.7 190.4h1.4v1.4h-1.4zM575.3 160.6h1.4v1.4h-1.4zM570.1 157.6h1.4v1.4h-1.4zM604.0 174.5h1.4v1.4h-1.4zM620.5 176.2h1.4v1.4h-1.4zM601.5 172.1h1.4v1.4h-1.4zM631.4 179.4h1.4v1.4h-1.4zM630.1 180.3h1.4v1.4h-1.4zM577.1 159.3h1.4v1.4h-1.4zM567.6 156.6h1.4v1.4h-1.4zM573.7 157.2h1.4v1.4h-1.4zM630.8 183.1h1.4v1.4h-1.4zM589.1 166.3h1.4v1.4h-1.4zM584.7 164.1h1.4v1.4h-1.4zM568.9 156.9h1.4v1.4h-1.4zM555.7 152.7h1.4v1.4h-1.4zM580.0 161.9h1.4v1.4h-1.4zM600.5 169.5h1.4v1.4h-1.4zM583.7 162.0h1.4v1.4h-1.4zM657.7 188.7h1.4v1.4h-1.4zM550.0 147.9h1.4v1.4h-1.4zM564.1 152.8h1.4v1.4h-1.4zM554.3 151.3h1.4v1.4h-1.4zM602.1 172.1h1.4v1.4h-1.4zM611.3 173.2h1.4v1.4h-1.4zM612.2 176.5h1.4v1.4h-1.4zM649.0 185.0h1.4v1.4h-1.4zM621.4 176.7h1.4v1.4h-1.4zM600.0 172.3h1.4v1.4h-1.4zM599.9 172.9h1.4v1.4h-1.4zM567.0 156.1h1.4v1.4h-1.4zM644.8 188.1h1.4v1.4h-1.4zM585.2 165.1h1.4v1.4h-1.4zM614.1 173.3h1.4v1.4h-1.4zM551.3 148.6h1.4v1.4h-1.4zM591.4 164.8h1.4v1.4h-1.4zM611.1 176.3h1.4v1.4h-1.4zM641.4 187.7h1.4v1.4h-1.4zM647.8 188.1h1.4v1.4h-1.4zM567.0 155.6h1.4v1.4h-1.4zM640.3 183.7h1.4v1.4h-1.4zM574.8 159.2h1.4v1.4h-1.4zM586.8 166.1h1.4v1.4h-1.4zM656.3 188.2h1.4v1.4h-1.4zM577.6 161.3h1.4v1.4h-1.4zM596.5 171.3h1.4v1.4h-1.4zM612.4 173.7h1.4v1.4h-1.4zM585.8 165.5h1.4v1.4h-1.4zM609.9 174.5h1.4v1.4h-1.4zM560.2 152.2h1.4v1.4h-1.4zM648.4 186.5h1.4v1.4h-1.4zM644.6 188.2h1.4v1.4h-1.4zM583.8 164.1h1.4v1.4h-1.4z" fill="#0000ff"/>
</g>
<rect x="386.9" y="3.8" width="271.7" height="201.1" fill="none" stroke="#000" stroke-width="1.3"/>
<line x1="386.9" y1="202.6" x2="389.4" y2="202.6" stroke="#000" stroke-width="1"/>
<line x1="386.9" y1="200.6" x2="389.4" y2="200.6" stroke="#000" stroke-width="1"/>
<line x1="386.9" y1="198.9" x2="389.4" y2="198.9" stroke="#000" stroke-width="1"/>
<line x1="386.9" y1="197.4" x2="389.4" y2="197.4" stroke="#000" stroke-width="1"/>
<line x1="386.9" y1="196" x2="390.9" y2="196" stroke="#000" stroke-width="1"/>
<line x1="386.9" y1="187.1" x2="389.4" y2="187.1" stroke="#000" stroke-width="1"/>
<line x1="386.9" y1="181.9" x2="389.4" y2="181.9" stroke="#000" stroke-width="1"/>
<line x1="386.9" y1="178.1" x2="389.4" y2="178.1" stroke="#000" stroke-width="1"/>
<line x1="386.9" y1="175.3" x2="389.4" y2="175.3" stroke="#000" stroke-width="1"/>
<line x1="386.9" y1="172.9" x2="389.4" y2="172.9" stroke="#000" stroke-width="1"/>
<line x1="386.9" y1="170.9" x2="389.4" y2="170.9" stroke="#000" stroke-width="1"/>
<line x1="386.9" y1="169.2" x2="389.4" y2="169.2" stroke="#000" stroke-width="1"/>
<line x1="386.9" y1="167.7" x2="389.4" y2="167.7" stroke="#000" stroke-width="1"/>
<line x1="386.9" y1="166.3" x2="390.9" y2="166.3" stroke="#000" stroke-width="1"/>
<line x1="386.9" y1="157.4" x2="389.4" y2="157.4" stroke="#000" stroke-width="1"/>
<line x1="386.9" y1="152.2" x2="389.4" y2="152.2" stroke="#000" stroke-width="1"/>
<line x1="386.9" y1="148.5" x2="389.4" y2="148.5" stroke="#000" stroke-width="1"/>
<line x1="386.9" y1="145.6" x2="389.4" y2="145.6" stroke="#000" stroke-width="1"/>
<line x1="386.9" y1="143.3" x2="389.4" y2="143.3" stroke="#000" stroke-width="1"/>
<line x1="386.9" y1="141.3" x2="389.4" y2="141.3" stroke="#000" stroke-width="1"/>
<line x1="386.9" y1="139.6" x2="389.4" y2="139.6" stroke="#000" stroke-width="1"/>
<line x1="386.9" y1="138.1" x2="389.4" y2="138.1" stroke="#000" stroke-width="1"/>
<line x1="386.9" y1="136.7" x2="390.9" y2="136.7" stroke="#000" stroke-width="1"/>
<line x1="386.9" y1="127.8" x2="389.4" y2="127.8" stroke="#000" stroke-width="1"/>
<line x1="386.9" y1="122.6" x2="389.4" y2="122.6" stroke="#000" stroke-width="1"/>
<line x1="386.9" y1="118.8" x2="389.4" y2="118.8" stroke="#000" stroke-width="1"/>
<line x1="386.9" y1="116" x2="389.4" y2="116" stroke="#000" stroke-width="1"/>
<line x1="386.9" y1="113.6" x2="389.4" y2="113.6" stroke="#000" stroke-width="1"/>
<line x1="386.9" y1="111.6" x2="389.4" y2="111.6" stroke="#000" stroke-width="1"/>
<line x1="386.9" y1="109.9" x2="389.4" y2="109.9" stroke="#000" stroke-width="1"/>
<line x1="386.9" y1="108.4" x2="389.4" y2="108.4" stroke="#000" stroke-width="1"/>
<line x1="386.9" y1="107.1" x2="390.9" y2="107.1" stroke="#000" stroke-width="1"/>
<line x1="386.9" y1="98.1" x2="389.4" y2="98.1" stroke="#000" stroke-width="1"/>
<line x1="386.9" y1="92.9" x2="389.4" y2="92.9" stroke="#000" stroke-width="1"/>
<line x1="386.9" y1="89.2" x2="389.4" y2="89.2" stroke="#000" stroke-width="1"/>
<line x1="386.9" y1="86.3" x2="389.4" y2="86.3" stroke="#000" stroke-width="1"/>
<line x1="386.9" y1="84" x2="389.4" y2="84" stroke="#000" stroke-width="1"/>
<line x1="386.9" y1="82" x2="389.4" y2="82" stroke="#000" stroke-width="1"/>
<line x1="386.9" y1="80.3" x2="389.4" y2="80.3" stroke="#000" stroke-width="1"/>
<line x1="386.9" y1="78.8" x2="389.4" y2="78.8" stroke="#000" stroke-width="1"/>
<line x1="386.9" y1="77.4" x2="390.9" y2="77.4" stroke="#000" stroke-width="1"/>
<line x1="386.9" y1="68.5" x2="389.4" y2="68.5" stroke="#000" stroke-width="1"/>
<line x1="386.9" y1="63.3" x2="389.4" y2="63.3" stroke="#000" stroke-width="1"/>
<line x1="386.9" y1="59.5" x2="389.4" y2="59.5" stroke="#000" stroke-width="1"/>
<line x1="386.9" y1="56.7" x2="389.4" y2="56.7" stroke="#000" stroke-width="1"/>
<line x1="386.9" y1="54.3" x2="389.4" y2="54.3" stroke="#000" stroke-width="1"/>
<line x1="386.9" y1="52.3" x2="389.4" y2="52.3" stroke="#000" stroke-width="1"/>
<line x1="386.9" y1="50.6" x2="389.4" y2="50.6" stroke="#000" stroke-width="1"/>
<line x1="386.9" y1="49.1" x2="389.4" y2="49.1" stroke="#000" stroke-width="1"/>
<line x1="386.9" y1="47.8" x2="390.9" y2="47.8" stroke="#000" stroke-width="1"/>
<line x1="386.9" y1="38.8" x2="389.4" y2="38.8" stroke="#000" stroke-width="1"/>
<line x1="386.9" y1="33.6" x2="389.4" y2="33.6" stroke="#000" stroke-width="1"/>
<line x1="386.9" y1="29.9" x2="389.4" y2="29.9" stroke="#000" stroke-width="1"/>
<line x1="386.9" y1="27" x2="389.4" y2="27" stroke="#000" stroke-width="1"/>
<line x1="386.9" y1="24.7" x2="389.4" y2="24.7" stroke="#000" stroke-width="1"/>
<line x1="386.9" y1="22.7" x2="389.4" y2="22.7" stroke="#000" stroke-width="1"/>
<line x1="386.9" y1="21" x2="389.4" y2="21" stroke="#000" stroke-width="1"/>
<line x1="386.9" y1="19.5" x2="389.4" y2="19.5" stroke="#000" stroke-width="1"/>
<line x1="386.9" y1="18.1" x2="390.9" y2="18.1" stroke="#000" stroke-width="1"/>
<line x1="386.9" y1="9.2" x2="389.4" y2="9.2" stroke="#000" stroke-width="1"/>
<text x="379" y="200" font-size="10" font-weight="bold" font-style="normal" text-anchor="end" fill="#000">10</text>
<text x="379.4" y="194.5" font-size="5.8" font-weight="bold" font-style="normal" text-anchor="start" fill="#000">1</text>
<text x="379" y="170.3" font-size="10" font-weight="bold" font-style="normal" text-anchor="end" fill="#000">10</text>
<text x="379.4" y="164.8" font-size="5.8" font-weight="bold" font-style="normal" text-anchor="start" fill="#000">2</text>
<text x="379" y="140.7" font-size="10" font-weight="bold" font-style="normal" text-anchor="end" fill="#000">10</text>
<text x="379.4" y="135.2" font-size="5.8" font-weight="bold" font-style="normal" text-anchor="start" fill="#000">3</text>
<text x="379" y="111.1" font-size="10" font-weight="bold" font-style="normal" text-anchor="end" fill="#000">10</text>
<text x="379.4" y="105.6" font-size="5.8" font-weight="bold" font-style="normal" text-anchor="start" fill="#000">4</text>
<text x="379" y="81.4" font-size="10" font-weight="bold" font-style="normal" text-anchor="end" fill="#000">10</text>
<text x="379.4" y="75.9" font-size="5.8" font-weight="bold" font-style="normal" text-anchor="start" fill="#000">5</text>
<text x="379" y="51.8" font-size="10" font-weight="bold" font-style="normal" text-anchor="end" fill="#000">10</text>
<text x="379.4" y="46.2" font-size="5.8" font-weight="bold" font-style="normal" text-anchor="start" fill="#000">6</text>
<text x="379" y="22.1" font-size="10" font-weight="bold" font-style="normal" text-anchor="end" fill="#000">10</text>
<text x="379.4" y="16.6" font-size="5.8" font-weight="bold" font-style="normal" text-anchor="start" fill="#000">7</text>
<line x1="392.4" y1="204.9" x2="392.4" y2="202.4" stroke="#000" stroke-width="1"/>
<line x1="418.6" y1="204.9" x2="418.6" y2="200.9" stroke="#000" stroke-width="1"/>
<text x="418.6" y="217.5" font-size="10" font-weight="bold" font-style="normal" text-anchor="middle" fill="#000">68.0</text>
<line x1="444.8" y1="204.9" x2="444.8" y2="202.4" stroke="#000" stroke-width="1"/>
<line x1="471" y1="204.9" x2="471" y2="200.9" stroke="#000" stroke-width="1"/>
<text x="471" y="217.5" font-size="10" font-weight="bold" font-style="normal" text-anchor="middle" fill="#000">68.5</text>
<line x1="497.2" y1="204.9" x2="497.2" y2="202.4" stroke="#000" stroke-width="1"/>
<line x1="523.4" y1="204.9" x2="523.4" y2="200.9" stroke="#000" stroke-width="1"/>
<text x="523.4" y="217.5" font-size="10" font-weight="bold" font-style="normal" text-anchor="middle" fill="#000">69.0</text>
<line x1="549.5" y1="204.9" x2="549.5" y2="202.4" stroke="#000" stroke-width="1"/>
<line x1="575.7" y1="204.9" x2="575.7" y2="200.9" stroke="#000" stroke-width="1"/>
<text x="575.7" y="217.5" font-size="10" font-weight="bold" font-style="normal" text-anchor="middle" fill="#000">69.5</text>
<line x1="601.9" y1="204.9" x2="601.9" y2="202.4" stroke="#000" stroke-width="1"/>
<line x1="628.1" y1="204.9" x2="628.1" y2="200.9" stroke="#000" stroke-width="1"/>
<text x="628.1" y="217.5" font-size="10" font-weight="bold" font-style="normal" text-anchor="middle" fill="#000">70.0</text>
<text x="517.6" y="237" font-size="12.3" font-weight="bold" font-style="normal" text-anchor="start" fill="#000" textLength="39.4" lengthAdjust="spacingAndGlyphs">2θ/ω (°)</text>
<text x="361.6" y="78.1" font-size="12.7" font-weight="bold" font-style="normal" text-anchor="middle" fill="#000" transform="rotate(-90 361.6 78.1)">Intensity (a.u.)</text>
<text x="447" y="190.2" font-size="17.5" font-weight="bold" font-style="normal" text-anchor="middle" fill="#000">(b)</text>
<text x="513" y="79.8" font-size="9" font-weight="bold" transform="rotate(-90 513 79.8)" textLength="24.5" lengthAdjust="spacingAndGlyphs">5.449 Å</text>
<text x="522.6" y="64.8" font-size="9" font-weight="bold" transform="rotate(-90 522.6 64.8)" textLength="24.5" lengthAdjust="spacingAndGlyphs">5.442 Å</text>
<text x="532.7" y="50" font-size="9" font-weight="bold" transform="rotate(-90 532.7 50)" textLength="24.5" lengthAdjust="spacingAndGlyphs">5.434 Å</text>
<text x="540.5" y="32.3" font-size="9" font-weight="bold" transform="rotate(-90 540.5 32.3)" textLength="24.5" lengthAdjust="spacingAndGlyphs">5.431 Å</text>
<line x1="501.7" y1="110" x2="501.7" y2="127.2" stroke="#000" stroke-width="0.8"/>
<line x1="501.7" y1="127.2" x2="511" y2="127.2" stroke="#000" stroke-width="0.8"/>
<path d="M499.8,112 L501.7,107.5 L503.6,112 Z" fill="#000"/>
<path d="M509,125.4 L513.5,127.2 L509,129 Z" fill="#000"/>
<rect x="397.5" y="9.2" width="106" height="46.3" fill="#000" stroke="none" stroke-width="1"/>
<rect x="394.5" y="6.2" width="106" height="46.3" fill="#fff" stroke="#999" stroke-width="1"/>
<line x1="400" y1="18" x2="421.3" y2="18" stroke="#a8a8a8" stroke-width="0.8"/>
<circle cx="410.6" cy="18" r="1" fill="#808080"/>
<text x="425" y="21.8" font-size="10.5" font-weight="bold" font-style="italic" text-anchor="start" fill="#000">p-Si substrate</text>
<line x1="400" y1="31.2" x2="421.3" y2="31.2" stroke="#ff6868" stroke-width="0.8"/>
<circle cx="410.6" cy="31.2" r="1" fill="#ff0000"/>
<text x="425" y="35" font-size="10.5" font-weight="bold" font-style="italic" text-anchor="start" fill="#000">NC_J</text>
<line x1="400" y1="44.5" x2="421.3" y2="44.5" stroke="#6868ff" stroke-width="0.8"/>
<circle cx="410.6" cy="44.5" r="1" fill="#0000ff"/>
<text x="425" y="48.3" font-size="10.5" font-weight="bold" font-style="italic" text-anchor="start" fill="#000">NC_CV</text>
<clipPath id="cc"><rect x="36.3" y="243.6" width="276.0" height="204.4"/></clipPath>
<g clip-path="url(#cc)">
<polyline points="58.7,258.4 85.1,267.2 101.2,283.0 111.8,297.6 120.6,300.7 127.7,308.2 134.2,316.6 138.9,324.3 143.5,330.6 147.8,336.8" fill="none" stroke="#808080" stroke-width="0.9" stroke-linejoin="round"/>
<rect x="57.5" y="257.2" width="2.4" height="2.4" fill="#808080"/>
<rect x="83.9" y="266.0" width="2.4" height="2.4" fill="#808080"/>
<rect x="100.0" y="281.8" width="2.4" height="2.4" fill="#808080"/>
<rect x="110.6" y="296.4" width="2.4" height="2.4" fill="#808080"/>
<rect x="119.4" y="299.5" width="2.4" height="2.4" fill="#808080"/>
<rect x="126.5" y="307.0" width="2.4" height="2.4" fill="#808080"/>
<rect x="133.0" y="315.4" width="2.4" height="2.4" fill="#808080"/>
<rect x="137.7" y="323.1" width="2.4" height="2.4" fill="#808080"/>
<rect x="142.3" y="329.4" width="2.4" height="2.4" fill="#808080"/>
<rect x="146.6" y="335.6" width="2.4" height="2.4" fill="#808080"/>
<polyline points="58.7,267.2 85.1,279.5 101.2,297.6 111.8,307.3 120.6,307.8 127.7,313.8 133.8,323.7 138.5,329.3 143.5,334.0 147.8,338.0" fill="none" stroke="#ff0000" stroke-width="1.2" stroke-linejoin="round"/>
<rect x="57.1" y="265.6" width="3.2" height="3.2" fill="#ff0000"/>
<rect x="83.5" y="277.9" width="3.2" height="3.2" fill="#ff0000"/>
<rect x="99.6" y="296.0" width="3.2" height="3.2" fill="#ff0000"/>
<rect x="110.2" y="305.7" width="3.2" height="3.2" fill="#ff0000"/>
<rect x="119.0" y="306.2" width="3.2" height="3.2" fill="#ff0000"/>
<rect x="126.1" y="312.2" width="3.2" height="3.2" fill="#ff0000"/>
<rect x="132.2" y="322.1" width="3.2" height="3.2" fill="#ff0000"/>
<rect x="136.9" y="327.7" width="3.2" height="3.2" fill="#ff0000"/>
<rect x="141.9" y="332.4" width="3.2" height="3.2" fill="#ff0000"/>
<rect x="146.2" y="336.4" width="3.2" height="3.2" fill="#ff0000"/>
<polyline points="58.7,269.2 85.1,279.9 101.2,294.8 111.8,300.7 120.6,310.3 127.7,320.0 133.8,326.5 138.5,329.9 143.5,334.0 147.8,338.6" fill="none" stroke="#0000ff" stroke-width="1.2" stroke-linejoin="round"/>
<rect x="57.1" y="267.6" width="3.2" height="3.2" fill="#0000ff"/>
<rect x="83.5" y="278.3" width="3.2" height="3.2" fill="#0000ff"/>
<rect x="99.6" y="293.2" width="3.2" height="3.2" fill="#0000ff"/>
<rect x="110.2" y="299.1" width="3.2" height="3.2" fill="#0000ff"/>
<rect x="119.0" y="308.7" width="3.2" height="3.2" fill="#0000ff"/>
<rect x="126.1" y="318.4" width="3.2" height="3.2" fill="#0000ff"/>
<rect x="132.2" y="324.9" width="3.2" height="3.2" fill="#0000ff"/>
<rect x="136.9" y="328.3" width="3.2" height="3.2" fill="#0000ff"/>
<rect x="141.9" y="332.4" width="3.2" height="3.2" fill="#0000ff"/>
<rect x="146.2" y="337.0" width="3.2" height="3.2" fill="#0000ff"/>
<polyline points="147.8,336.8 151.7,343.0 160.2,354.0 165.7,364.0 168.5,372.0 171.9,379.9 176.0,381.0 183.5,378.5 190.0,373.0 194.0,366.0 197.0,355.0 199.9,349.5 204.0,350.0 213.1,358.5 226.0,368.5 236.0,376.5 246.0,387.0 256.0,397.5 266.0,408.0 276.0,416.0 283.0,424.0" fill="none" stroke="#808080" stroke-width="2.0" stroke-linejoin="round"/>
<polyline points="147.8,338.0 151.7,343.5 160.2,354.0 165.7,362.0 170.3,370.0 172.7,376.0 178.0,374.0 186.7,366.7 191.3,358.9 193.7,351.1 198.3,347.7 203.0,348.5 206.9,350.3 213.1,356.0 226.0,367.0 236.0,375.5 246.0,385.8 256.0,396.0" fill="none" stroke="#ff0000" stroke-width="2.2" stroke-linejoin="round"/>
<polyline points="147.8,338.6 151.7,343.3 160.2,353.4 165.7,362.8 170.3,372.9 175.0,377.2 183.5,375.2 191.3,369.8 194.4,363.5 197.5,355.8 200.0,353.0 203.5,352.5 208.0,355.0 213.1,359.5 226.0,369.4 236.0,377.5 246.0,388.3 256.0,398.7" fill="none" stroke="#0000ff" stroke-width="2.6" stroke-linejoin="round"/>
<polygon points="270,414 276,417 283.5,425 286,431 284,434 278,426 270,419" fill="#808080"/>
<polygon points="256,398 266,409.5 276,417.5 283.5,423.5 291.5,423.5 291.5,432 290.5,441.5 288.5,441 287,436 283.5,430.5 276,423.5 266,414.5 256,402" fill="#ff0000"/>
<polygon points="254,393 256,396.9 266,406.2 276,410.6 283.5,414.3 290.4,415.2 291.6,417 291.6,427 290.4,427.5 283.5,426.5 276,420 266,412 256,401.2 253,398" fill="#0000ff"/>
<line x1="288.5" y1="430" x2="288.5" y2="448" stroke="#888" stroke-width="0.8"/>
<line x1="200.4" y1="344.4" x2="258" y2="399.5" stroke="#000" stroke-width="2.2" stroke-dasharray="6,5.5"/>
</g>
<rect x="36.3" y="243.6" width="276" height="204.4" fill="none" stroke="#000" stroke-width="1.3"/>
<line x1="36.3" y1="444.4" x2="38.8" y2="444.4" stroke="#000" stroke-width="1"/>
<line x1="36.3" y1="441.5" x2="38.8" y2="441.5" stroke="#000" stroke-width="1"/>
<line x1="36.3" y1="439.2" x2="38.8" y2="439.2" stroke="#000" stroke-width="1"/>
<line x1="36.3" y1="437.3" x2="38.8" y2="437.3" stroke="#000" stroke-width="1"/>
<line x1="36.3" y1="435.7" x2="38.8" y2="435.7" stroke="#000" stroke-width="1"/>
<line x1="36.3" y1="434.4" x2="38.8" y2="434.4" stroke="#000" stroke-width="1"/>
<line x1="36.3" y1="433.2" x2="38.8" y2="433.2" stroke="#000" stroke-width="1"/>
<line x1="36.3" y1="432.1" x2="40.3" y2="432.1" stroke="#000" stroke-width="1"/>
<line x1="36.3" y1="425" x2="38.8" y2="425" stroke="#000" stroke-width="1"/>
<line x1="36.3" y1="420.9" x2="38.8" y2="420.9" stroke="#000" stroke-width="1"/>
<line x1="36.3" y1="418" x2="38.8" y2="418" stroke="#000" stroke-width="1"/>
<line x1="36.3" y1="415.7" x2="38.8" y2="415.7" stroke="#000" stroke-width="1"/>
<line x1="36.3" y1="413.8" x2="38.8" y2="413.8" stroke="#000" stroke-width="1"/>
<line x1="36.3" y1="412.2" x2="38.8" y2="412.2" stroke="#000" stroke-width="1"/>
<line x1="36.3" y1="410.9" x2="38.8" y2="410.9" stroke="#000" stroke-width="1"/>
<line x1="36.3" y1="409.7" x2="38.8" y2="409.7" stroke="#000" stroke-width="1"/>
<line x1="36.3" y1="408.6" x2="40.3" y2="408.6" stroke="#000" stroke-width="1"/>
<line x1="36.3" y1="401.5" x2="38.8" y2="401.5" stroke="#000" stroke-width="1"/>
<line x1="36.3" y1="397.4" x2="38.8" y2="397.4" stroke="#000" stroke-width="1"/>
<line x1="36.3" y1="394.5" x2="38.8" y2="394.5" stroke="#000" stroke-width="1"/>
<line x1="36.3" y1="392.2" x2="38.8" y2="392.2" stroke="#000" stroke-width="1"/>
<line x1="36.3" y1="390.3" x2="38.8" y2="390.3" stroke="#000" stroke-width="1"/>
<line x1="36.3" y1="388.7" x2="38.8" y2="388.7" stroke="#000" stroke-width="1"/>
<line x1="36.3" y1="387.4" x2="38.8" y2="387.4" stroke="#000" stroke-width="1"/>
<line x1="36.3" y1="386.2" x2="38.8" y2="386.2" stroke="#000" stroke-width="1"/>
<line x1="36.3" y1="385.1" x2="40.3" y2="385.1" stroke="#000" stroke-width="1"/>
<line x1="36.3" y1="378" x2="38.8" y2="378" stroke="#000" stroke-width="1"/>
<line x1="36.3" y1="373.9" x2="38.8" y2="373.9" stroke="#000" stroke-width="1"/>
<line x1="36.3" y1="371" x2="38.8" y2="371" stroke="#000" stroke-width="1"/>
<line x1="36.3" y1="368.7" x2="38.8" y2="368.7" stroke="#000" stroke-width="1"/>
<line x1="36.3" y1="366.8" x2="38.8" y2="366.8" stroke="#000" stroke-width="1"/>
<line x1="36.3" y1="365.2" x2="38.8" y2="365.2" stroke="#000" stroke-width="1"/>
<line x1="36.3" y1="363.9" x2="38.8" y2="363.9" stroke="#000" stroke-width="1"/>
<line x1="36.3" y1="362.7" x2="38.8" y2="362.7" stroke="#000" stroke-width="1"/>
<line x1="36.3" y1="361.6" x2="40.3" y2="361.6" stroke="#000" stroke-width="1"/>
<line x1="36.3" y1="354.5" x2="38.8" y2="354.5" stroke="#000" stroke-width="1"/>
<line x1="36.3" y1="350.4" x2="38.8" y2="350.4" stroke="#000" stroke-width="1"/>
<line x1="36.3" y1="347.5" x2="38.8" y2="347.5" stroke="#000" stroke-width="1"/>
<line x1="36.3" y1="345.2" x2="38.8" y2="345.2" stroke="#000" stroke-width="1"/>
<line x1="36.3" y1="343.3" x2="38.8" y2="343.3" stroke="#000" stroke-width="1"/>
<line x1="36.3" y1="341.7" x2="38.8" y2="341.7" stroke="#000" stroke-width="1"/>
<line x1="36.3" y1="340.4" x2="38.8" y2="340.4" stroke="#000" stroke-width="1"/>
<line x1="36.3" y1="339.2" x2="38.8" y2="339.2" stroke="#000" stroke-width="1"/>
<line x1="36.3" y1="338.1" x2="40.3" y2="338.1" stroke="#000" stroke-width="1"/>
<line x1="36.3" y1="331" x2="38.8" y2="331" stroke="#000" stroke-width="1"/>
<line x1="36.3" y1="326.9" x2="38.8" y2="326.9" stroke="#000" stroke-width="1"/>
<line x1="36.3" y1="324" x2="38.8" y2="324" stroke="#000" stroke-width="1"/>
<line x1="36.3" y1="321.7" x2="38.8" y2="321.7" stroke="#000" stroke-width="1"/>
<line x1="36.3" y1="319.8" x2="38.8" y2="319.8" stroke="#000" stroke-width="1"/>
<line x1="36.3" y1="318.2" x2="38.8" y2="318.2" stroke="#000" stroke-width="1"/>
<line x1="36.3" y1="316.9" x2="38.8" y2="316.9" stroke="#000" stroke-width="1"/>
<line x1="36.3" y1="315.7" x2="38.8" y2="315.7" stroke="#000" stroke-width="1"/>
<line x1="36.3" y1="314.6" x2="40.3" y2="314.6" stroke="#000" stroke-width="1"/>
<line x1="36.3" y1="307.5" x2="38.8" y2="307.5" stroke="#000" stroke-width="1"/>
<line x1="36.3" y1="303.4" x2="38.8" y2="303.4" stroke="#000" stroke-width="1"/>
<line x1="36.3" y1="300.5" x2="38.8" y2="300.5" stroke="#000" stroke-width="1"/>
<line x1="36.3" y1="298.2" x2="38.8" y2="298.2" stroke="#000" stroke-width="1"/>
<line x1="36.3" y1="296.3" x2="38.8" y2="296.3" stroke="#000" stroke-width="1"/>
<line x1="36.3" y1="294.7" x2="38.8" y2="294.7" stroke="#000" stroke-width="1"/>
<line x1="36.3" y1="293.4" x2="38.8" y2="293.4" stroke="#000" stroke-width="1"/>
<line x1="36.3" y1="292.2" x2="38.8" y2="292.2" stroke="#000" stroke-width="1"/>
<line x1="36.3" y1="291.1" x2="40.3" y2="291.1" stroke="#000" stroke-width="1"/>
<line x1="36.3" y1="284" x2="38.8" y2="284" stroke="#000" stroke-width="1"/>
<line x1="36.3" y1="279.9" x2="38.8" y2="279.9" stroke="#000" stroke-width="1"/>
<line x1="36.3" y1="277" x2="38.8" y2="277" stroke="#000" stroke-width="1"/>
<line x1="36.3" y1="274.7" x2="38.8" y2="274.7" stroke="#000" stroke-width="1"/>
<line x1="36.3" y1="272.8" x2="38.8" y2="272.8" stroke="#000" stroke-width="1"/>
<line x1="36.3" y1="271.2" x2="38.8" y2="271.2" stroke="#000" stroke-width="1"/>
<line x1="36.3" y1="269.9" x2="38.8" y2="269.9" stroke="#000" stroke-width="1"/>
<line x1="36.3" y1="268.7" x2="38.8" y2="268.7" stroke="#000" stroke-width="1"/>
<line x1="36.3" y1="267.6" x2="40.3" y2="267.6" stroke="#000" stroke-width="1"/>
<line x1="36.3" y1="260.5" x2="38.8" y2="260.5" stroke="#000" stroke-width="1"/>
<line x1="36.3" y1="256.4" x2="38.8" y2="256.4" stroke="#000" stroke-width="1"/>
<line x1="36.3" y1="253.5" x2="38.8" y2="253.5" stroke="#000" stroke-width="1"/>
<line x1="36.3" y1="251.2" x2="38.8" y2="251.2" stroke="#000" stroke-width="1"/>
<line x1="36.3" y1="249.3" x2="38.8" y2="249.3" stroke="#000" stroke-width="1"/>
<line x1="36.3" y1="247.7" x2="38.8" y2="247.7" stroke="#000" stroke-width="1"/>
<line x1="36.3" y1="246.4" x2="38.8" y2="246.4" stroke="#000" stroke-width="1"/>
<line x1="36.3" y1="245.2" x2="38.8" y2="245.2" stroke="#000" stroke-width="1"/>
<line x1="36.3" y1="244.1" x2="40.3" y2="244.1" stroke="#000" stroke-width="1"/>
<text x="28.7" y="436.2" font-size="10" font-weight="bold" font-style="normal" text-anchor="end" fill="#000">10</text>
<text x="29.1" y="430.7" font-size="5.8" font-weight="bold" font-style="normal" text-anchor="start" fill="#000">1</text>
<text x="28.7" y="412.7" font-size="10" font-weight="bold" font-style="normal" text-anchor="end" fill="#000">10</text>
<text x="29.1" y="407.2" font-size="5.8" font-weight="bold" font-style="normal" text-anchor="start" fill="#000">2</text>
<text x="28.7" y="389.2" font-size="10" font-weight="bold" font-style="normal" text-anchor="end" fill="#000">10</text>
<text x="29.1" y="383.7" font-size="5.8" font-weight="bold" font-style="normal" text-anchor="start" fill="#000">3</text>
<text x="28.7" y="365.7" font-size="10" font-weight="bold" font-style="normal" text-anchor="end" fill="#000">10</text>
<text x="29.1" y="360.2" font-size="5.8" font-weight="bold" font-style="normal" text-anchor="start" fill="#000">4</text>
<text x="28.7" y="342.2" font-size="10" font-weight="bold" font-style="normal" text-anchor="end" fill="#000">10</text>
<text x="29.1" y="336.7" font-size="5.8" font-weight="bold" font-style="normal" text-anchor="start" fill="#000">5</text>
<text x="28.7" y="318.7" font-size="10" font-weight="bold" font-style="normal" text-anchor="end" fill="#000">10</text>
<text x="29.1" y="313.2" font-size="5.8" font-weight="bold" font-style="normal" text-anchor="start" fill="#000">6</text>
<text x="28.7" y="295.2" font-size="10" font-weight="bold" font-style="normal" text-anchor="end" fill="#000">10</text>
<text x="29.1" y="289.7" font-size="5.8" font-weight="bold" font-style="normal" text-anchor="start" fill="#000">7</text>
<text x="28.7" y="271.7" font-size="10" font-weight="bold" font-style="normal" text-anchor="end" fill="#000">10</text>
<text x="29.1" y="266.2" font-size="5.8" font-weight="bold" font-style="normal" text-anchor="start" fill="#000">8</text>
<text x="28.7" y="248.2" font-size="10" font-weight="bold" font-style="normal" text-anchor="end" fill="#000">10</text>
<text x="29.1" y="242.7" font-size="5.8" font-weight="bold" font-style="normal" text-anchor="start" fill="#000">9</text>
<line x1="40.6" y1="448" x2="40.6" y2="445.5" stroke="#000" stroke-width="1"/>
<line x1="44.7" y1="448" x2="44.7" y2="444" stroke="#000" stroke-width="1"/>
<line x1="71.6" y1="448" x2="71.6" y2="445.5" stroke="#000" stroke-width="1"/>
<line x1="87.3" y1="448" x2="87.3" y2="445.5" stroke="#000" stroke-width="1"/>
<line x1="98.5" y1="448" x2="98.5" y2="445.5" stroke="#000" stroke-width="1"/>
<line x1="107.1" y1="448" x2="107.1" y2="445.5" stroke="#000" stroke-width="1"/>
<line x1="114.2" y1="448" x2="114.2" y2="445.5" stroke="#000" stroke-width="1"/>
<line x1="120.2" y1="448" x2="120.2" y2="445.5" stroke="#000" stroke-width="1"/>
<line x1="125.3" y1="448" x2="125.3" y2="445.5" stroke="#000" stroke-width="1"/>
<line x1="129.9" y1="448" x2="129.9" y2="445.5" stroke="#000" stroke-width="1"/>
<line x1="134" y1="448" x2="134" y2="444" stroke="#000" stroke-width="1"/>
<line x1="160.9" y1="448" x2="160.9" y2="445.5" stroke="#000" stroke-width="1"/>
<line x1="176.6" y1="448" x2="176.6" y2="445.5" stroke="#000" stroke-width="1"/>
<line x1="187.8" y1="448" x2="187.8" y2="445.5" stroke="#000" stroke-width="1"/>
<line x1="196.4" y1="448" x2="196.4" y2="445.5" stroke="#000" stroke-width="1"/>
<line x1="203.5" y1="448" x2="203.5" y2="445.5" stroke="#000" stroke-width="1"/>
<line x1="209.5" y1="448" x2="209.5" y2="445.5" stroke="#000" stroke-width="1"/>
<line x1="214.6" y1="448" x2="214.6" y2="445.5" stroke="#000" stroke-width="1"/>
<line x1="219.2" y1="448" x2="219.2" y2="445.5" stroke="#000" stroke-width="1"/>
<line x1="223.3" y1="448" x2="223.3" y2="444" stroke="#000" stroke-width="1"/>
<line x1="250.2" y1="448" x2="250.2" y2="445.5" stroke="#000" stroke-width="1"/>
<line x1="265.9" y1="448" x2="265.9" y2="445.5" stroke="#000" stroke-width="1"/>
<line x1="277.1" y1="448" x2="277.1" y2="445.5" stroke="#000" stroke-width="1"/>
<line x1="285.7" y1="448" x2="285.7" y2="445.5" stroke="#000" stroke-width="1"/>
<line x1="292.8" y1="448" x2="292.8" y2="445.5" stroke="#000" stroke-width="1"/>
<line x1="298.8" y1="448" x2="298.8" y2="445.5" stroke="#000" stroke-width="1"/>
<line x1="303.9" y1="448" x2="303.9" y2="445.5" stroke="#000" stroke-width="1"/>
<line x1="308.5" y1="448" x2="308.5" y2="445.5" stroke="#000" stroke-width="1"/>
<text x="44.7" y="460" font-size="9.5" font-weight="bold" font-style="normal" text-anchor="middle" fill="#000">1E-3</text>
<text x="134" y="460" font-size="9.5" font-weight="bold" font-style="normal" text-anchor="middle" fill="#000">0.01</text>
<text x="223.3" y="460" font-size="9.5" font-weight="bold" font-style="normal" text-anchor="middle" fill="#000">0.1</text>
<text x="312.6" y="460" font-size="9.5" font-weight="bold" font-style="normal" text-anchor="middle" fill="#000">1</text>
<text x="186.4" y="476.2" font-size="12.4" font-weight="bold" font-style="normal" text-anchor="middle" fill="#000">q (nm<tspan font-size="10.5" dy="-6.2">-1</tspan><tspan dy="6.2">)</tspan></text>
<text x="9.5" y="336.3" font-size="12.5" font-weight="bold" font-style="normal" text-anchor="middle" fill="#000" transform="rotate(-90 9.5 336.3)">Intensity (cps.)</text>
<text x="67.8" y="434" font-size="17.5" font-weight="bold" font-style="normal" text-anchor="middle" fill="#000">(c)</text>
<rect x="237.1" y="360.6" width="55.2" height="14.6" fill="#fff" stroke="#999" stroke-width="1"/>
<text x="264.7" y="371.6" font-size="9" font-weight="bold" font-style="normal" text-anchor="middle" fill="#000">slope -3.4</text>
<rect x="197.5" y="254.8" width="108.8" height="47.2" fill="#000" stroke="none" stroke-width="1"/>
<rect x="194.5" y="251.8" width="108.8" height="47.2" fill="#fff" stroke="#999" stroke-width="1"/>
<line x1="201" y1="261" x2="224" y2="261" stroke="#808080" stroke-width="1.1"/>
<rect x="211.5" y="259.8" width="2.4" height="2.4" fill="#808080"/>
<text x="227.5" y="264.9" font-size="10.8" font-weight="bold" font-style="italic" text-anchor="start" fill="#000">p-Si substrate</text>
<line x1="201" y1="274.8" x2="224" y2="274.8" stroke="#ff0000" stroke-width="1.1"/>
<rect x="211.5" y="273.55" width="2.4" height="2.4" fill="#ff0000"/>
<text x="227.5" y="278.6" font-size="10.8" font-weight="bold" font-style="italic" text-anchor="start" fill="#000">NC_J</text>
<line x1="201" y1="288.5" x2="224" y2="288.5" stroke="#0000ff" stroke-width="1.1"/>
<rect x="211.5" y="287.3" width="2.4" height="2.4" fill="#0000ff"/>
<text x="227.5" y="292.4" font-size="10.8" font-weight="bold" font-style="italic" text-anchor="start" fill="#000">NC_CV</text>
<rect x="387.7" y="247.3" width="269.3" height="200.7" fill="none" stroke="#000" stroke-width="1.3"/>
<line x1="387.7" y1="432.6" x2="389.7" y2="432.6" stroke="#000" stroke-width="1"/>
<line x1="387.7" y1="417.2" x2="391.2" y2="417.2" stroke="#000" stroke-width="1"/>
<line x1="387.7" y1="401.8" x2="389.7" y2="401.8" stroke="#000" stroke-width="1"/>
<line x1="387.7" y1="386.4" x2="391.2" y2="386.4" stroke="#000" stroke-width="1"/>
<line x1="387.7" y1="370.9" x2="389.7" y2="370.9" stroke="#000" stroke-width="1"/>
<line x1="387.7" y1="355.5" x2="391.2" y2="355.5" stroke="#000" stroke-width="1"/>
<line x1="387.7" y1="340.1" x2="389.7" y2="340.1" stroke="#000" stroke-width="1"/>
<line x1="387.7" y1="324.7" x2="391.2" y2="324.7" stroke="#000" stroke-width="1"/>
<line x1="387.7" y1="309.3" x2="389.7" y2="309.3" stroke="#000" stroke-width="1"/>
<line x1="387.7" y1="293.9" x2="391.2" y2="293.9" stroke="#000" stroke-width="1"/>
<line x1="387.7" y1="278.5" x2="389.7" y2="278.5" stroke="#000" stroke-width="1"/>
<line x1="387.7" y1="263.1" x2="391.2" y2="263.1" stroke="#000" stroke-width="1"/>
<text x="383.3" y="451.7" font-size="10.3" font-weight="normal" font-style="normal" text-anchor="end" fill="#000">0</text>
<text x="383.3" y="420.9" font-size="10.3" font-weight="normal" font-style="normal" text-anchor="end" fill="#000">20</text>
<text x="383.3" y="390.1" font-size="10.3" font-weight="normal" font-style="normal" text-anchor="end" fill="#000">40</text>
<text x="383.3" y="359.2" font-size="10.3" font-weight="normal" font-style="normal" text-anchor="end" fill="#000">60</text>
<text x="383.3" y="328.4" font-size="10.3" font-weight="normal" font-style="normal" text-anchor="end" fill="#000">80</text>
<text x="383.3" y="297.6" font-size="10.3" font-weight="normal" font-style="normal" text-anchor="end" fill="#000">100</text>
<text x="383.3" y="266.8" font-size="10.3" font-weight="normal" font-style="normal" text-anchor="end" fill="#000">120</text>
<line x1="409.9" y1="448" x2="409.9" y2="444.5" stroke="#000" stroke-width="1"/>
<text x="409.9" y="462.3" font-size="10.3" font-weight="normal" font-style="normal" text-anchor="middle" fill="#000">0.0</text>
<line x1="432.3" y1="448" x2="432.3" y2="446" stroke="#000" stroke-width="1"/>
<line x1="454.8" y1="448" x2="454.8" y2="444.5" stroke="#000" stroke-width="1"/>
<text x="454.8" y="462.3" font-size="10.3" font-weight="normal" font-style="normal" text-anchor="middle" fill="#000">0.2</text>
<line x1="477.2" y1="448" x2="477.2" y2="446" stroke="#000" stroke-width="1"/>
<line x1="499.7" y1="448" x2="499.7" y2="444.5" stroke="#000" stroke-width="1"/>
<text x="499.7" y="462.3" font-size="10.3" font-weight="normal" font-style="normal" text-anchor="middle" fill="#000">0.4</text>
<line x1="522.1" y1="448" x2="522.1" y2="446" stroke="#000" stroke-width="1"/>
<line x1="544.6" y1="448" x2="544.6" y2="444.5" stroke="#000" stroke-width="1"/>
<text x="544.6" y="462.3" font-size="10.3" font-weight="normal" font-style="normal" text-anchor="middle" fill="#000">0.6</text>
<line x1="567" y1="448" x2="567" y2="446" stroke="#000" stroke-width="1"/>
<line x1="589.5" y1="448" x2="589.5" y2="444.5" stroke="#000" stroke-width="1"/>
<text x="589.5" y="462.3" font-size="10.3" font-weight="normal" font-style="normal" text-anchor="middle" fill="#000">0.8</text>
<line x1="612" y1="448" x2="612" y2="446" stroke="#000" stroke-width="1"/>
<line x1="634.4" y1="448" x2="634.4" y2="444.5" stroke="#000" stroke-width="1"/>
<text x="634.4" y="462.3" font-size="10.3" font-weight="normal" font-style="normal" text-anchor="middle" fill="#000">1.0</text>
<line x1="656.9" y1="448" x2="656.9" y2="446" stroke="#000" stroke-width="1"/>
<text x="515" y="477" font-size="12.2" font-weight="bold" font-style="normal" text-anchor="middle" fill="#000">Relative pressure (P/P<tspan font-size="10.5" dy="4.5">0</tspan><tspan dy="-4.5">)</tspan></text>
<text x="360.6" y="347.4" font-size="12.6" font-weight="bold" font-style="normal" text-anchor="middle" fill="#000" transform="rotate(-90 360.6 347.4)">Volume adsorbed (cm<tspan font-size="9" dy="-5.5">3</tspan><tspan dy="5.5">g</tspan><tspan font-size="9" dy="-5.5">-1</tspan><tspan dy="5.5">, STP)</tspan></text>
<text x="448.2" y="436" font-size="17.5" font-weight="bold" font-style="normal" text-anchor="middle" fill="#000">(d)</text>
<polyline points="412.1,420.6 417.7,414.1 423.3,410.0 432.1,405.1 443.8,400.7 455.0,397.3 465.9,394.1 477.0,390.8 488.6,388.0 498.9,385.2 507.1,381.3 510.9,380.0 522.0,375.7 533.2,369.6 544.4,362.6 555.6,346.8 567.3,325.6 578.1,295.7 590.8,279.6 596.3,280.0 606.1,281.0 612.5,281.5 618.0,281.5 623.0,281.5 628.3,281.5 633.7,281.0" fill="none" stroke="#808080" stroke-width="0.9" stroke-linejoin="round"/>
<polyline points="590.8,279.6 567.3,278.9 556.1,284.9 544.0,304.5 538.8,330.0 533.2,355.2 517.8,374.4" fill="none" stroke="#808080" stroke-width="0.9" stroke-linejoin="round"/>
<rect x="410.1" y="418.6" width="4.0" height="4.0" fill="#808080"/>
<rect x="415.7" y="412.1" width="4.0" height="4.0" fill="#808080"/>
<rect x="421.3" y="408.0" width="4.0" height="4.0" fill="#808080"/>
<rect x="430.1" y="403.1" width="4.0" height="4.0" fill="#808080"/>
<rect x="441.8" y="398.7" width="4.0" height="4.0" fill="#808080"/>
<rect x="453.0" y="395.3" width="4.0" height="4.0" fill="#808080"/>
<rect x="463.9" y="392.1" width="4.0" height="4.0" fill="#808080"/>
<rect x="475.0" y="388.8" width="4.0" height="4.0" fill="#808080"/>
<rect x="486.6" y="386.0" width="4.0" height="4.0" fill="#808080"/>
<rect x="496.9" y="383.2" width="4.0" height="4.0" fill="#808080"/>
<rect x="505.1" y="379.3" width="4.0" height="4.0" fill="#808080"/>
<rect x="508.9" y="378.0" width="4.0" height="4.0" fill="#808080"/>
<rect x="520.0" y="373.7" width="4.0" height="4.0" fill="#808080"/>
<rect x="531.2" y="367.6" width="4.0" height="4.0" fill="#808080"/>
<rect x="542.4" y="360.6" width="4.0" height="4.0" fill="#808080"/>
<rect x="553.6" y="344.8" width="4.0" height="4.0" fill="#808080"/>
<rect x="565.3" y="323.6" width="4.0" height="4.0" fill="#808080"/>
<rect x="576.1" y="293.7" width="4.0" height="4.0" fill="#808080"/>
<rect x="588.8" y="277.6" width="4.0" height="4.0" fill="#808080"/>
<rect x="594.3" y="278.0" width="4.0" height="4.0" fill="#808080"/>
<rect x="604.1" y="279.0" width="4.0" height="4.0" fill="#808080"/>
<rect x="610.5" y="279.5" width="4.0" height="4.0" fill="#808080"/>
<rect x="616.0" y="279.5" width="4.0" height="4.0" fill="#808080"/>
<rect x="621.0" y="279.5" width="4.0" height="4.0" fill="#808080"/>
<rect x="626.3" y="279.5" width="4.0" height="4.0" fill="#808080"/>
<rect x="631.7" y="279.0" width="4.0" height="4.0" fill="#808080"/>
<rect x="588.8" y="277.6" width="4.0" height="4.0" fill="#808080"/>
<rect x="565.3" y="276.9" width="4.0" height="4.0" fill="#808080"/>
<rect x="554.1" y="282.9" width="4.0" height="4.0" fill="#808080"/>
<rect x="542.0" y="302.5" width="4.0" height="4.0" fill="#808080"/>
<rect x="536.8" y="328.0" width="4.0" height="4.0" fill="#808080"/>
<rect x="531.2" y="353.2" width="4.0" height="4.0" fill="#808080"/>
<rect x="515.8" y="372.4" width="4.0" height="4.0" fill="#808080"/>
<polyline points="410.8,429.4 412.0,425.7 417.7,419.3 423.3,415.6 432.1,410.7 443.8,408.1 455.0,405.1 465.9,402.5 477.0,399.7 488.6,397.3 498.9,395.1 507.1,392.5 510.9,390.6 517.8,388.8 522.0,388.4 533.2,384.0 544.4,379.5 555.6,370.0 565.5,356.0 578.1,334.3 589.3,306.9 593.8,297.6 600.9,282.6 606.1,273.7 612.5,269.0 618.4,270.0 625.0,270.5 633.7,272.5" fill="none" stroke="#ff2020" stroke-width="1.1" stroke-linejoin="round"/>
<polyline points="633.7,272.5 606.1,268.8 596.3,268.3 590.8,268.3 573.8,279.5 566.9,296.6 556.1,325.0 550.5,345.0 544.4,364.5 533.2,383.5" fill="none" stroke="#ff2020" stroke-width="1.1" stroke-linejoin="round"/>
<rect x="408.7" y="427.2" width="4.3" height="4.3" fill="#ff0000"/>
<rect x="409.9" y="423.6" width="4.3" height="4.3" fill="#ff0000"/>
<rect x="415.6" y="417.2" width="4.3" height="4.3" fill="#ff0000"/>
<rect x="421.2" y="413.5" width="4.3" height="4.3" fill="#ff0000"/>
<rect x="430.0" y="408.6" width="4.3" height="4.3" fill="#ff0000"/>
<rect x="441.7" y="406.0" width="4.3" height="4.3" fill="#ff0000"/>
<rect x="452.9" y="403.0" width="4.3" height="4.3" fill="#ff0000"/>
<rect x="463.8" y="400.4" width="4.3" height="4.3" fill="#ff0000"/>
<rect x="474.9" y="397.6" width="4.3" height="4.3" fill="#ff0000"/>
<rect x="486.5" y="395.2" width="4.3" height="4.3" fill="#ff0000"/>
<rect x="496.8" y="393.0" width="4.3" height="4.3" fill="#ff0000"/>
<rect x="505.0" y="390.4" width="4.3" height="4.3" fill="#ff0000"/>
<rect x="508.8" y="388.5" width="4.3" height="4.3" fill="#ff0000"/>
<rect x="515.6" y="386.7" width="4.3" height="4.3" fill="#ff0000"/>
<rect x="519.9" y="386.2" width="4.3" height="4.3" fill="#ff0000"/>
<rect x="531.1" y="381.9" width="4.3" height="4.3" fill="#ff0000"/>
<rect x="542.2" y="377.4" width="4.3" height="4.3" fill="#ff0000"/>
<rect x="553.5" y="367.9" width="4.3" height="4.3" fill="#ff0000"/>
<rect x="563.4" y="353.9" width="4.3" height="4.3" fill="#ff0000"/>
<rect x="576.0" y="332.2" width="4.3" height="4.3" fill="#ff0000"/>
<rect x="587.1" y="304.8" width="4.3" height="4.3" fill="#ff0000"/>
<rect x="591.6" y="295.5" width="4.3" height="4.3" fill="#ff0000"/>
<rect x="598.8" y="280.5" width="4.3" height="4.3" fill="#ff0000"/>
<rect x="604.0" y="271.6" width="4.3" height="4.3" fill="#ff0000"/>
<rect x="610.4" y="266.9" width="4.3" height="4.3" fill="#ff0000"/>
<rect x="616.2" y="267.9" width="4.3" height="4.3" fill="#ff0000"/>
<rect x="622.9" y="268.4" width="4.3" height="4.3" fill="#ff0000"/>
<rect x="631.6" y="270.4" width="4.3" height="4.3" fill="#ff0000"/>
<rect x="631.6" y="270.4" width="4.3" height="4.3" fill="#ff0000"/>
<rect x="604.0" y="266.7" width="4.3" height="4.3" fill="#ff0000"/>
<rect x="594.1" y="266.2" width="4.3" height="4.3" fill="#ff0000"/>
<rect x="588.6" y="266.2" width="4.3" height="4.3" fill="#ff0000"/>
<rect x="571.6" y="277.4" width="4.3" height="4.3" fill="#ff0000"/>
<rect x="564.8" y="294.5" width="4.3" height="4.3" fill="#ff0000"/>
<rect x="554.0" y="322.9" width="4.3" height="4.3" fill="#ff0000"/>
<rect x="548.4" y="342.9" width="4.3" height="4.3" fill="#ff0000"/>
<rect x="542.2" y="362.4" width="4.3" height="4.3" fill="#ff0000"/>
<rect x="531.1" y="381.4" width="4.3" height="4.3" fill="#ff0000"/>
<polyline points="410.8,429.4 412.0,425.7 417.7,419.3 423.3,415.6 432.1,410.7 443.8,408.1 455.0,405.1 465.9,402.5 477.0,399.7 488.6,397.3 498.9,395.1 507.1,392.5 510.9,390.6 517.8,388.8 522.0,388.4 533.2,383.2 544.4,378.5 555.6,368.8 565.5,354.3 578.1,330.6 589.3,298.1 593.8,285.8 600.7,273.7 606.1,272.2 612.5,272.2 616.5,272.7 621.4,272.7 628.3,272.2 633.7,269.8" fill="none" stroke="#2020ff" stroke-width="1.1" stroke-linejoin="round"/>
<polyline points="633.7,269.8 596.3,271.7 589.9,271.7 573.8,272.0 566.9,276.1 556.1,315.7 549.6,340.0 544.4,363.6 533.2,383.2" fill="none" stroke="#2020ff" stroke-width="1.1" stroke-linejoin="round"/>
<rect x="408.7" y="427.2" width="4.3" height="4.3" fill="#0000ff"/>
<rect x="409.9" y="423.6" width="4.3" height="4.3" fill="#0000ff"/>
<rect x="415.6" y="417.2" width="4.3" height="4.3" fill="#0000ff"/>
<rect x="421.2" y="413.5" width="4.3" height="4.3" fill="#0000ff"/>
<rect x="430.0" y="408.6" width="4.3" height="4.3" fill="#0000ff"/>
<rect x="441.7" y="406.0" width="4.3" height="4.3" fill="#0000ff"/>
<rect x="452.9" y="403.0" width="4.3" height="4.3" fill="#0000ff"/>
<rect x="463.8" y="400.4" width="4.3" height="4.3" fill="#0000ff"/>
<rect x="474.9" y="397.6" width="4.3" height="4.3" fill="#0000ff"/>
<rect x="486.5" y="395.2" width="4.3" height="4.3" fill="#0000ff"/>
<rect x="496.8" y="393.0" width="4.3" height="4.3" fill="#0000ff"/>
<rect x="505.0" y="390.4" width="4.3" height="4.3" fill="#0000ff"/>
<rect x="508.8" y="388.5" width="4.3" height="4.3" fill="#0000ff"/>
<rect x="515.6" y="386.7" width="4.3" height="4.3" fill="#0000ff"/>
<rect x="519.9" y="386.2" width="4.3" height="4.3" fill="#0000ff"/>
<rect x="531.1" y="381.1" width="4.3" height="4.3" fill="#0000ff"/>
<rect x="542.2" y="376.4" width="4.3" height="4.3" fill="#0000ff"/>
<rect x="553.5" y="366.7" width="4.3" height="4.3" fill="#0000ff"/>
<rect x="563.4" y="352.2" width="4.3" height="4.3" fill="#0000ff"/>
<rect x="576.0" y="328.5" width="4.3" height="4.3" fill="#0000ff"/>
<rect x="587.1" y="296.0" width="4.3" height="4.3" fill="#0000ff"/>
<rect x="591.6" y="283.7" width="4.3" height="4.3" fill="#0000ff"/>
<rect x="598.6" y="271.6" width="4.3" height="4.3" fill="#0000ff"/>
<rect x="604.0" y="270.1" width="4.3" height="4.3" fill="#0000ff"/>
<rect x="610.4" y="270.1" width="4.3" height="4.3" fill="#0000ff"/>
<rect x="614.4" y="270.6" width="4.3" height="4.3" fill="#0000ff"/>
<rect x="619.2" y="270.6" width="4.3" height="4.3" fill="#0000ff"/>
<rect x="626.1" y="270.1" width="4.3" height="4.3" fill="#0000ff"/>
<rect x="631.6" y="267.7" width="4.3" height="4.3" fill="#0000ff"/>
<rect x="631.6" y="267.7" width="4.3" height="4.3" fill="#0000ff"/>
<rect x="594.1" y="269.6" width="4.3" height="4.3" fill="#0000ff"/>
<rect x="587.8" y="269.6" width="4.3" height="4.3" fill="#0000ff"/>
<rect x="571.6" y="269.9" width="4.3" height="4.3" fill="#0000ff"/>
<rect x="564.8" y="274.0" width="4.3" height="4.3" fill="#0000ff"/>
<rect x="554.0" y="313.6" width="4.3" height="4.3" fill="#0000ff"/>
<rect x="547.5" y="337.9" width="4.3" height="4.3" fill="#0000ff"/>
<rect x="542.2" y="361.5" width="4.3" height="4.3" fill="#0000ff"/>
<rect x="531.1" y="381.1" width="4.3" height="4.3" fill="#0000ff"/>
<rect x="413.7" y="252.7" width="120.6" height="90.8" fill="#fff" stroke="#999" stroke-width="0.8"/>
<line x1="413.7" y1="338.6" x2="415.7" y2="338.6" stroke="#666" stroke-width="0.7"/>
<text x="411.3" y="340.8" font-size="5.8" font-weight="bold" font-style="normal" text-anchor="end" fill="#333">0.00</text>
<line x1="413.7" y1="313.2" x2="415.7" y2="313.2" stroke="#666" stroke-width="0.7"/>
<text x="411.3" y="315.4" font-size="5.8" font-weight="bold" font-style="normal" text-anchor="end" fill="#333">0.05</text>
<line x1="413.7" y1="287.8" x2="415.7" y2="287.8" stroke="#666" stroke-width="0.7"/>
<text x="411.3" y="290" font-size="5.8" font-weight="bold" font-style="normal" text-anchor="end" fill="#333">0.10</text>
<line x1="413.7" y1="262.4" x2="415.7" y2="262.4" stroke="#666" stroke-width="0.7"/>
<text x="411.3" y="264.6" font-size="5.8" font-weight="bold" font-style="normal" text-anchor="end" fill="#333">0.15</text>
<line x1="413.7" y1="325.9" x2="414.9" y2="325.9" stroke="#666" stroke-width="0.7"/>
<line x1="413.7" y1="300.5" x2="414.9" y2="300.5" stroke="#666" stroke-width="0.7"/>
<line x1="413.7" y1="275.1" x2="414.9" y2="275.1" stroke="#666" stroke-width="0.7"/>
<line x1="413.4" y1="343.5" x2="413.4" y2="341.5" stroke="#666" stroke-width="0.7"/>
<text x="413.4" y="350.3" font-size="6.6" font-weight="normal" font-style="normal" text-anchor="middle" fill="#222">0</text>
<line x1="421.4" y1="343.5" x2="421.4" y2="342.3" stroke="#666" stroke-width="0.7"/>
<line x1="429.4" y1="343.5" x2="429.4" y2="341.5" stroke="#666" stroke-width="0.7"/>
<text x="429.4" y="350.3" font-size="6.6" font-weight="normal" font-style="normal" text-anchor="middle" fill="#222">2</text>
<line x1="437.3" y1="343.5" x2="437.3" y2="342.3" stroke="#666" stroke-width="0.7"/>
<line x1="445.3" y1="343.5" x2="445.3" y2="341.5" stroke="#666" stroke-width="0.7"/>
<text x="445.3" y="350.3" font-size="6.6" font-weight="normal" font-style="normal" text-anchor="middle" fill="#222">4</text>
<line x1="453.3" y1="343.5" x2="453.3" y2="342.3" stroke="#666" stroke-width="0.7"/>
<line x1="461.3" y1="343.5" x2="461.3" y2="341.5" stroke="#666" stroke-width="0.7"/>
<text x="461.3" y="350.3" font-size="6.6" font-weight="normal" font-style="normal" text-anchor="middle" fill="#222">6</text>
<line x1="469.3" y1="343.5" x2="469.3" y2="342.3" stroke="#666" stroke-width="0.7"/>
<line x1="477.2" y1="343.5" x2="477.2" y2="341.5" stroke="#666" stroke-width="0.7"/>
<text x="477.2" y="350.3" font-size="6.6" font-weight="normal" font-style="normal" text-anchor="middle" fill="#222">8</text>
<line x1="485.2" y1="343.5" x2="485.2" y2="342.3" stroke="#666" stroke-width="0.7"/>
<line x1="493.2" y1="343.5" x2="493.2" y2="341.5" stroke="#666" stroke-width="0.7"/>
<text x="493.2" y="350.3" font-size="6.6" font-weight="normal" font-style="normal" text-anchor="middle" fill="#222">10</text>
<line x1="501.2" y1="343.5" x2="501.2" y2="342.3" stroke="#666" stroke-width="0.7"/>
<line x1="509.2" y1="343.5" x2="509.2" y2="341.5" stroke="#666" stroke-width="0.7"/>
<text x="509.2" y="350.3" font-size="6.6" font-weight="normal" font-style="normal" text-anchor="middle" fill="#222">12</text>
<line x1="517.1" y1="343.5" x2="517.1" y2="342.3" stroke="#666" stroke-width="0.7"/>
<line x1="525.1" y1="343.5" x2="525.1" y2="341.5" stroke="#666" stroke-width="0.7"/>
<text x="525.1" y="350.3" font-size="6.6" font-weight="normal" font-style="normal" text-anchor="middle" fill="#222">14</text>
<text x="474" y="359.3" font-size="7.8" font-weight="normal" font-style="normal" text-anchor="middle" fill="#222">D (nm)</text>
<text x="395.5" y="300" font-size="7.0" font-weight="normal" font-style="normal" text-anchor="middle" fill="#222" transform="rotate(-90 395.5 300)">dV/dD (cm<tspan font-size="5" dy="-2.8">3</tspan><tspan dy="2.8">g</tspan><tspan font-size="5" dy="-2.8">-1</tspan><tspan dy="2.8"> nm</tspan><tspan font-size="5" dy="-2.8">-1</tspan><tspan dy="2.8">)</tspan></text>
<polyline points="436.6,335.4 441.6,333.5 446.6,309.3 451.4,262.0 455.9,300.0 460.0,338.3 534.0,338.3" fill="none" stroke="#888" stroke-width="0.8" stroke-linejoin="round"/>
<rect x="435.6" y="334.4" width="2" height="2" fill="#888"/>
<rect x="440.6" y="332.5" width="2" height="2" fill="#888"/>
<rect x="445.6" y="308.3" width="2" height="2" fill="#888"/>
<rect x="450.4" y="261.0" width="2" height="2" fill="#888"/>
<rect x="454.9" y="299.0" width="2" height="2" fill="#888"/>
<rect x="459.0" y="337.3" width="2" height="2" fill="#888"/>
<polyline points="429.8,338.5 441.6,338.5 446.3,333.3 450.5,313.4 455.9,301.0 463.1,316.7 472.4,329.2 483.2,334.2 493.0,336.3" fill="none" stroke="#ff2020" stroke-width="0.9" stroke-linejoin="round"/>
<rect x="428.3" y="337.0" width="3" height="3" fill="#ff0000"/>
<rect x="440.1" y="337.0" width="3" height="3" fill="#ff0000"/>
<rect x="444.8" y="331.8" width="3" height="3" fill="#ff0000"/>
<rect x="449.0" y="311.9" width="3" height="3" fill="#ff0000"/>
<rect x="454.4" y="299.5" width="3" height="3" fill="#ff0000"/>
<rect x="461.6" y="315.2" width="3" height="3" fill="#ff0000"/>
<rect x="470.9" y="327.7" width="3" height="3" fill="#ff0000"/>
<rect x="481.7" y="332.7" width="3" height="3" fill="#ff0000"/>
<rect x="491.5" y="334.8" width="3" height="3" fill="#ff0000"/>
<polyline points="427.3,337.9 441.0,337.0 444.7,334.8 450.0,317.4 455.6,292.5 462.7,306.2 476.2,338.3 534.0,338.3" fill="none" stroke="#2020ff" stroke-width="0.9" stroke-linejoin="round"/>
<rect x="425.8" y="336.4" width="3" height="3" fill="#0000ff"/>
<rect x="439.5" y="335.5" width="3" height="3" fill="#0000ff"/>
<rect x="443.2" y="333.3" width="3" height="3" fill="#0000ff"/>
<rect x="448.5" y="315.9" width="3" height="3" fill="#0000ff"/>
<rect x="454.1" y="291.0" width="3" height="3" fill="#0000ff"/>
<rect x="461.2" y="304.7" width="3" height="3" fill="#0000ff"/>
<rect x="474.7" y="336.8" width="3" height="3" fill="#0000ff"/>
<rect x="539.5" y="398.7" width="113.8" height="46.2" fill="#000" stroke="none" stroke-width="1"/>
<rect x="536.5" y="395.7" width="113.8" height="46.2" fill="#fff" stroke="#999" stroke-width="1"/>
<line x1="544.8" y1="406.2" x2="568.4" y2="406.2" stroke="#a0a0a0" stroke-width="1.2"/>
<rect x="554.6" y="404.2" width="4" height="4" fill="#808080"/>
<text x="572.3" y="410.1" font-size="10.7" font-weight="bold" font-style="italic" text-anchor="start" fill="#000">p-Si substrate</text>
<line x1="544.8" y1="419.3" x2="568.4" y2="419.3" stroke="#ff5050" stroke-width="1.2"/>
<rect x="554.6" y="417.3" width="4" height="4" fill="#ff0000"/>
<text x="572.3" y="423.2" font-size="10.7" font-weight="bold" font-style="italic" text-anchor="start" fill="#000">NC_J</text>
<line x1="544.8" y1="432.6" x2="568.4" y2="432.6" stroke="#4040ff" stroke-width="1.2"/>
<rect x="554.6" y="430.6" width="4" height="4" fill="#0000ff"/>
<text x="572.3" y="436.5" font-size="10.7" font-weight="bold" font-style="italic" text-anchor="start" fill="#000">NC_CV</text>
</svg></body></html>
